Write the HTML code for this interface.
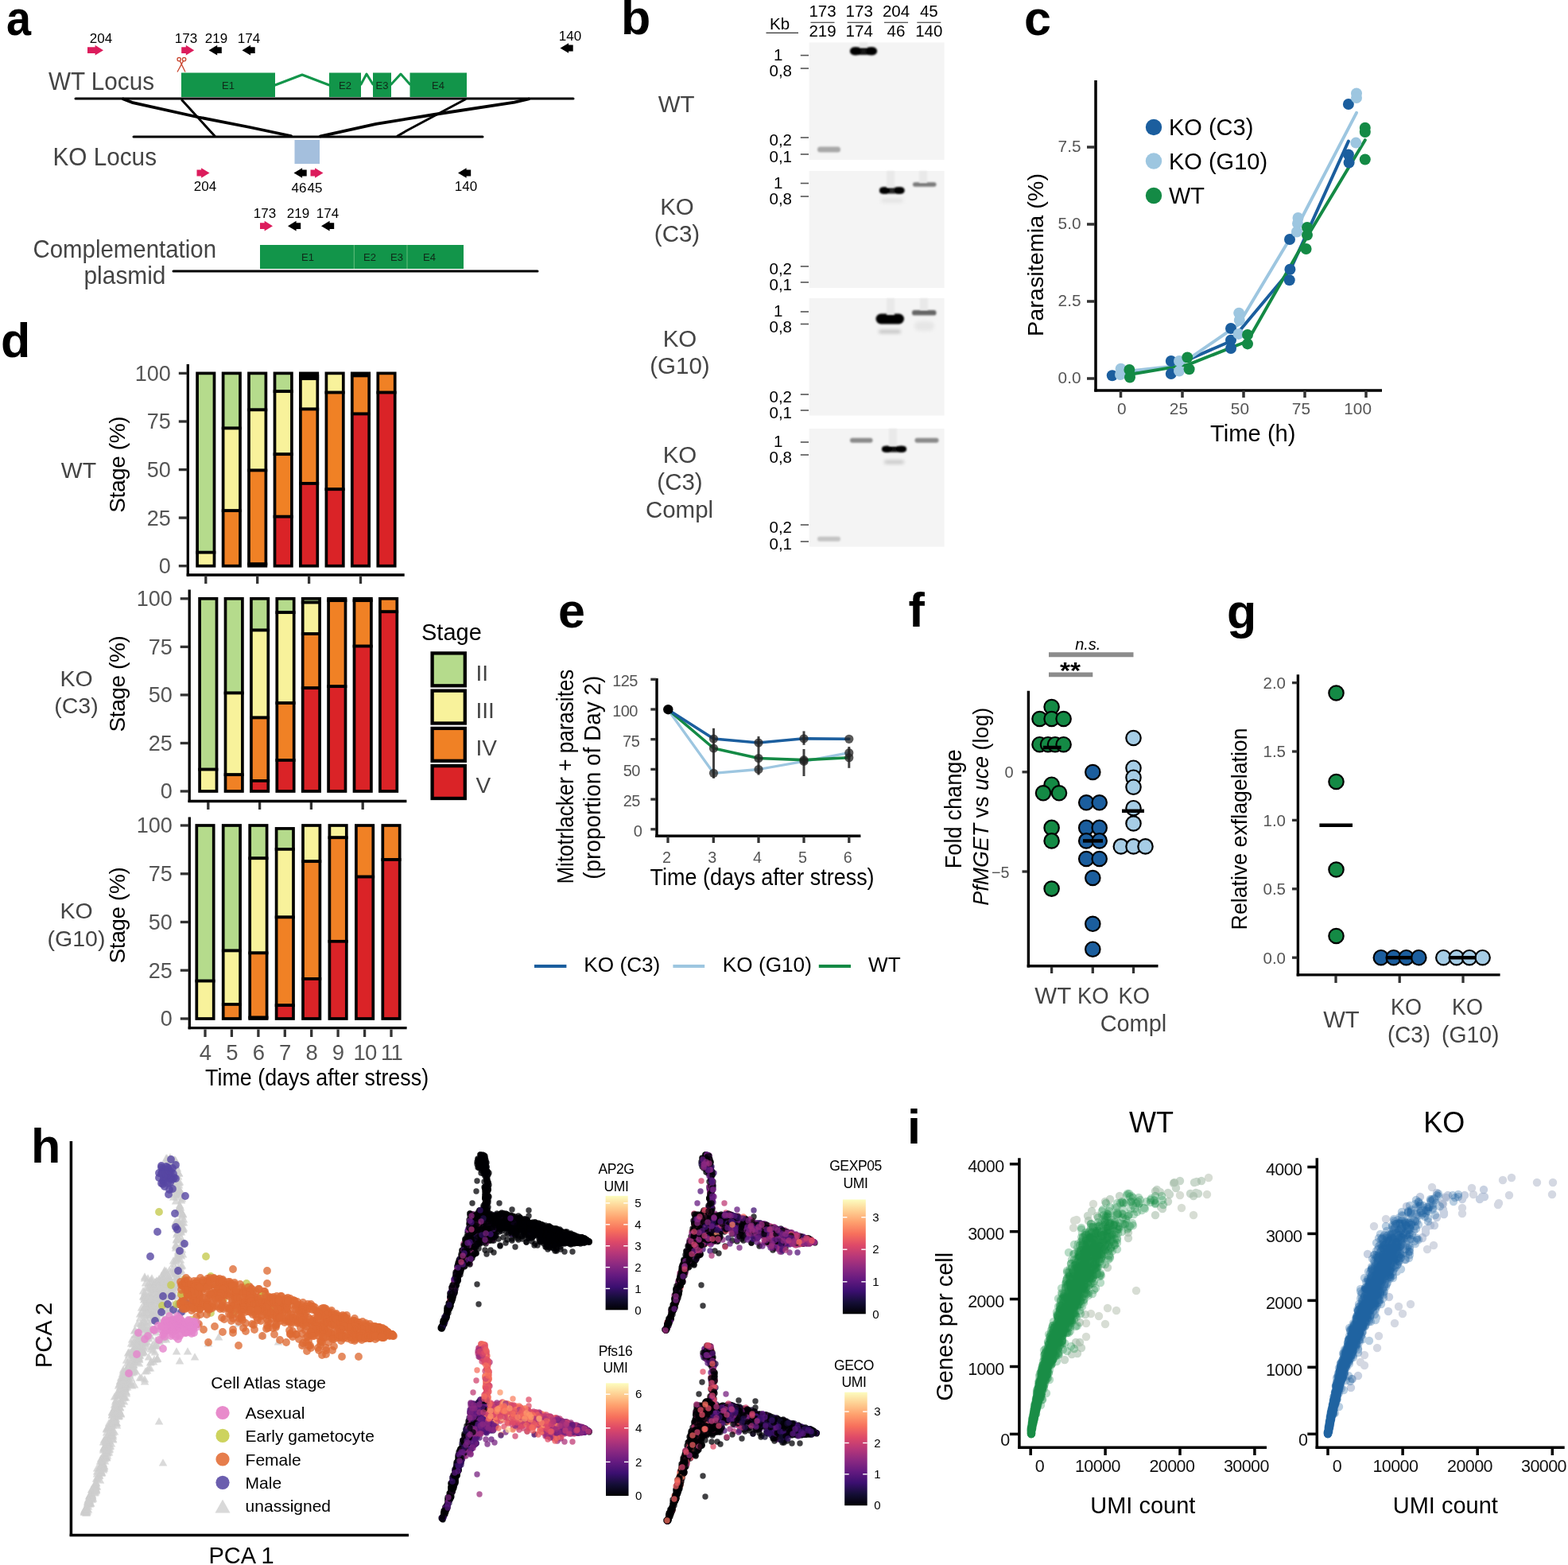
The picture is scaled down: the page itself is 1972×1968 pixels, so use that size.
<!DOCTYPE html>
<html><head><meta charset="utf-8"><title>Figure</title>
<style>html,body{margin:0;padding:0;background:#fff;}svg{display:block;}text{font-family:'Liberation Sans', Arial, Helvetica, sans-serif;}</style>
</head><body>
<svg xmlns="http://www.w3.org/2000/svg" width="1972" height="1968" viewBox="0 0 1972 1968">
<rect width="1972" height="1968" fill="#fff"/>
<text x="8" y="43.5" font-size="62" textLength="31" lengthAdjust="spacingAndGlyphs" font-weight="bold">a</text>
<text x="127" y="53.5" font-size="17" text-anchor="middle">204</text>
<text x="234" y="53.5" font-size="17" text-anchor="middle">173</text>
<text x="272" y="53.5" font-size="17" text-anchor="middle">219</text>
<text x="313" y="53.5" font-size="17" text-anchor="middle">174</text>
<text x="717" y="51" font-size="17" text-anchor="middle">140</text>
<path d="M110 59.3h9.6v-2.45l10.4 6.35l-10.4 6.35v-2.45h-9.6z" fill="#dc1c5c"/>
<path d="M228.2 59.3h5.6v-2.45l10.4 6.35l-10.4 6.35v-2.45h-5.6z" fill="#dc1c5c"/>
<path d="M262.6 63.2l10.6 -6.35v2.45h5.6v7.8h-5.6v2.45z" fill="#000"/>
<path d="M304.5 63.2l10.6 -6.35v2.45h5.6v7.8h-5.6v2.45z" fill="#000"/>
<path d="M704.5 60.5l10.6 -6.35v2.45h5.6v7.8h-5.6v2.45z" fill="#000"/>
<g stroke="#c9452e" stroke-width="1.3" fill="none"><circle cx="225.2" cy="74.6" r="2.2"/><circle cx="231.6" cy="74.6" r="2.2"/><path d="M226.3 76.6L233 90.5M230.5 76.6L223 90.5"/></g>
<text x="61" y="112.5" font-size="30.5" textLength="133" lengthAdjust="spacingAndGlyphs" fill="#444">WT Locus</text>
<rect x="228" y="91.5" width="118" height="30.5" fill="#12954a"/>
<rect x="414" y="91.5" width="40" height="30.5" fill="#12954a"/>
<rect x="469" y="91.5" width="23" height="30.5" fill="#12954a"/>
<rect x="515.5" y="91.5" width="71.5" height="30.5" fill="#12954a"/>
<path d="M346 107 L380 94 L414 107" fill="none" stroke="#12954a" stroke-width="3" stroke-linejoin="round" stroke-linecap="round"/>
<path d="M454 106 L461 93 L469 106" fill="none" stroke="#12954a" stroke-width="3" stroke-linejoin="round" stroke-linecap="round"/>
<path d="M492 106 L504 93 L515.5 106" fill="none" stroke="#12954a" stroke-width="3" stroke-linejoin="round" stroke-linecap="round"/>
<text x="287" y="111.5" font-size="13" fill="#0f2a18" text-anchor="middle">E1</text>
<text x="434" y="111.5" font-size="13" fill="#0f2a18" text-anchor="middle">E2</text>
<text x="480.5" y="111.5" font-size="13" fill="#0f2a18" text-anchor="middle">E3</text>
<text x="551" y="111.5" font-size="13" fill="#0f2a18" text-anchor="middle">E4</text>
<line x1="95" y1="124" x2="721" y2="124" stroke="#000" stroke-width="3" stroke-linecap="round"/>
<line x1="168" y1="172" x2="607" y2="172" stroke="#000" stroke-width="3" stroke-linecap="round"/>
<path d="M155 124.5 L166 128.8 L250 147.5 L314 160 L366 171" fill="none" stroke="#000" stroke-width="3.8" stroke-linejoin="round" stroke-linecap="round"/>
<path d="M229 126 L270 171" fill="none" stroke="#000" stroke-width="3" stroke-linejoin="round" stroke-linecap="round"/>
<path d="M585 125 L512 164 L500 171" fill="none" stroke="#000" stroke-width="3" stroke-linejoin="round" stroke-linecap="round"/>
<path d="M665 124.5 L647 128.6 L546 144 L473 155.8 L403 171.3" fill="none" stroke="#000" stroke-width="3.8" stroke-linejoin="round" stroke-linecap="round"/>
<rect x="370.5" y="176" width="31.5" height="30" fill="#a4bfdd"/>
<text x="66.5" y="208" font-size="30.5" textLength="130.5" lengthAdjust="spacingAndGlyphs" fill="#444">KO Locus</text>
<path d="M247.5 213.6h5.6v-2.45l10.4 6.35l-10.4 6.35v-2.45h-5.6z" fill="#dc1c5c"/>
<path d="M369.5 217.5l10.6 -6.35v2.45h5.6v7.8h-5.6v2.45z" fill="#000"/>
<path d="M390.5 213.6h5.6v-2.45l10.4 6.35l-10.4 6.35v-2.45h-5.6z" fill="#dc1c5c"/>
<path d="M576 217.5l10.6 -6.35v2.45h5.6v7.8h-5.6v2.45z" fill="#000"/>
<text x="258" y="240" font-size="17" text-anchor="middle">204</text>
<text x="376" y="242" font-size="17" text-anchor="middle">46</text>
<text x="396" y="242" font-size="17" text-anchor="middle">45</text>
<text x="586" y="240" font-size="17" text-anchor="middle">140</text>
<text x="333" y="274" font-size="17" text-anchor="middle">173</text>
<text x="375" y="274" font-size="17" text-anchor="middle">219</text>
<text x="412" y="274" font-size="17" text-anchor="middle">174</text>
<path d="M327 280.3h5.6v-2.45l10.4 6.35l-10.4 6.35v-2.45h-5.6z" fill="#dc1c5c"/>
<path d="M362 284.2l10.6 -6.35v2.45h5.6v7.8h-5.6v2.45z" fill="#000"/>
<path d="M404 284.2l10.6 -6.35v2.45h5.6v7.8h-5.6v2.45z" fill="#000"/>
<text x="41.5" y="324" font-size="30.5" textLength="230.5" lengthAdjust="spacingAndGlyphs" fill="#444">Complementation</text>
<text x="105.5" y="356.5" font-size="30.5" textLength="103" lengthAdjust="spacingAndGlyphs" fill="#444">plasmid</text>
<rect x="327" y="308" width="256" height="30" fill="#12954a"/>
<line x1="445.3" y1="308" x2="445.3" y2="338" stroke="#7bc98a" stroke-width="0.8"/>
<line x1="512" y1="308" x2="512" y2="338" stroke="#7bc98a" stroke-width="0.8"/>
<text x="387" y="328" font-size="13" fill="#0f2a18" text-anchor="middle">E1</text>
<text x="465" y="328" font-size="13" fill="#0f2a18" text-anchor="middle">E2</text>
<text x="499" y="328" font-size="13" fill="#0f2a18" text-anchor="middle">E3</text>
<text x="540" y="328" font-size="13" fill="#0f2a18" text-anchor="middle">E4</text>
<line x1="218" y1="341" x2="676" y2="341" stroke="#000" stroke-width="3" stroke-linecap="round"/>
<text x="781" y="43" font-size="61" font-weight="bold">b</text>
<defs><filter id="bl" x="-30%" y="-80%" width="160%" height="260%"><feGaussianBlur stdDeviation="1.3"/></filter><filter id="bl2" x="-30%" y="-80%" width="160%" height="260%"><feGaussianBlur stdDeviation="2"/></filter></defs>
<text x="968" y="37" font-size="20.5">Kb</text>
<line x1="963.5" y1="41.4" x2="1004" y2="41.4" stroke="#333" stroke-width="1.2"/>
<text x="1034.5" y="21" font-size="20.5" text-anchor="middle">173</text>
<text x="1034.5" y="45.8" font-size="20.5" text-anchor="middle">219</text>
<line x1="1019.5" y1="28.3" x2="1049.5" y2="28.3" stroke="#555" stroke-width="1.3"/>
<text x="1080.7" y="21" font-size="20.5" text-anchor="middle">173</text>
<text x="1080.7" y="45.8" font-size="20.5" text-anchor="middle">174</text>
<line x1="1065.7" y1="28.3" x2="1095.7" y2="28.3" stroke="#555" stroke-width="1.3"/>
<text x="1127" y="21" font-size="20.5" text-anchor="middle">204</text>
<text x="1127" y="45.8" font-size="20.5" text-anchor="middle">46</text>
<line x1="1112" y1="28.3" x2="1142" y2="28.3" stroke="#555" stroke-width="1.3"/>
<text x="1168.3" y="21" font-size="20.5" text-anchor="middle">45</text>
<text x="1168.3" y="45.8" font-size="20.5" text-anchor="middle">140</text>
<line x1="1153.3" y1="28.3" x2="1183.3" y2="28.3" stroke="#555" stroke-width="1.3"/>
<rect x="1017.6" y="53.5" width="170" height="147.5" fill="#f4f4f4"/>
<line x1="1006.8" y1="69.6" x2="1017" y2="69.6" stroke="#555" stroke-width="1.6"/>
<text x="984.5" y="75.7" font-size="20.5" text-anchor="end">1</text>
<line x1="1006.8" y1="86" x2="1017" y2="86" stroke="#555" stroke-width="1.6"/>
<text x="996" y="96.1" font-size="20.5" text-anchor="end">0,8</text>
<line x1="1006.8" y1="173" x2="1017" y2="173" stroke="#555" stroke-width="1.6"/>
<text x="996" y="183.1" font-size="20.5" text-anchor="end">0,2</text>
<line x1="1006.8" y1="194" x2="1017" y2="194" stroke="#555" stroke-width="1.6"/>
<text x="996" y="204.1" font-size="20.5" text-anchor="end">0,1</text>
<rect x="1017.6" y="215" width="170" height="147" fill="#f4f4f4"/>
<line x1="1006.8" y1="230.5" x2="1017" y2="230.5" stroke="#555" stroke-width="1.6"/>
<text x="984.5" y="236.6" font-size="20.5" text-anchor="end">1</text>
<line x1="1006.8" y1="247" x2="1017" y2="247" stroke="#555" stroke-width="1.6"/>
<text x="996" y="257.1" font-size="20.5" text-anchor="end">0,8</text>
<line x1="1006.8" y1="335" x2="1017" y2="335" stroke="#555" stroke-width="1.6"/>
<text x="996" y="345.1" font-size="20.5" text-anchor="end">0,2</text>
<line x1="1006.8" y1="355" x2="1017" y2="355" stroke="#555" stroke-width="1.6"/>
<text x="996" y="365.1" font-size="20.5" text-anchor="end">0,1</text>
<rect x="1017.6" y="375" width="170" height="147.5" fill="#f4f4f4"/>
<line x1="1006.8" y1="392" x2="1017" y2="392" stroke="#555" stroke-width="1.6"/>
<text x="984.5" y="398.1" font-size="20.5" text-anchor="end">1</text>
<line x1="1006.8" y1="407.5" x2="1017" y2="407.5" stroke="#555" stroke-width="1.6"/>
<text x="996" y="417.6" font-size="20.5" text-anchor="end">0,8</text>
<line x1="1006.8" y1="496" x2="1017" y2="496" stroke="#555" stroke-width="1.6"/>
<text x="996" y="506.1" font-size="20.5" text-anchor="end">0,2</text>
<line x1="1006.8" y1="516" x2="1017" y2="516" stroke="#555" stroke-width="1.6"/>
<text x="996" y="526.1" font-size="20.5" text-anchor="end">0,1</text>
<rect x="1017.6" y="539" width="170" height="148.5" fill="#f4f4f4"/>
<line x1="1006.8" y1="556" x2="1017" y2="556" stroke="#555" stroke-width="1.6"/>
<text x="984.5" y="562.1" font-size="20.5" text-anchor="end">1</text>
<line x1="1006.8" y1="572" x2="1017" y2="572" stroke="#555" stroke-width="1.6"/>
<text x="996" y="582.1" font-size="20.5" text-anchor="end">0,8</text>
<line x1="1006.8" y1="660" x2="1017" y2="660" stroke="#555" stroke-width="1.6"/>
<text x="996" y="670.1" font-size="20.5" text-anchor="end">0,2</text>
<line x1="1006.8" y1="681" x2="1017" y2="681" stroke="#555" stroke-width="1.6"/>
<text x="996" y="691.1" font-size="20.5" text-anchor="end">0,1</text>
<g filter="url(#bl)"><rect x="1069" y="59" width="34" height="9.5" rx="4.7" transform="translate(0 0.5)" fill="#151515"/><ellipse cx="1076.1" cy="64.3" rx="7.1" ry="5.2" fill="#000"/><ellipse cx="1095.9" cy="64.3" rx="7.1" ry="5.2" fill="#000"/></g>
<rect x="1028" y="184.5" width="29" height="7" rx="3.5" fill="#a8a8a8" filter="url(#bl)"/>
<g filter="url(#bl)"><rect x="1106" y="235" width="31.5" height="8.1" rx="4" transform="translate(0 0.5)" fill="#252525"/><ellipse cx="1112.6" cy="239.5" rx="6.6" ry="4.5" fill="#000"/><ellipse cx="1130.9" cy="239.5" rx="6.6" ry="4.5" fill="#000"/></g>
<rect x="1148" y="229.2" width="29.5" height="5.5" rx="2.8" fill="#7a7a7a" filter="url(#bl)"/>
<rect x="1108" y="249" width="28" height="6" rx="3" fill="#e4e4e4" filter="url(#bl2)"/>
<rect x="1101.5" y="394.5" width="35.5" height="13" rx="6.5" fill="#000" filter="url(#bl)"/>
<rect x="1105" y="415" width="28" height="4" rx="2" fill="#bdbdbd" filter="url(#bl2)"/>
<rect x="1147" y="390.1" width="30.5" height="6.5" rx="3.2" fill="#666" filter="url(#bl)"/>
<rect x="1150" y="404" width="25" height="12" rx="6" fill="#e6e6e6" filter="url(#bl2)"/>
<rect x="1069" y="550.7" width="28.5" height="6" rx="3" fill="#8a8a8a" filter="url(#bl)"/>
<g filter="url(#bl)"><rect x="1109" y="560.5" width="31" height="7.7" rx="3.8" transform="translate(0 0.4)" fill="#0a0a0a"/><ellipse cx="1115.5" cy="564.7" rx="6.5" ry="4.2" fill="#000"/><ellipse cx="1133.5" cy="564.7" rx="6.5" ry="4.2" fill="#000"/></g>
<rect x="1112" y="578.8" width="25" height="4.5" rx="2.2" fill="#c4c4c4" filter="url(#bl2)"/>
<rect x="1150.5" y="550.7" width="30" height="6" rx="3" fill="#8a8a8a" filter="url(#bl)"/>
<rect x="1028" y="674.7" width="29" height="6" rx="3" fill="#c4c4c4" filter="url(#bl)"/>
<rect x="1115" y="215" width="10" height="21" fill="#e9e9e9" filter="url(#bl)"/>
<rect x="1115" y="375" width="10" height="21" fill="#e9e9e9" filter="url(#bl)"/>
<rect x="1118" y="539" width="10" height="22" fill="#e9e9e9" filter="url(#bl)"/>
<rect x="1081" y="53.5" width="10" height="6.5" fill="#e9e9e9" filter="url(#bl)"/>
<rect x="1156" y="215" width="10" height="15" fill="#e9e9e9" filter="url(#bl)"/>
<rect x="1157" y="375" width="10" height="15" fill="#e9e9e9" filter="url(#bl)"/>
<text x="850.7" y="140.5" font-size="29.5" fill="#444" text-anchor="middle">WT</text>
<text x="851.5" y="269.5" font-size="29.5" fill="#444" text-anchor="middle">KO</text>
<text x="851.5" y="303.8" font-size="29.5" fill="#444" text-anchor="middle">(C3)</text>
<text x="855" y="436" font-size="29.5" fill="#444" text-anchor="middle">KO</text>
<text x="855" y="469.8" font-size="29.5" fill="#444" text-anchor="middle">(G10)</text>
<text x="855" y="582" font-size="29.5" fill="#444" text-anchor="middle">KO</text>
<text x="855" y="616.3" font-size="29.5" fill="#444" text-anchor="middle">(C3)</text>
<text x="854.5" y="651" font-size="29.5" fill="#444" text-anchor="middle">Compl</text>
<text x="1288" y="44" font-size="61" font-weight="bold">c</text>
<line x1="1378" y1="101" x2="1378" y2="492.5" stroke="#000" stroke-width="3.5"/>
<line x1="1376.3" y1="491" x2="1738" y2="491" stroke="#000" stroke-width="3.5"/>
<line x1="1367" y1="476" x2="1377" y2="476" stroke="#333" stroke-width="3.5"/>
<text x="1359.5" y="482" font-size="20.8" fill="#555" text-anchor="end">0.0</text>
<line x1="1367" y1="379" x2="1377" y2="379" stroke="#333" stroke-width="3.5"/>
<text x="1359.5" y="385" font-size="20.8" fill="#555" text-anchor="end">2.5</text>
<line x1="1367" y1="282" x2="1377" y2="282" stroke="#333" stroke-width="3.5"/>
<text x="1359.5" y="288" font-size="20.8" fill="#555" text-anchor="end">5.0</text>
<line x1="1367" y1="185" x2="1377" y2="185" stroke="#333" stroke-width="3.5"/>
<text x="1359.5" y="191" font-size="20.8" fill="#555" text-anchor="end">7.5</text>
<line x1="1409.5" y1="491" x2="1409.5" y2="500" stroke="#333" stroke-width="3.5"/>
<text x="1416.5" y="521.2" font-size="20.8" fill="#555" text-anchor="end">0</text>
<line x1="1487" y1="491" x2="1487" y2="500" stroke="#333" stroke-width="3.5"/>
<text x="1494" y="521.2" font-size="20.8" fill="#555" text-anchor="end">25</text>
<line x1="1564" y1="491" x2="1564" y2="500" stroke="#333" stroke-width="3.5"/>
<text x="1571" y="521.2" font-size="20.8" fill="#555" text-anchor="end">50</text>
<line x1="1641" y1="491" x2="1641" y2="500" stroke="#333" stroke-width="3.5"/>
<text x="1648" y="521.2" font-size="20.8" fill="#555" text-anchor="end">75</text>
<line x1="1718" y1="491" x2="1718" y2="500" stroke="#333" stroke-width="3.5"/>
<text x="1725" y="521.2" font-size="20.8" fill="#555" text-anchor="end">100</text>
<text x="1575.8" y="554.5" font-size="29" textLength="107.5" lengthAdjust="spacingAndGlyphs" text-anchor="middle">Time (h)</text>
<text x="1311.5" y="320.5" font-size="28.5" textLength="205" lengthAdjust="spacingAndGlyphs" text-anchor="middle" transform="rotate(-90 1311.5 320.5)">Parasitemia (%)</text>
<path d="M1398.8 472.3 L1473.4 461.4 L1548 429 L1622.5 340 L1695.9 177.6" fill="none" stroke="#1b5e9e" stroke-width="4" stroke-linejoin="round" stroke-linecap="round"/>
<path d="M1409.6 467.7 L1483 459.7 L1557.7 408 L1632.5 283 L1706 141.8" fill="none" stroke="#9dc6e0" stroke-width="4" stroke-linejoin="round" stroke-linecap="round"/>
<path d="M1420.4 471 L1494 458.6 L1569 429 L1642.6 300 L1716.8 176.2" fill="none" stroke="#148a45" stroke-width="4" stroke-linejoin="round" stroke-linecap="round"/>
<circle cx="1398.8" cy="472.3" r="7" fill="#1b5e9e"/>
<circle cx="1472.8" cy="454" r="7" fill="#1b5e9e"/>
<circle cx="1472.8" cy="470" r="7" fill="#1b5e9e"/>
<circle cx="1548" cy="413" r="7" fill="#1b5e9e"/>
<circle cx="1548" cy="427.8" r="7" fill="#1b5e9e"/>
<circle cx="1548" cy="438" r="7" fill="#1b5e9e"/>
<circle cx="1622" cy="301" r="7" fill="#1b5e9e"/>
<circle cx="1622.4" cy="338.8" r="7" fill="#1b5e9e"/>
<circle cx="1621.7" cy="352.3" r="7" fill="#1b5e9e"/>
<circle cx="1695.9" cy="131" r="7" fill="#1b5e9e"/>
<circle cx="1695.9" cy="194.4" r="7" fill="#1b5e9e"/>
<circle cx="1696.6" cy="204.5" r="7" fill="#1b5e9e"/>
<circle cx="1409.6" cy="463.7" r="7" fill="#9dc6e0"/>
<circle cx="1409" cy="471" r="7" fill="#9dc6e0"/>
<circle cx="1483" cy="454" r="7" fill="#9dc6e0"/>
<circle cx="1483" cy="466.6" r="7" fill="#9dc6e0"/>
<circle cx="1558.2" cy="393.7" r="7" fill="#9dc6e0"/>
<circle cx="1558.8" cy="402.8" r="7" fill="#9dc6e0"/>
<circle cx="1557.7" cy="419.9" r="7" fill="#9dc6e0"/>
<circle cx="1632.5" cy="274" r="7" fill="#9dc6e0"/>
<circle cx="1632" cy="281" r="7" fill="#9dc6e0"/>
<circle cx="1631" cy="291.5" r="7" fill="#9dc6e0"/>
<circle cx="1706" cy="117.5" r="7" fill="#9dc6e0"/>
<circle cx="1706" cy="123" r="7" fill="#9dc6e0"/>
<circle cx="1705.3" cy="179.6" r="7" fill="#9dc6e0"/>
<circle cx="1420.4" cy="464.9" r="7" fill="#148a45"/>
<circle cx="1421" cy="474.5" r="7" fill="#148a45"/>
<circle cx="1493.3" cy="449.5" r="7" fill="#148a45"/>
<circle cx="1495.6" cy="464.3" r="7" fill="#148a45"/>
<circle cx="1569" cy="421" r="7" fill="#148a45"/>
<circle cx="1569" cy="432.4" r="7" fill="#148a45"/>
<circle cx="1644" cy="286" r="7" fill="#148a45"/>
<circle cx="1644" cy="295.6" r="7" fill="#148a45"/>
<circle cx="1642.6" cy="313" r="7" fill="#148a45"/>
<circle cx="1716.8" cy="160.7" r="7" fill="#148a45"/>
<circle cx="1716.8" cy="166.1" r="7" fill="#148a45"/>
<circle cx="1716.8" cy="200.5" r="7" fill="#148a45"/>
<circle cx="1451" cy="160" r="10.2" fill="#1b5e9e"/>
<text x="1470" y="170" font-size="29">KO (C3)</text>
<circle cx="1451" cy="202.5" r="10.2" fill="#9dc6e0"/>
<text x="1470" y="212.5" font-size="29">KO (G10)</text>
<circle cx="1451" cy="246" r="10.2" fill="#148a45"/>
<text x="1470" y="256" font-size="29">WT</text>
<text x="1" y="449" font-size="61" font-weight="bold">d</text>
<rect x="248.1" y="469.4" width="21.4" height="225.3" fill="#b5db8c" stroke="#000" stroke-width="3.7"/>
<rect x="248.1" y="694.7" width="21.4" height="17" fill="#f8f29b" stroke="#000" stroke-width="3.7"/>
<rect x="280.6" y="469.4" width="21.4" height="69.1" fill="#b5db8c" stroke="#000" stroke-width="3.7"/>
<rect x="280.6" y="538.5" width="21.4" height="103.7" fill="#f8f29b" stroke="#000" stroke-width="3.7"/>
<rect x="280.6" y="642.2" width="21.4" height="69.5" fill="#f08125" stroke="#000" stroke-width="3.7"/>
<rect x="313" y="469.4" width="21.4" height="46" fill="#b5db8c" stroke="#000" stroke-width="3.7"/>
<rect x="313" y="515.4" width="21.4" height="76.1" fill="#f8f29b" stroke="#000" stroke-width="3.7"/>
<rect x="313" y="591.5" width="21.4" height="117.8" fill="#f08125" stroke="#000" stroke-width="3.7"/>
<rect x="313" y="709.3" width="21.4" height="2.4" fill="#da2327" stroke="#000" stroke-width="3.7"/>
<rect x="345.5" y="469.4" width="21.4" height="22.8" fill="#b5db8c" stroke="#000" stroke-width="3.7"/>
<rect x="345.5" y="492.2" width="21.4" height="79" fill="#f8f29b" stroke="#000" stroke-width="3.7"/>
<rect x="345.5" y="571.2" width="21.4" height="78.5" fill="#f08125" stroke="#000" stroke-width="3.7"/>
<rect x="345.5" y="649.7" width="21.4" height="62" fill="#da2327" stroke="#000" stroke-width="3.7"/>
<rect x="377.9" y="469.4" width="21.4" height="3.4" fill="#b5db8c" stroke="#000" stroke-width="3.7"/>
<rect x="377.9" y="472.8" width="21.4" height="3.4" fill="#f8f29b" stroke="#000" stroke-width="3.7"/>
<rect x="377.9" y="476.2" width="21.4" height="38.3" fill="#f8f29b" stroke="#000" stroke-width="3.7"/>
<rect x="377.9" y="514.5" width="21.4" height="93.5" fill="#f08125" stroke="#000" stroke-width="3.7"/>
<rect x="377.9" y="608" width="21.4" height="103.7" fill="#da2327" stroke="#000" stroke-width="3.7"/>
<rect x="410.4" y="469.4" width="21.4" height="24.2" fill="#f8f29b" stroke="#000" stroke-width="3.7"/>
<rect x="410.4" y="493.6" width="21.4" height="121.6" fill="#f08125" stroke="#000" stroke-width="3.7"/>
<rect x="410.4" y="615.3" width="21.4" height="96.4" fill="#da2327" stroke="#000" stroke-width="3.7"/>
<rect x="442.8" y="469.4" width="21.4" height="3.1" fill="#f8f29b" stroke="#000" stroke-width="3.7"/>
<rect x="442.8" y="472.5" width="21.4" height="48" fill="#f08125" stroke="#000" stroke-width="3.7"/>
<rect x="442.8" y="520.5" width="21.4" height="191.2" fill="#da2327" stroke="#000" stroke-width="3.7"/>
<rect x="475.3" y="469.4" width="21.4" height="24.2" fill="#f08125" stroke="#000" stroke-width="3.7"/>
<rect x="475.3" y="493.6" width="21.4" height="218.1" fill="#da2327" stroke="#000" stroke-width="3.7"/>
<line x1="236.3" y1="458" x2="236.3" y2="724.6" stroke="#000" stroke-width="3.3"/>
<line x1="234.7" y1="723" x2="508.7" y2="723" stroke="#000" stroke-width="3.3"/>
<line x1="224.8" y1="711.7" x2="235.3" y2="711.7" stroke="#333" stroke-width="3.3"/>
<text x="214.8" y="721.1" font-size="27" fill="#555" text-anchor="end">0</text>
<line x1="224.8" y1="651.1" x2="235.3" y2="651.1" stroke="#333" stroke-width="3.3"/>
<text x="214.8" y="660.5" font-size="27" fill="#555" text-anchor="end">25</text>
<line x1="224.8" y1="590.6" x2="235.3" y2="590.6" stroke="#333" stroke-width="3.3"/>
<text x="214.8" y="600" font-size="27" fill="#555" text-anchor="end">50</text>
<line x1="224.8" y1="530" x2="235.3" y2="530" stroke="#333" stroke-width="3.3"/>
<text x="214.8" y="539.4" font-size="27" fill="#555" text-anchor="end">75</text>
<line x1="224.8" y1="469.4" x2="235.3" y2="469.4" stroke="#333" stroke-width="3.3"/>
<text x="214.8" y="478.8" font-size="27" fill="#555" text-anchor="end">100</text>
<line x1="258.8" y1="725" x2="258.8" y2="734" stroke="#333" stroke-width="3.3"/>
<line x1="323.7" y1="725" x2="323.7" y2="734" stroke="#333" stroke-width="3.3"/>
<line x1="388.6" y1="725" x2="388.6" y2="734" stroke="#333" stroke-width="3.3"/>
<line x1="453.5" y1="725" x2="453.5" y2="734" stroke="#333" stroke-width="3.3"/>
<text x="99" y="600.5" font-size="28.5" fill="#444" text-anchor="middle">WT</text>
<text x="157" y="584.3" font-size="28" letter-spacing="-0.4" text-anchor="middle" transform="rotate(-90 157 584.3)">Stage (%)</text>
<rect x="251.1" y="752.8" width="21.4" height="214.8" fill="#b5db8c" stroke="#000" stroke-width="3.7"/>
<rect x="251.1" y="967.6" width="21.4" height="27.4" fill="#f8f29b" stroke="#000" stroke-width="3.7"/>
<rect x="283.5" y="752.8" width="21.4" height="118.7" fill="#b5db8c" stroke="#000" stroke-width="3.7"/>
<rect x="283.5" y="871.5" width="21.4" height="102.7" fill="#f8f29b" stroke="#000" stroke-width="3.7"/>
<rect x="283.5" y="974.2" width="21.4" height="20.8" fill="#f08125" stroke="#000" stroke-width="3.7"/>
<rect x="315.9" y="752.8" width="21.4" height="39.7" fill="#b5db8c" stroke="#000" stroke-width="3.7"/>
<rect x="315.9" y="792.5" width="21.4" height="110" fill="#f8f29b" stroke="#000" stroke-width="3.7"/>
<rect x="315.9" y="902.5" width="21.4" height="79.4" fill="#f08125" stroke="#000" stroke-width="3.7"/>
<rect x="315.9" y="981.9" width="21.4" height="13.1" fill="#da2327" stroke="#000" stroke-width="3.7"/>
<rect x="348.3" y="752.8" width="21.4" height="17.4" fill="#b5db8c" stroke="#000" stroke-width="3.7"/>
<rect x="348.3" y="770.2" width="21.4" height="113.8" fill="#f8f29b" stroke="#000" stroke-width="3.7"/>
<rect x="348.3" y="884.1" width="21.4" height="71.9" fill="#f08125" stroke="#000" stroke-width="3.7"/>
<rect x="348.3" y="956" width="21.4" height="39" fill="#da2327" stroke="#000" stroke-width="3.7"/>
<rect x="380.7" y="752.8" width="21.4" height="4.8" fill="#b5db8c" stroke="#000" stroke-width="3.7"/>
<rect x="380.7" y="757.6" width="21.4" height="39.5" fill="#f8f29b" stroke="#000" stroke-width="3.7"/>
<rect x="380.7" y="797.1" width="21.4" height="68.1" fill="#f08125" stroke="#000" stroke-width="3.7"/>
<rect x="380.7" y="865.2" width="21.4" height="129.8" fill="#da2327" stroke="#000" stroke-width="3.7"/>
<rect x="413.1" y="752.8" width="21.4" height="2.4" fill="#f8f29b" stroke="#000" stroke-width="3.7"/>
<rect x="413.1" y="755.2" width="21.4" height="108" fill="#f08125" stroke="#000" stroke-width="3.7"/>
<rect x="413.1" y="863.2" width="21.4" height="131.8" fill="#da2327" stroke="#000" stroke-width="3.7"/>
<rect x="445.5" y="752.8" width="21.4" height="2.4" fill="#f8f29b" stroke="#000" stroke-width="3.7"/>
<rect x="445.5" y="755.2" width="21.4" height="57.4" fill="#f08125" stroke="#000" stroke-width="3.7"/>
<rect x="445.5" y="812.6" width="21.4" height="182.4" fill="#da2327" stroke="#000" stroke-width="3.7"/>
<rect x="477.9" y="752.8" width="21.4" height="16.5" fill="#f08125" stroke="#000" stroke-width="3.7"/>
<rect x="477.9" y="769.3" width="21.4" height="225.7" fill="#da2327" stroke="#000" stroke-width="3.7"/>
<line x1="238.2" y1="741.5" x2="238.2" y2="1009.1" stroke="#000" stroke-width="3.3"/>
<line x1="236.6" y1="1007.5" x2="511.4" y2="1007.5" stroke="#000" stroke-width="3.3"/>
<line x1="226.7" y1="995" x2="237.2" y2="995" stroke="#333" stroke-width="3.3"/>
<text x="216.7" y="1004.4" font-size="27" fill="#555" text-anchor="end">0</text>
<line x1="226.7" y1="934.5" x2="237.2" y2="934.5" stroke="#333" stroke-width="3.3"/>
<text x="216.7" y="943.9" font-size="27" fill="#555" text-anchor="end">25</text>
<line x1="226.7" y1="873.9" x2="237.2" y2="873.9" stroke="#333" stroke-width="3.3"/>
<text x="216.7" y="883.3" font-size="27" fill="#555" text-anchor="end">50</text>
<line x1="226.7" y1="813.4" x2="237.2" y2="813.4" stroke="#333" stroke-width="3.3"/>
<text x="216.7" y="822.8" font-size="27" fill="#555" text-anchor="end">75</text>
<line x1="226.7" y1="752.8" x2="237.2" y2="752.8" stroke="#333" stroke-width="3.3"/>
<text x="216.7" y="762.2" font-size="27" fill="#555" text-anchor="end">100</text>
<line x1="261.8" y1="1009" x2="261.8" y2="1018" stroke="#333" stroke-width="3.3"/>
<line x1="326.6" y1="1009" x2="326.6" y2="1018" stroke="#333" stroke-width="3.3"/>
<line x1="391.4" y1="1009" x2="391.4" y2="1018" stroke="#333" stroke-width="3.3"/>
<line x1="456.2" y1="1009" x2="456.2" y2="1018" stroke="#333" stroke-width="3.3"/>
<text x="96" y="862.6" font-size="28.5" fill="#444" text-anchor="middle">KO</text>
<text x="96" y="897" font-size="28.5" fill="#444" text-anchor="middle">(C3)</text>
<text x="157" y="860" font-size="28" letter-spacing="-0.4" text-anchor="middle" transform="rotate(-90 157 860)">Stage (%)</text>
<rect x="247.3" y="1038" width="21.4" height="195.6" fill="#b5db8c" stroke="#000" stroke-width="3.7"/>
<rect x="247.3" y="1233.6" width="21.4" height="47.4" fill="#f8f29b" stroke="#000" stroke-width="3.7"/>
<rect x="280.7" y="1038" width="21.4" height="157.5" fill="#b5db8c" stroke="#000" stroke-width="3.7"/>
<rect x="280.7" y="1195.5" width="21.4" height="67.6" fill="#f8f29b" stroke="#000" stroke-width="3.7"/>
<rect x="280.7" y="1263" width="21.4" height="18" fill="#f08125" stroke="#000" stroke-width="3.7"/>
<rect x="314.2" y="1038" width="21.4" height="41.3" fill="#b5db8c" stroke="#000" stroke-width="3.7"/>
<rect x="314.2" y="1079.3" width="21.4" height="119.1" fill="#f8f29b" stroke="#000" stroke-width="3.7"/>
<rect x="314.2" y="1198.4" width="21.4" height="81.2" fill="#f08125" stroke="#000" stroke-width="3.7"/>
<rect x="314.2" y="1279.5" width="21.4" height="1.5" fill="#da2327" stroke="#000" stroke-width="3.7"/>
<rect x="347.6" y="1041.9" width="21.4" height="26" fill="#b5db8c" stroke="#000" stroke-width="3.7"/>
<rect x="347.6" y="1067.9" width="21.4" height="85.5" fill="#f8f29b" stroke="#000" stroke-width="3.7"/>
<rect x="347.6" y="1153.4" width="21.4" height="110.8" fill="#f08125" stroke="#000" stroke-width="3.7"/>
<rect x="347.6" y="1264.2" width="21.4" height="16.8" fill="#da2327" stroke="#000" stroke-width="3.7"/>
<rect x="381" y="1038" width="21.4" height="45.2" fill="#f8f29b" stroke="#000" stroke-width="3.7"/>
<rect x="381" y="1083.2" width="21.4" height="147.7" fill="#f08125" stroke="#000" stroke-width="3.7"/>
<rect x="381" y="1230.9" width="21.4" height="50.1" fill="#da2327" stroke="#000" stroke-width="3.7"/>
<rect x="414.4" y="1038" width="21.4" height="15.3" fill="#f8f29b" stroke="#000" stroke-width="3.7"/>
<rect x="414.4" y="1053.3" width="21.4" height="130.5" fill="#f08125" stroke="#000" stroke-width="3.7"/>
<rect x="414.4" y="1183.8" width="21.4" height="97.2" fill="#da2327" stroke="#000" stroke-width="3.7"/>
<rect x="447.9" y="1038" width="21.4" height="64.6" fill="#f08125" stroke="#000" stroke-width="3.7"/>
<rect x="447.9" y="1102.6" width="21.4" height="178.4" fill="#da2327" stroke="#000" stroke-width="3.7"/>
<rect x="481.3" y="1038" width="21.4" height="43" fill="#f08125" stroke="#000" stroke-width="3.7"/>
<rect x="481.3" y="1081" width="21.4" height="200" fill="#da2327" stroke="#000" stroke-width="3.7"/>
<line x1="238.3" y1="1027.4" x2="238.3" y2="1294.2" stroke="#000" stroke-width="3.3"/>
<line x1="236.7" y1="1292.6" x2="511.6" y2="1292.6" stroke="#000" stroke-width="3.3"/>
<line x1="226.8" y1="1281" x2="237.3" y2="1281" stroke="#333" stroke-width="3.3"/>
<text x="216.8" y="1290.4" font-size="27" fill="#555" text-anchor="end">0</text>
<line x1="226.8" y1="1220.2" x2="237.3" y2="1220.2" stroke="#333" stroke-width="3.3"/>
<text x="216.8" y="1229.7" font-size="27" fill="#555" text-anchor="end">25</text>
<line x1="226.8" y1="1159.5" x2="237.3" y2="1159.5" stroke="#333" stroke-width="3.3"/>
<text x="216.8" y="1168.9" font-size="27" fill="#555" text-anchor="end">50</text>
<line x1="226.8" y1="1098.8" x2="237.3" y2="1098.8" stroke="#333" stroke-width="3.3"/>
<text x="216.8" y="1108.2" font-size="27" fill="#555" text-anchor="end">75</text>
<line x1="226.8" y1="1038" x2="237.3" y2="1038" stroke="#333" stroke-width="3.3"/>
<text x="216.8" y="1047.4" font-size="27" fill="#555" text-anchor="end">100</text>
<line x1="258" y1="1294.5" x2="258" y2="1304" stroke="#333" stroke-width="3.3"/>
<line x1="291.4" y1="1294.5" x2="291.4" y2="1304" stroke="#333" stroke-width="3.3"/>
<line x1="324.9" y1="1294.5" x2="324.9" y2="1304" stroke="#333" stroke-width="3.3"/>
<line x1="358.3" y1="1294.5" x2="358.3" y2="1304" stroke="#333" stroke-width="3.3"/>
<line x1="391.7" y1="1294.5" x2="391.7" y2="1304" stroke="#333" stroke-width="3.3"/>
<line x1="425.1" y1="1294.5" x2="425.1" y2="1304" stroke="#333" stroke-width="3.3"/>
<line x1="458.6" y1="1294.5" x2="458.6" y2="1304" stroke="#333" stroke-width="3.3"/>
<line x1="492" y1="1294.5" x2="492" y2="1304" stroke="#333" stroke-width="3.3"/>
<text x="96" y="1155" font-size="28.5" fill="#444" text-anchor="middle">KO</text>
<text x="96" y="1189.5" font-size="28.5" fill="#444" text-anchor="middle">(G10)</text>
<text x="157" y="1151" font-size="28" letter-spacing="-0.4" text-anchor="middle" transform="rotate(-90 157 1151)">Stage (%)</text>
<text x="258.4" y="1332.6" font-size="27.5" fill="#555" text-anchor="middle">4</text>
<text x="291.8" y="1332.6" font-size="27.5" fill="#555" text-anchor="middle">5</text>
<text x="325.3" y="1332.6" font-size="27.5" fill="#555" text-anchor="middle">6</text>
<text x="358.7" y="1332.6" font-size="27.5" fill="#555" text-anchor="middle">7</text>
<text x="392.1" y="1332.6" font-size="27.5" fill="#555" text-anchor="middle">8</text>
<text x="425.5" y="1332.6" font-size="27.5" fill="#555" text-anchor="middle">9</text>
<text x="459" y="1332.6" font-size="27.5" letter-spacing="-0.8" fill="#555" text-anchor="middle">10</text>
<text x="492.4" y="1332.6" font-size="27.5" letter-spacing="-0.8" fill="#555" text-anchor="middle">11</text>
<text x="398.6" y="1365" font-size="28.6" textLength="281" lengthAdjust="spacingAndGlyphs" text-anchor="middle">Time (days after stress)</text>
<text x="530" y="805.2" font-size="29">Stage</text>
<rect x="543.6" y="821.4" width="41.2" height="40.9" fill="#b5db8c" stroke="#000" stroke-width="4.3"/>
<text x="598.5" y="855.7" font-size="28" fill="#444">II</text>
<rect x="543.6" y="868.6" width="41.2" height="40.9" fill="#f8f29b" stroke="#000" stroke-width="4.3"/>
<text x="598.5" y="902.9" font-size="28" fill="#444">III</text>
<rect x="543.6" y="915.9" width="41.2" height="40.9" fill="#f08125" stroke="#000" stroke-width="4.3"/>
<text x="598.5" y="950.1" font-size="28" fill="#444">IV</text>
<rect x="543.6" y="963.1" width="41.2" height="40.9" fill="#da2327" stroke="#000" stroke-width="4.3"/>
<text x="598.5" y="997.4" font-size="28" fill="#444">V</text>
<text x="702" y="788.5" font-size="61" font-weight="bold">e</text>
<line x1="826" y1="853" x2="826" y2="1053" stroke="#000" stroke-width="3.4"/>
<line x1="824.3" y1="1051.3" x2="1082.4" y2="1051.3" stroke="#000" stroke-width="3.4"/>
<line x1="818.3" y1="854.3" x2="825" y2="854.3" stroke="#333" stroke-width="3.3"/>
<text x="802" y="863.3" font-size="20" letter-spacing="-0.5" fill="#555" text-anchor="end">125</text>
<line x1="818.3" y1="892" x2="825" y2="892" stroke="#333" stroke-width="3.3"/>
<text x="802" y="901" font-size="20" letter-spacing="-0.5" fill="#555" text-anchor="end">100</text>
<line x1="818.3" y1="929.7" x2="825" y2="929.7" stroke="#333" stroke-width="3.3"/>
<text x="804.3" y="938.7" font-size="20" letter-spacing="-0.5" fill="#555" text-anchor="end">75</text>
<line x1="818.3" y1="967.4" x2="825" y2="967.4" stroke="#333" stroke-width="3.3"/>
<text x="805" y="976.4" font-size="20" letter-spacing="-0.5" fill="#555" text-anchor="end">50</text>
<line x1="818.3" y1="1005.1" x2="825" y2="1005.1" stroke="#333" stroke-width="3.3"/>
<text x="805" y="1014.1" font-size="20" letter-spacing="-0.5" fill="#555" text-anchor="end">25</text>
<line x1="818.3" y1="1042.8" x2="825" y2="1042.8" stroke="#333" stroke-width="3.3"/>
<text x="807.3" y="1051.8" font-size="20" letter-spacing="-0.5" fill="#555" text-anchor="end">0</text>
<line x1="840" y1="1052" x2="840" y2="1060" stroke="#333" stroke-width="3.3"/>
<text x="838.5" y="1084.8" font-size="19.8" fill="#555" text-anchor="middle">2</text>
<line x1="897.3" y1="1052" x2="897.3" y2="1060" stroke="#333" stroke-width="3.3"/>
<text x="895.8" y="1084.8" font-size="19.8" fill="#555" text-anchor="middle">3</text>
<line x1="954" y1="1052" x2="954" y2="1060" stroke="#333" stroke-width="3.3"/>
<text x="952.5" y="1084.8" font-size="19.8" fill="#555" text-anchor="middle">4</text>
<line x1="1011" y1="1052" x2="1011" y2="1060" stroke="#333" stroke-width="3.3"/>
<text x="1009.5" y="1084.8" font-size="19.8" fill="#555" text-anchor="middle">5</text>
<line x1="1067.8" y1="1052" x2="1067.8" y2="1060" stroke="#333" stroke-width="3.3"/>
<text x="1066.3" y="1084.8" font-size="19.8" fill="#555" text-anchor="middle">6</text>
<text x="958.6" y="1112.8" font-size="29" textLength="282" lengthAdjust="spacingAndGlyphs" text-anchor="middle">Time (days after stress)</text>
<text x="720.8" y="976.6" font-size="29" textLength="270" lengthAdjust="spacingAndGlyphs" text-anchor="middle" transform="rotate(-90 720.8 976.6)">Mitotrlacker + parasites</text>
<text x="755.4" y="977.7" font-size="29" textLength="256" lengthAdjust="spacingAndGlyphs" text-anchor="middle" transform="rotate(-90 755.4 977.7)">(proportion of Day 2)</text>
<path d="M840 892.2 L897.5 972.3 L954 967.5 L1011 957.4 L1067.8 946.7" fill="none" stroke="#9dc6e0" stroke-width="3.3" stroke-linejoin="round" stroke-linecap="round"/>
<path d="M840 892.2 L897.5 941 L954 953.5 L1011 955.6 L1067.8 952.8" fill="none" stroke="#148a45" stroke-width="3.6" stroke-linejoin="round" stroke-linecap="round"/>
<path d="M840 892.2 L897.5 929 L954 934 L1011 928.8 L1067.8 929.3" fill="none" stroke="#1b5e9e" stroke-width="3.6" stroke-linejoin="round" stroke-linecap="round"/>
<line x1="897.5" y1="915.8" x2="897.5" y2="978.8" stroke="#2e2e2e" stroke-width="3" stroke-opacity="0.9"/>
<line x1="954" y1="926" x2="954" y2="974.5" stroke="#2e2e2e" stroke-width="3" stroke-opacity="0.9"/>
<line x1="1011" y1="919.4" x2="1011" y2="936.8" stroke="#2e2e2e" stroke-width="3" stroke-opacity="0.9"/>
<line x1="1011" y1="942" x2="1011" y2="976" stroke="#2e2e2e" stroke-width="3" stroke-opacity="0.9"/>
<line x1="1067.8" y1="939" x2="1067.8" y2="965.8" stroke="#2e2e2e" stroke-width="3" stroke-opacity="0.9"/>
<circle cx="897.5" cy="972.3" r="5.6" fill="#222" fill-opacity="0.75"/>
<circle cx="954" cy="967.5" r="5.6" fill="#222" fill-opacity="0.75"/>
<circle cx="1011" cy="957.4" r="5.6" fill="#222" fill-opacity="0.75"/>
<circle cx="1067.8" cy="946.7" r="5.6" fill="#222" fill-opacity="0.75"/>
<circle cx="897.5" cy="941" r="5.6" fill="#222" fill-opacity="0.75"/>
<circle cx="954" cy="953.5" r="5.6" fill="#222" fill-opacity="0.75"/>
<circle cx="1011" cy="955.6" r="5.6" fill="#222" fill-opacity="0.75"/>
<circle cx="1067.8" cy="952.8" r="5.6" fill="#222" fill-opacity="0.75"/>
<circle cx="897.5" cy="929" r="5.6" fill="#222" fill-opacity="0.75"/>
<circle cx="954" cy="934" r="5.6" fill="#222" fill-opacity="0.75"/>
<circle cx="1011" cy="928.8" r="5.6" fill="#222" fill-opacity="0.75"/>
<circle cx="1067.8" cy="929.3" r="5.6" fill="#222" fill-opacity="0.75"/>
<circle cx="840.3" cy="892.2" r="6.2" fill="#000"/>
<line x1="672" y1="1215" x2="712.4" y2="1215" stroke="#1b5e9e" stroke-width="3.8"/>
<text x="734.3" y="1221.9" font-size="26.2">KO (C3)</text>
<line x1="846.4" y1="1215" x2="886.2" y2="1215" stroke="#9dc6e0" stroke-width="3.8"/>
<text x="908.8" y="1221.9" font-size="26.2">KO (G10)</text>
<line x1="1029.8" y1="1215" x2="1070" y2="1215" stroke="#148a45" stroke-width="3.8"/>
<text x="1092" y="1221.9" font-size="26.2">WT</text>
<text x="1142.5" y="788" font-size="61" font-weight="bold">f</text>
<line x1="1293.4" y1="868.8" x2="1293.4" y2="1216.5" stroke="#000" stroke-width="3.4"/>
<line x1="1291.7" y1="1214.8" x2="1456.5" y2="1214.8" stroke="#000" stroke-width="3.4"/>
<line x1="1285.5" y1="970.8" x2="1292" y2="970.8" stroke="#333" stroke-width="3.3"/>
<text x="1274.5" y="978.3" font-size="20" fill="#555" text-anchor="end">0</text>
<line x1="1285.5" y1="1096" x2="1292" y2="1096" stroke="#333" stroke-width="3.3"/>
<text x="1269.5" y="1103.5" font-size="20" textLength="22.5" lengthAdjust="spacingAndGlyphs" fill="#555" text-anchor="end">−5</text>
<line x1="1322.6" y1="1216" x2="1322.6" y2="1224" stroke="#333" stroke-width="3.3"/>
<line x1="1374.3" y1="1216" x2="1374.3" y2="1224" stroke="#333" stroke-width="3.3"/>
<line x1="1425.5" y1="1216" x2="1425.5" y2="1224" stroke="#333" stroke-width="3.3"/>
<text x="1324.3" y="1262.1" font-size="29.2" textLength="46" lengthAdjust="spacingAndGlyphs" fill="#444" text-anchor="middle">WT</text>
<text x="1374.8" y="1262.1" font-size="29.2" textLength="39.5" lengthAdjust="spacingAndGlyphs" fill="#444" text-anchor="middle">KO</text>
<text x="1426.2" y="1262.1" font-size="29.2" textLength="39.5" lengthAdjust="spacingAndGlyphs" fill="#444" text-anchor="middle">KO</text>
<text x="1425.4" y="1297.3" font-size="29.2" textLength="83.5" lengthAdjust="spacingAndGlyphs" fill="#444" text-anchor="middle">Compl</text>
<text x="1208.7" y="1017.3" font-size="29.3" textLength="150" lengthAdjust="spacingAndGlyphs" text-anchor="middle" transform="rotate(-90 1208.7 1017.3)">Fold change</text>
<text x="1243.5" y="1014.2" font-size="28.5" text-anchor="middle" textLength="249" lengthAdjust="spacingAndGlyphs" transform="rotate(-90 1243.5 1014.2)"><tspan font-style="italic">PfMGET</tspan> vs <tspan font-style="italic">uce</tspan> (log)</text>
<line x1="1319" y1="823.3" x2="1425.5" y2="823.3" stroke="#8c8c8c" stroke-width="6"/>
<line x1="1319" y1="848.4" x2="1374.3" y2="848.4" stroke="#8c8c8c" stroke-width="5.8"/>
<text x="1368.3" y="816.5" font-size="20" text-anchor="middle" font-style="italic">n.s.</text>
<text x="1346" y="853" font-size="30" textLength="26" lengthAdjust="spacingAndGlyphs" text-anchor="middle" font-weight="bold">**</text>
<circle cx="1322.6" cy="889" r="9.2" fill="#148a45" stroke="#000" stroke-width="2.2"/>
<circle cx="1307.5" cy="904" r="9.2" fill="#148a45" stroke="#000" stroke-width="2.2"/>
<circle cx="1322.6" cy="904" r="9.2" fill="#148a45" stroke="#000" stroke-width="2.2"/>
<circle cx="1337.6" cy="904" r="9.2" fill="#148a45" stroke="#000" stroke-width="2.2"/>
<circle cx="1307.5" cy="936.2" r="9.2" fill="#148a45" stroke="#000" stroke-width="2.2"/>
<circle cx="1318" cy="936.2" r="9.2" fill="#148a45" stroke="#000" stroke-width="2.2"/>
<circle cx="1327" cy="936.2" r="9.2" fill="#148a45" stroke="#000" stroke-width="2.2"/>
<circle cx="1337.6" cy="936.2" r="9.2" fill="#148a45" stroke="#000" stroke-width="2.2"/>
<circle cx="1322.6" cy="986.7" r="9.2" fill="#148a45" stroke="#000" stroke-width="2.2"/>
<circle cx="1312" cy="997.3" r="9.2" fill="#148a45" stroke="#000" stroke-width="2.2"/>
<circle cx="1332" cy="997.3" r="9.2" fill="#148a45" stroke="#000" stroke-width="2.2"/>
<circle cx="1322.6" cy="1040.9" r="9.2" fill="#148a45" stroke="#000" stroke-width="2.2"/>
<circle cx="1322.6" cy="1057.4" r="9.2" fill="#148a45" stroke="#000" stroke-width="2.2"/>
<circle cx="1322.6" cy="1117.6" r="9.2" fill="#148a45" stroke="#000" stroke-width="2.2"/>
<line x1="1312" y1="940" x2="1334.6" y2="940" stroke="#000" stroke-width="4.5"/>
<circle cx="1374.3" cy="971" r="9.2" fill="#1b5e9e" stroke="#000" stroke-width="2.2"/>
<circle cx="1366.2" cy="1009.3" r="9.2" fill="#1b5e9e" stroke="#000" stroke-width="2.2"/>
<circle cx="1382.7" cy="1009.3" r="9.2" fill="#1b5e9e" stroke="#000" stroke-width="2.2"/>
<circle cx="1366.2" cy="1040.9" r="9.2" fill="#1b5e9e" stroke="#000" stroke-width="2.2"/>
<circle cx="1382.7" cy="1040.9" r="9.2" fill="#1b5e9e" stroke="#000" stroke-width="2.2"/>
<circle cx="1366.2" cy="1057.4" r="9.2" fill="#1b5e9e" stroke="#000" stroke-width="2.2"/>
<circle cx="1382.7" cy="1057.4" r="9.2" fill="#1b5e9e" stroke="#000" stroke-width="2.2"/>
<circle cx="1366.2" cy="1080" r="9.2" fill="#1b5e9e" stroke="#000" stroke-width="2.2"/>
<circle cx="1382.7" cy="1080" r="9.2" fill="#1b5e9e" stroke="#000" stroke-width="2.2"/>
<circle cx="1374.3" cy="1104" r="9.2" fill="#1b5e9e" stroke="#000" stroke-width="2.2"/>
<circle cx="1374.3" cy="1161.8" r="9.2" fill="#1b5e9e" stroke="#000" stroke-width="2.2"/>
<circle cx="1374.3" cy="1193.7" r="9.2" fill="#1b5e9e" stroke="#000" stroke-width="2.2"/>
<line x1="1362" y1="1057.4" x2="1387" y2="1057.4" stroke="#000" stroke-width="4.5"/>
<circle cx="1425.5" cy="928" r="9.2" fill="#a6cde6" stroke="#000" stroke-width="2.2"/>
<circle cx="1425.5" cy="965.7" r="9.2" fill="#a6cde6" stroke="#000" stroke-width="2.2"/>
<circle cx="1425.5" cy="977.7" r="9.2" fill="#a6cde6" stroke="#000" stroke-width="2.2"/>
<circle cx="1425.5" cy="989.7" r="9.2" fill="#a6cde6" stroke="#000" stroke-width="2.2"/>
<circle cx="1425.5" cy="1016.2" r="9.2" fill="#a6cde6" stroke="#000" stroke-width="2.2"/>
<circle cx="1425.5" cy="1035.5" r="9.2" fill="#a6cde6" stroke="#000" stroke-width="2.2"/>
<circle cx="1409.8" cy="1064.4" r="9.2" fill="#a6cde6" stroke="#000" stroke-width="2.2"/>
<circle cx="1425.5" cy="1064.4" r="9.2" fill="#a6cde6" stroke="#000" stroke-width="2.2"/>
<circle cx="1440.5" cy="1064.4" r="9.2" fill="#a6cde6" stroke="#000" stroke-width="2.2"/>
<line x1="1411" y1="1019.8" x2="1439" y2="1019.8" stroke="#000" stroke-width="4.5"/>
<text x="1543" y="790" font-size="61" font-weight="bold">g</text>
<line x1="1632.4" y1="848.3" x2="1632.4" y2="1227.5" stroke="#000" stroke-width="3.4"/>
<line x1="1630.7" y1="1225.9" x2="1886.6" y2="1225.9" stroke="#000" stroke-width="3.4"/>
<line x1="1625" y1="1204.2" x2="1631.5" y2="1204.2" stroke="#333" stroke-width="3.3"/>
<text x="1617" y="1211.6" font-size="20.5" fill="#555" text-anchor="end">0.0</text>
<line x1="1625" y1="1117.8" x2="1631.5" y2="1117.8" stroke="#333" stroke-width="3.3"/>
<text x="1617" y="1125.2" font-size="20.5" fill="#555" text-anchor="end">0.5</text>
<line x1="1625" y1="1031.4" x2="1631.5" y2="1031.4" stroke="#333" stroke-width="3.3"/>
<text x="1617" y="1038.8" font-size="20.5" fill="#555" text-anchor="end">1.0</text>
<line x1="1625" y1="945" x2="1631.5" y2="945" stroke="#333" stroke-width="3.3"/>
<text x="1617" y="952.4" font-size="20.5" fill="#555" text-anchor="end">1.5</text>
<line x1="1625" y1="858.6" x2="1631.5" y2="858.6" stroke="#333" stroke-width="3.3"/>
<text x="1617" y="866" font-size="20.5" fill="#555" text-anchor="end">2.0</text>
<line x1="1680" y1="1227" x2="1680" y2="1236" stroke="#333" stroke-width="3.3"/>
<line x1="1760.2" y1="1227" x2="1760.2" y2="1236" stroke="#333" stroke-width="3.3"/>
<line x1="1840" y1="1227" x2="1840" y2="1236" stroke="#333" stroke-width="3.3"/>
<text x="1686.9" y="1291.6" font-size="29" textLength="45.5" lengthAdjust="spacingAndGlyphs" fill="#444" text-anchor="middle">WT</text>
<text x="1768.4" y="1276.1" font-size="29" textLength="39" lengthAdjust="spacingAndGlyphs" fill="#444" text-anchor="middle">KO</text>
<text x="1772" y="1311" font-size="29" textLength="54" lengthAdjust="spacingAndGlyphs" fill="#444" text-anchor="middle">(C3)</text>
<text x="1845.4" y="1276.1" font-size="29" textLength="39" lengthAdjust="spacingAndGlyphs" fill="#444" text-anchor="middle">KO</text>
<text x="1849.3" y="1311" font-size="29" textLength="72.5" lengthAdjust="spacingAndGlyphs" fill="#444" text-anchor="middle">(G10)</text>
<text x="1567.8" y="1042.4" font-size="28.5" textLength="254" lengthAdjust="spacingAndGlyphs" text-anchor="middle" transform="rotate(-90 1567.8 1042.4)">Relative exflagelation</text>
<circle cx="1680.5" cy="871.5" r="9.2" fill="#148a45" stroke="#000" stroke-width="2.2"/>
<circle cx="1680.5" cy="983" r="9.2" fill="#148a45" stroke="#000" stroke-width="2.2"/>
<circle cx="1680.5" cy="1093.5" r="9.2" fill="#148a45" stroke="#000" stroke-width="2.2"/>
<circle cx="1680.5" cy="1177" r="9.2" fill="#148a45" stroke="#000" stroke-width="2.2"/>
<line x1="1659.4" y1="1037.8" x2="1701" y2="1037.8" stroke="#000" stroke-width="4.6"/>
<circle cx="1736.8" cy="1204.2" r="9.2" fill="#1b5e9e" stroke="#000" stroke-width="2.2"/>
<circle cx="1752.7" cy="1204.2" r="9.2" fill="#1b5e9e" stroke="#000" stroke-width="2.2"/>
<circle cx="1768.6" cy="1204.2" r="9.2" fill="#1b5e9e" stroke="#000" stroke-width="2.2"/>
<circle cx="1784.3" cy="1204.2" r="9.2" fill="#1b5e9e" stroke="#000" stroke-width="2.2"/>
<line x1="1743.7" y1="1204.2" x2="1776.2" y2="1204.2" stroke="#000" stroke-width="4.6"/>
<circle cx="1815.3" cy="1204.2" r="9.2" fill="#a6cde6" stroke="#000" stroke-width="2.2"/>
<circle cx="1831.8" cy="1204.2" r="9.2" fill="#a6cde6" stroke="#000" stroke-width="2.2"/>
<circle cx="1848" cy="1204.2" r="9.2" fill="#a6cde6" stroke="#000" stroke-width="2.2"/>
<circle cx="1864.6" cy="1204.2" r="9.2" fill="#a6cde6" stroke="#000" stroke-width="2.2"/>
<line x1="1823" y1="1204.2" x2="1856.5" y2="1204.2" stroke="#000" stroke-width="4.6"/>
<text x="39" y="1462" font-size="61" font-weight="bold">h</text>
<line x1="89.4" y1="1435" x2="89.4" y2="1932" stroke="#000" stroke-width="3.5"/>
<line x1="87.7" y1="1930.5" x2="514" y2="1930.5" stroke="#000" stroke-width="3.5"/>
<text x="65" y="1679" font-size="29" text-anchor="middle" transform="rotate(-90 65 1679)">PCA 2</text>
<text x="303.5" y="1966" font-size="29" text-anchor="middle">PCA 1</text>
<defs><marker id="hU" markerUnits="userSpaceOnUse" markerWidth="12.5" markerHeight="12.5" refX="6.2" refY="6.7" overflow="visible"><path d="M6.2 1L11.5 10.1H1z" fill="#cdcdcd" fill-opacity="0.75"/></marker><marker id="hF" markerUnits="userSpaceOnUse" markerWidth="11.8" markerHeight="11.8" refX="5.9" refY="5.9" overflow="visible"><circle cx="5.9" cy="5.9" r="4.9" fill="#de6a33" fill-opacity="0.78"/></marker><marker id="hA" markerUnits="userSpaceOnUse" markerWidth="11.8" markerHeight="11.8" refX="5.9" refY="5.9" overflow="visible"><circle cx="5.9" cy="5.9" r="4.9" fill="#e584cc" fill-opacity="0.8"/></marker><marker id="hE" markerUnits="userSpaceOnUse" markerWidth="11.8" markerHeight="11.8" refX="5.9" refY="5.9" overflow="visible"><circle cx="5.9" cy="5.9" r="4.9" fill="#c5cb50" fill-opacity="0.8"/></marker><marker id="hM" markerUnits="userSpaceOnUse" markerWidth="11.8" markerHeight="11.8" refX="5.9" refY="5.9" overflow="visible"><circle cx="5.9" cy="5.9" r="4.9" fill="#5646a3" fill-opacity="0.8"/></marker><marker id="hU2" markerUnits="userSpaceOnUse" markerWidth="19" markerHeight="19" refX="9.5" refY="10.2" overflow="visible"><path d="M9.5 1L18.0 15.8H1z" fill="#d4d4d4" fill-opacity="1"/></marker></defs>
<path d="M221 1460l-1-1-1 0-1 2-1-2-1 3-2-6 0 2-1 4-2 0-1-5 0 2-1-2 3 9 1 0 1 6 0 3 1-3 0 2 1-1 0-1 0-3 1 6 0-4 1-1 0-5 1 5 1-3 1-1 2 4 3 17-1-11 0 0-1 4-3-1-2 6-1-3 0 0-1-3-1-3 0 8 0-7-1 8-1-8 3 18 1 2 0-5 1-3 2 8 1-7 2 5 0 1 1-8 0 3 0 6 2 2 0-1 2 10-1 2 0-9-4 2-2 3-1 5 0-8-1-2-2 5 7 16 0-1 0-1 1 2 0-6 0 1 1 2 4 15-1-7 0 1-1 2-1-6 0 3-8 12 1-2 1 4 0 5 1-5 0-4 2 0 1 3 0-3 2 4 1 2 0-5 1 9 0-1 0 0 1-1 0-7-2 21-1-9-1-2-1 2-1 2-1 4-1-5 0 0-1 8 0-6-1 13 0 1 0 3 1-10 0 8 0 0 4-8 3 3 0 2 2-2-1 15-1-6-1 8 0-6-2 4-2-2 0 4 0-6-2 9 0-2-4 9 0-4 4 1 2-3 0 11 3-10 1 8 1-1-1 6-1 2-2-4-1 4 0 3-1 3 0 0-1 0-1-10 0 7-1 0-1-2-2 0 0-5-4 2 0 9-1-2-3-6-1 7-1-6 0-2 0 8-1-5-1 6-1 0-1-2-21 1 0 2 1 6 3-6 1 6 1 3 2-7 1 7 0-5 0-4 2 9 0 2 2-6 0 0 0 2 2-4 0 1 3 1 0 1 0 1 0-6 0 1 3 1 1-2 1 6 1-6 0 1 0 3 2 5 0-3 2 2 1-9 0 11 0-10 0 3 1 4 2-5 0-1 0 3 0 3 1 2 0-7 0 5 1 1 1-1 1 2 1-2 1 3 0-2 0-8 1 8 1-1 0-4 1-3 0 0 0 0-2 22-2-8-1 5 0-8-1 6-1 4 0 1-1-8 0-2 0 6-2 2 0-3 0 3-1-2 0 3-1 1-1-8 0 5-2 2-1-1-1-1-1 1 0-9-1 9 0 0 0-8 0 6-1-2 0-4-1 5-2-5 0 7 0-5 0-3-1 0-1 7 0 2-1 0 0-1-1-7-1 0-1-1 0 3-1 5 0-4-1-3 0 8-1-8-2 6 0 4 0-9 0-2-1 9-1-9-1 10-2-10-1 9-1-3-1 4-1 1 0-7 1 8 0 3 1-1 1-2 0 5 1 1 0-3 0 1 0 5 1-6 0-1 1 9 0-6 0-5 1 11 1-6 0 4 1-7 0 4 1-3 0-3 0 4 0-3 0 1 1 7 0 1 1 0 0 0 1 1 2-9 1 0 1 3 1-5 0 8 0-5 1 0 0 0 2 1 1 0 1 1 0-4 1 8 3 1 1-5 2-1 3 7 4-2 18 3-6 5-1 1-6-1-7 0-2 3 0-5-3 2-1 0-6-1 0 5 0-6-3 0 0-2 0-1-2 0 0 0-1 10-1-7-1-3 0 8-1 3-1-1 0-10-1 9 0-3-1 2-1 1-1 2-1-11-1 10 0-6-2 1 0-3 0 1-1 4-2 4 0-10-1 0 0 8 0-2 0-6-3 6 0-6-2 8-3 12 3-7 1 7 1 1 1 1 1-5 2 1 1 1 0-6 3 5 5-5 0 3 3 0 0-5 3 3 2 0 1 2 5 4 1-4 0 0 2 5 11-5 6-3 3-1 72 8-98 6-6 5-1-3-1-1-3 0 0 1-2 0-1-1-1 6 0-10 0 10-1-5 0 4 0-1-2-5-2-1-1 3 0-3-1 2-1-2 0-2-3 3-1 8-1-2 0 2-3 0-1 0 0-6-1 1-4 16 1-5 1 6 2-4 2 1 2-6 1 3 1-2 0 7 0 1 0-5 1 4 0-10 1 10 0-3 1 4 0-2 2-5 0 2 0-5 0 6 1 1 2-8 0 1 0-1 0 10 0-8 0 6 1-5 0-2 1 7 1-4 1-1 2-3 0 1 7 10 0-5 4 0 1 2 3-6 1 3 2-3 0 1 1 0 1 2 53 5 13-8 55-2 20 8 33 4-147 8-14 0-24-7-3 0 0 8-3-2 0-7-1 2-1 3-6-3-3 2 0 5-1-1-1 2 0-4-1-1 0-4-1 3 0 6 0-2-1 1-2-7-1 8-1-9 0-1-2 4-1-1 0 3-2 5 0-5-1 3 0-1-2 1-2 0-1 1-2 9 1 4 2-11 2 4 0 5 4-3 0-6 0 1 1 8 0-5 1 5 0-9 1 0 1 9 1-4 1-5 0 2 1-1 0 0 0 5 0 5 0-5 0-2 1-3 11 2 2 7 1-1 3 0 1-3 3 0 1-1 0 0 28 3 19-5-56 14-2 0-2 3-2 1-12 0-2-2-1 1 0 2 0-9 0 0-1 0 0 8-1-6 0 4 0 4-1-7-1 1-1-5-3 4-1 3 0 4 0-4-1 1-2 3-1-4 0 2-4 13 0-1 1-4 1 6 1-11 0 10 0-5 0-1 1 6 2-6 0-2 1 2 1 0 1 3 0-3 0 5 1-5 1 7 1-11 0 2 1 8 1-4 11-1 2 0 4 2 0 3-13 4-3 1-4-3-2 5 0-4-1 1 0 9-1-5 0 4-1-9 0 4 0 2 0-3 0-4 0 4-1 2 0-6 0 1-1 3 0 0-1 7-2-10-1 4 0 3-1-7-1 2 0 6-5 8 1 6 1-7 0 5 2-9 1 3 0-1 1 1 2-1 0 8 0 0 0-7 1-1 0 8 1-7 0 1 1 0 1 2 0-1 0 0 0 6 0-5 2 0 1-5-6 13 0 0-2 4 0 1-1 4 0-9 0 8-1-9 0 9 0 1 0-6-2 3 0 0-1-6 0 0 0 9 0-10-1 10 0 0 0-5 0-2-1 3 0-4-1 6-2 3 0 4 0 0 0 5 0-8 3 6 1-5 0 8 1-1 2-4 0-4 1 5 0-1 1-3 0 3 2-2 0-1 48 10-53 2 0 3-1-3 0 0-2-2-2 5 0 6-2-5 0-4 0 1 0-3-1 3 0 4 0 0-2-5-1 5 0 1-2 1 0 1-3 13 2-2 1-7 1 8 0-4 3-5 0 6 2-3 0-2 1 4 1 4 0-3 0 4 0-6 0-3 2-1-4 15-1 3-1-6 0 10 0-3-1-4 0-4-2 4 0 5-1-5 0 5-1-8 0 1 0-2-1 11-1-2 0-1-1-6 0 8-3 13 3-2 0-9 0 6 1 0 1 5 0-2 1 0 1 0 0 0 0-8 0 9 1-7 0 4 0-3 2-1 0-3 68 16-73-2-1 9 0-2 0-1-1-3 0 6-1-10 0 10 0-3-1-7 0-1 0 10 0-5 0 0-1-2-1 5 0 3 0-9 0 8-1 1-3 0 0 4 0 3 1 4 1-1 1-1 0 0 2-3 0-2 1 2 0-1 2-3-4 13-4 8 0-10-1 0 0 5 0 5 0-4-1 0 0 4-1-3-7 15 1 0 0-1 0 0 0 0 1-1 0 3 0-3 0 3 1-1 0-8 1-1 0 10 0-2 0 1 0-2 0-6 3 4 0-6 0 0 1 5 0-2 0-2 1 1 0-1 0 2-4 10-1 1-1 0-1 5 0 0-1-3 0 4-1-6 0 1-1 3 0-2 0 4 0-6 0 3 0 2 0 4 0-8-1 4 0-2-1 6-3 6 0-1 0 2 0 0 1-3 0-1 1 3 0 0 0-4 0 6 1 0 0-1 1-1 0-3 1 1" fill="none" marker-start="url(#hU)" marker-mid="url(#hU)" marker-end="url(#hU)"/>
<path d="M200 1524l59 56 6 25-50 11 17-7 54 7 14 9-24-5-30 2-42 20 46-5 31-3 36 6 46-5-68 15-30 1" fill="none" marker-start="url(#hE)" marker-mid="url(#hE)" marker-end="url(#hE)"/>
<path d="M216 1630l-11 0 6 10 14 0 7-4 6 4-10 10-10-3-15 3-8 11" fill="none" marker-start="url(#hM)" marker-mid="url(#hM)" marker-end="url(#hM)"/>
<path d="M336 1598l-72 9-12 0-18 0-7 5 1 4 1-1 1 2 2 1 0 1 2-8 3 8 4-3 3-5 2 6 1 2 1-8 1 3 5-1 3 0 0 5 2-6 1 1 0-2 1 0 0-3 1 5 0 0 1-3 0 7 0-6 0 7 6 0 0-3 0 0 4 3 1-9 1 5 2-2 0 4 2 2 1-9 1 2 6 4 1 4 2-5 3 4 1-1 1-4 0 2 13 4 5-1 1 0 22-4 17 16-20-6-1 4 0-4-4 6-1 0-5-6-2 7-3-1-1 0-3-7-1 4-1 0-1-2-1 1 0 1-1-1-1-4-3 4-6 4-3 0 0-1 0-2 0 1-1-7 0-1-2 6-2 2-5-8-4 9-2-6 0 3-1-4-2 0-2-1-2 8 0-3-6 1-2 2-1-1-2-3-2-5-5 2-1-1-2 1-1 6-1-3 0 0-1 4-2-2-2 4 0-1 0-6-1-1 0 5-1-6-1 5-2 2-1-9-2 5-1 4 0-6-4 6 0-2-1 0-2 1-1 11 2-3 1-3 5 8 0 0 8-7 3 1 0 8 0-10 3 0 0 6 0 0 0-4 11 5 0 3 0-4 2-6 1 4 5 6 3-9 0-1 2 10 3-11 3 10 1-5 6 5 6-4 0-3 4-2 2-1 1 2 11 8 3-3 0 3 3-3 1-6 2 7 1-7 1 2 1 2 1 3 3 2 0-3 0 2 0-2 1 4 1-10 0 3 1 1 0 4 0-8 0 6 5-5 3-2 1 3 3-3 0 10 1-7 1 8 1-7 0-2 1-1 1 1 1 3 1 4 1-8 3 9 3-8 0 7 4-6 0 2 1-4 0 6 3-2 2-4 0 8 4-6 5 6 1 0 4 0 2-3 10 2 1 3 44 11-8 1-5-3-1 2 0-1-4 2 0 0-1 0-1-5-1 2-1 2-4-8-2 9 0-10-1 3-1 4-1 0-1-6-2 8-2-5-1 1-1-1-2-5-6 2-8 2-1-2 0 7-14 1-5-8 0 4-2-3 0 0-3 1-4-4-1 0-1 8 0-3-1-4-1 6-1-3-1 6-2-7-4 6 0-6-3-2-1 9-3-6-4 6-3-9-6 5 0 3-3 0-3-9 0 6-3-1-4-4 0 5-3-6-1 3-1 0-2 1-9-1-2 7 0-8-2-1 0 7-5-8-6 2-14 0 0 0-11 7-1-7-7-1-11 1 14 10 3 9 32-6 11-1 10-1 2 3 4 4 8 1 7-5 4 1 12 3 7 3 1-8 0-1 0 7 5-4 5-3 0 5 4-7 0 5 1 0 0-2 4-1 2-1 5 5 0 2 2-5 4 5 1-5 4 5 3-7 1 7 2 2 2-5 2 1 0 1 0-2 0-3 3 4 1-4 2 2 3 6 0 1 3-9 0-2 1 11 0-2 3 2 0-7 2 2 1-6 0 5 0-1 1-1 3 6 2 2 4-5 2 2 1-1 1-5 1 8 5-4 0-2 1-2 0 9 0-6 1-1 5 3 2 3 1-5 1 0 1 0 0-3 3 9 3-1 0-3 8 3 1 1 4-2 29 14-1-1 0 1-1 0 0 0-3-2 0 1-1-3-1 0-1 4 0-4 0 4-1-4-1-3 0 1 0 4 0-5-1 6-1-7-1 3-1 0-1 2 0-3-1-3-1-1-1 3-1 5-1-1-1 1-1-9 0 6-2-6-1 2-2 3 0 4-2-1 0-6-1 4-2-4 0 5-1 2-1 0-2-6-1 2 0 2-1-4-1 7 0 0 0 1-4-11-5 2 0 7-1-8-2 4-1 0-1 3-1-6-4-2 0 1 0 10-3-10-1 4-1-3-4 5-1-4-8 7-2 1-2-4-5-2-1-1-1 3-3-7-1 4-5 3-2 1-2-6-3 4 0 5-2-1-5-5-4 4-2-7-5 8-8-1-18-8-2 9-25-6-27 0-13 3-24-3 6 16 90-3 24-1 19-4 8 11 2-3 2-6 2 0 4 6 2-7 4 1 1 2 6-4 1 2 2 4 3-6 0 3 0-2 9 0 0 1 5 4 1-2 4-2 4 3 2-4 1 0 0-1 1 2 1 1 0-1 4 1 1-3 7 0 3 2 6 0 1-1 0 1 0-2 1 2 7-2 4 0-74 13-29 2-1-3-90 0 151 14" fill="none" marker-start="url(#hF)" marker-mid="url(#hF)" marker-end="url(#hF)"/>
<path d="M310 1614l20 16-102-3-6 13 118 8-100 12" fill="none" marker-start="url(#hE)" marker-mid="url(#hE)" marker-end="url(#hE)"/>
<path d="M293 1596l-24 11-37 4 1 1 1 7 0-4 2-1 1-4 1 6 2-1 4-1 1 3 1-3 0 3 3 0 2 2 0 0 4-9 7 7 2-5 5-4 4 1 3-1 0 4 1-1 2-1 5 6 0 3 3-7 2 0 0 3 2 2 1 0 3 0 7-2 2 4 8 0 42 11-6 0-4 1-5 0-5-4-8-6-1 0-7 4-1-4 0 8 0-1-1-7-2 4-3 5-1-2-5-3-4 0-3 0-1 1 0-4 0 9-9-1-3-3 0-3 0 5-2-9-1 8-2 1 0-8-2 5-2 4-7-4-1 1 0-1-3 2-11 3-3-1 0-2-2-1-4-1-3 5 0-8-2 1-4 4 0 3-1-9 0 5-2-5-5 0-1 19 0-3 3 5 1-7 5 7 5-6 1 2 2-3 3 2 1-1 1 5 1 1 2-7 3 4 0-1 1-7 4 11 0 0 1-6 0 4 6 0 3 1 1-10 4 2 4 2 13 7 2-2 1 0 1-7 2-2 1 10 3 1 0-10 1 7 1 3 1 0 0-1 1-4 0-3 0 3 2-6 0 5 2 2 1 2 1-1 1-6 0 9 1 0 0-6 0 5 1-8 0-2 1 4 3 4 0 1 1-1 2 0 2-8 1 3 1 3 0 1 1 3 1-9 2 4 3 1 1-6 1 5 1 5 0 1 1-7 1 1 2 2 1-7 2 1 1 2 1 1 0 2 2 3 0-4 3-1 0 1 1-1 0-1 7 0 1 5 1-1 0-2 1 6 1-9 0 4 0-6 1 4 7 0 1 0 1 6 2-5 11 6 2-3 3 2 4 1 39 12-2-1-11 0-3-6-4 3-1 2-2-5-1 4-1-2-2-5-1 10-4-4-1 4-3-7-4-1-7-1-1 4-2 3 0 2-2-9 0-2-2 3 0 3-2 4-1-5-1 2-3-4-1-1-5 7-11-1-3 1 0-6-1 2-1-3-1 3 0 1 0-1 0-3-3 4-2-4-1 8-3-4-1 1 0-1 0 1-1-4-2 7 0-9 0 6-2-7-2 5-3 6 0-11 0 5-1-3-1 1-2-1-1 1 0 0 0 1-10-1-7-1-1-1 0-1-1 3-1 3-4 3-2-8-5 8-5-7-7 0-3-2-11 1-4 2-2-1-1-2 0 9-8-8-1 2-7-1-3 2-1-4-6 1-4 1 18 19 31-8 12 4 9 1 1-4 3-1 15 9 4-9 13 10 0-8 1 3 5-4 6-2 3 2 0-1 1 0 2-1 6 5 3-1 1-2 1 4 1 3 0-2 3-6 4 3 0 0 2 3 2-7 1 7 2-3 1 6 4-4 1 1 4-4 13 8 4-3 1 2 3-7 0 4 2 0 2-2 1 3 2 2 0-1 1-6 1 6 0 0 1-8 0 9 2-7 0 0 5 8 0-4 2-5 0-1 1 8 2-9 1 3 3-1 4 7 2-3 3 0 3 1 1 0 0 3 6-4 4 2 34 15-1-1 0 0-1 0 0 0 0 0-1 0 0 1-1 0 0-1-3-3 0 0-1 3-1-5-1 6-2-3 0-4 0 6 0-2-1 1 0-7-1 4 0 1-1 0 0-3-1-1 0 1 0 5-1-8-1 9-1-5 0-4 0 0-1 1 0-1 0 9 0-9-1 8 0-3 0-1-1-3-2 1-1 1-1 6-1-10-1 4-2 5-1-9 0 8-2 0 0-6-2-1-3 8-1-6 0 5-6 3 0-10 0 3-1-3-1 10 0-1-1-10 0 5-1-2 0 0-1 5 0 1 0 0-1-4-2 4-1-5-1-1-1-2-5-1-3 10-1-7-1 5-4-2 0 1-8 1-1-5-3 5-5-4-2 3-2 2 0-8-3 2-2 0 0-1 0-2-1 3 0 5-3 1 0 0-1-6-2 4-6-7-13 10-4-4-3 4-1-5-21-3-6 0-2 1-26 3-3-4-13 6-23-8 60 12 30 8 8-7 13 8 4-1 0-6 2-1 1 5 5-6 8 0 2 6 1 1 2-6 12 3 7-2 3-2 2 1 5 0 2 2 5 2 6-4 4-1 1 0 1 3 5 0 4-3 2 3 0 0 1 0 1-2 2 0 3 3 0-4 7 1 1 1 0-1 15-1-77 18-8 5 0-8 0 3-9 0-1-3-12-3-2 7-6-7 25 12 25 2" fill="none" marker-start="url(#hF)" marker-mid="url(#hF)" marker-end="url(#hF)"/>
<path d="M223 1655l-10 0-14 12 8-6 0 2 1-3 1 3 1 0 1 4 2-6 0 0 1 4 0-3 1 5 1 0 0-7 1 0 0 4 1-4 0 4 1-4 1 6 0-3 0 4 1-4 1 3 0-3 1 4 0-4 0-5 1 9 0-2 1 2 0-6 0-4 0 2 1 4 0 4 0 0 0-3 1-5 0 6 2 1 1-4 1 3 0 1 1 0 1-2 1 1 3-4 0 3 0-4 2 4 4-2 1 4 0-4 1 4 2-3 0 6-3 7-1-4 0-2-2 7 0-9-1 2-1-2 0 0-1 3 0 4-2-1-1-5-1 7 0-1 0-4-1 5-1-3-1-2 0-1 0-1-2 2-1 6 0-6-2-1-3-2-1 4-1-4 0 6 0-2-1-4-1 0 0 3-1-1 0 1 0 3 0-6-1 3 0 7 0-3-1-2 0-5-1 3-1-2-1 3 0-3-3 3-1-4 0 6-1 0-1-5-1 8-1 2-2-7 0-4 0 0-9 5-1-1-19 4 8 8 4-4 14 5 7-4 8-1 6 1 3 3 2-4-21 16-33 7-10 24" fill="none" marker-start="url(#hA)" marker-mid="url(#hA)" marker-end="url(#hA)"/>
<path d="M215 1458l-15 17 3-9 0 2 1 6 1-4 1 3 1-1 2-1 0-4 2 1 0 6 1-4 1 4 2-1 2-4 4-4 0 17-2-1-1-5-1 7-2-1-1 5 0-6-1 1-1-6-1 1-2 3 0-4-1 3 0-1-1 3 0-5-1 4 0-1 0 5-1 1-2-9-3 5 3 7 2 1 2 3 4-4 2 8 4-1 16 9-21-2 8 24 1 17 2 3-25 3 34 15-6 9-37 7 35 18" fill="none" marker-start="url(#hM)" marker-mid="url(#hM)" marker-end="url(#hM)"/>
<text x="265.3" y="1746" font-size="21">Cell Atlas stage</text>
<circle cx="280" cy="1776.5" r="8.6" fill="#e88bcb"/>
<text x="308.6" y="1784" font-size="21">Asexual</text>
<circle cx="280" cy="1805.4" r="8.6" fill="#cdd35e"/>
<text x="308.6" y="1812.9" font-size="21">Early gametocyte</text>
<circle cx="280" cy="1835" r="8.6" fill="#e67d4c"/>
<text x="308.6" y="1842.5" font-size="21">Female</text>
<circle cx="280" cy="1864.3" r="8.6" fill="#6b5eae"/>
<text x="308.6" y="1871.8" font-size="21">Male</text>
<path d="M280 1885.5L289.5 1902.5H270.5z" fill="#d9d9d9"/>
<text x="308.6" y="1901.4" font-size="21">unassigned</text>
<defs><marker id="q0" markerUnits="userSpaceOnUse" markerWidth="10" markerHeight="10" refX="5" refY="5" overflow="visible"><circle cx="5" cy="5" r="3.7" fill="#000004" fill-opacity="0.75"/></marker><marker id="q1" markerUnits="userSpaceOnUse" markerWidth="10" markerHeight="10" refX="5" refY="5" overflow="visible"><circle cx="5" cy="5" r="3.7" fill="#09061a" fill-opacity="0.75"/></marker><marker id="q2" markerUnits="userSpaceOnUse" markerWidth="10" markerHeight="10" refX="5" refY="5" overflow="visible"><circle cx="5" cy="5" r="3.7" fill="#110c2f" fill-opacity="0.75"/></marker><marker id="q3" markerUnits="userSpaceOnUse" markerWidth="10" markerHeight="10" refX="5" refY="5" overflow="visible"><circle cx="5" cy="5" r="3.7" fill="#200e48" fill-opacity="0.75"/></marker><marker id="q4" markerUnits="userSpaceOnUse" markerWidth="10" markerHeight="10" refX="5" refY="5" overflow="visible"><circle cx="5" cy="5" r="3.7" fill="#310f61" fill-opacity="0.75"/></marker><marker id="q5" markerUnits="userSpaceOnUse" markerWidth="10" markerHeight="10" refX="5" refY="5" overflow="visible"><circle cx="5" cy="5" r="3.7" fill="#421173" fill-opacity="0.75"/></marker><marker id="q6" markerUnits="userSpaceOnUse" markerWidth="10" markerHeight="10" refX="5" refY="5" overflow="visible"><circle cx="5" cy="5" r="3.7" fill="#54167a" fill-opacity="0.75"/></marker><marker id="q7" markerUnits="userSpaceOnUse" markerWidth="10" markerHeight="10" refX="5" refY="5" overflow="visible"><circle cx="5" cy="5" r="3.7" fill="#661b80" fill-opacity="0.75"/></marker><marker id="q8" markerUnits="userSpaceOnUse" markerWidth="10" markerHeight="10" refX="5" refY="5" overflow="visible"><circle cx="5" cy="5" r="3.7" fill="#772180" fill-opacity="0.75"/></marker><marker id="q9" markerUnits="userSpaceOnUse" markerWidth="10" markerHeight="10" refX="5" refY="5" overflow="visible"><circle cx="5" cy="5" r="3.7" fill="#892881" fill-opacity="0.75"/></marker><marker id="q10" markerUnits="userSpaceOnUse" markerWidth="10" markerHeight="10" refX="5" refY="5" overflow="visible"><circle cx="5" cy="5" r="3.7" fill="#9b2e7e" fill-opacity="0.75"/></marker><marker id="q11" markerUnits="userSpaceOnUse" markerWidth="10" markerHeight="10" refX="5" refY="5" overflow="visible"><circle cx="5" cy="5" r="3.7" fill="#ae347b" fill-opacity="0.75"/></marker><marker id="q12" markerUnits="userSpaceOnUse" markerWidth="10" markerHeight="10" refX="5" refY="5" overflow="visible"><circle cx="5" cy="5" r="3.7" fill="#bf3b75" fill-opacity="0.75"/></marker><marker id="q13" markerUnits="userSpaceOnUse" markerWidth="10" markerHeight="10" refX="5" refY="5" overflow="visible"><circle cx="5" cy="5" r="3.7" fill="#d0436e" fill-opacity="0.75"/></marker><marker id="q14" markerUnits="userSpaceOnUse" markerWidth="10" markerHeight="10" refX="5" refY="5" overflow="visible"><circle cx="5" cy="5" r="3.7" fill="#e04c67" fill-opacity="0.75"/></marker><marker id="q15" markerUnits="userSpaceOnUse" markerWidth="10" markerHeight="10" refX="5" refY="5" overflow="visible"><circle cx="5" cy="5" r="3.7" fill="#eb5d62" fill-opacity="0.75"/></marker><marker id="q16" markerUnits="userSpaceOnUse" markerWidth="10" markerHeight="10" refX="5" refY="5" overflow="visible"><circle cx="5" cy="5" r="3.7" fill="#f66e5d" fill-opacity="0.75"/></marker><marker id="q17" markerUnits="userSpaceOnUse" markerWidth="10" markerHeight="10" refX="5" refY="5" overflow="visible"><circle cx="5" cy="5" r="3.7" fill="#fa8263" fill-opacity="0.75"/></marker><marker id="q18" markerUnits="userSpaceOnUse" markerWidth="10" markerHeight="10" refX="5" refY="5" overflow="visible"><circle cx="5" cy="5" r="3.7" fill="#fd976a" fill-opacity="0.75"/></marker><marker id="q19" markerUnits="userSpaceOnUse" markerWidth="10" markerHeight="10" refX="5" refY="5" overflow="visible"><circle cx="5" cy="5" r="3.7" fill="#feac77" fill-opacity="0.75"/></marker><marker id="q20" markerUnits="userSpaceOnUse" markerWidth="10" markerHeight="10" refX="5" refY="5" overflow="visible"><circle cx="5" cy="5" r="3.7" fill="#fec087" fill-opacity="0.75"/></marker><marker id="q21" markerUnits="userSpaceOnUse" markerWidth="10" markerHeight="10" refX="5" refY="5" overflow="visible"><circle cx="5" cy="5" r="3.7" fill="#fed598" fill-opacity="0.75"/></marker><marker id="q22" markerUnits="userSpaceOnUse" markerWidth="10" markerHeight="10" refX="5" refY="5" overflow="visible"><circle cx="5" cy="5" r="3.7" fill="#fde9ab" fill-opacity="0.75"/></marker><marker id="q23" markerUnits="userSpaceOnUse" markerWidth="10" markerHeight="10" refX="5" refY="5" overflow="visible"><circle cx="5" cy="5" r="3.7" fill="#fcfdbf" fill-opacity="0.75"/></marker></defs>
<style>.q0{marker:url(#q0);fill:none}.q1{marker:url(#q1);fill:none}.q2{marker:url(#q2);fill:none}.q3{marker:url(#q3);fill:none}.q4{marker:url(#q4);fill:none}.q5{marker:url(#q5);fill:none}.q6{marker:url(#q6);fill:none}.q7{marker:url(#q7);fill:none}.q8{marker:url(#q8);fill:none}.q9{marker:url(#q9);fill:none}.q10{marker:url(#q10);fill:none}.q11{marker:url(#q11);fill:none}.q12{marker:url(#q12);fill:none}.q13{marker:url(#q13);fill:none}.q14{marker:url(#q14);fill:none}.q15{marker:url(#q15);fill:none}.q16{marker:url(#q16);fill:none}.q17{marker:url(#q17);fill:none}.q18{marker:url(#q18);fill:none}.q19{marker:url(#q19);fill:none}.q20{marker:url(#q20);fill:none}.q21{marker:url(#q21);fill:none}.q22{marker:url(#q22);fill:none}.q23{marker:url(#q23);fill:none}</style>
<path class="q0" d="M611 1459l-1-3-3 2 0 4 0-9-1 0-4 6 4 8 2 4 0 0 1 3 2-5 0 6 2 4-1 3 0 3-2 11 3 1 0-2 1 1-3 15-1 10 1 0 54 8-20 4-4-3-1 2 0-2-2 5-2-7 0 1-7-2-1 2-1 3-5 1-6-3-1 1 0-3-4-1-3 4-6 1-1-4-2 4-2 1-3 0 0-2-3-2 1 12 2-2 7 2 0-5 0 10 3-9 0 10 2-10 0 0 2-1 5 11 1-9 0 2 1 0 2-3 2-1 0 1 2 8 0-5 1-1 1-2 1 8 6 0 6-8 3-1 1 1 4 8 1-8 2 2 3 2 0 6 2-2 0 2 1-11 2 4 0-1 3 1 1 2 1 0 1-1 1-1 1 6 0-10 2 8 1-3 2 2 1-2 0 5 1-6 3 4 6-2 3-2 9 2 1 4 3 0 1 1 1-2 2 2 1-2 2 2 36 12-1 0-2 0 0-1-2 0-1 0 0 0 0-2-3 2-6 1-6-2 0 0-5-5 0-1-1 7-1-3-1 4 0-9 0 5-3-5-1 2-3-2-1-1-2-1 0 11 0-5-2 3-2 0 0-6-1 5-1 1-5 1 0-4-1-6 0 4 0-2-1 4-8-3 0 1-3-1-3 0-1-1 0 1-3-2-1 5-5-5-1 4-2-2-1-3-20 11-11-1-4-4-4-2-2 2-2 4-1-3-2-4 0 4-6 1-7-5-2-3-1 10-1-10-10 10 2 2 1 9 9-1 1-8 4 0 1 3 1 1 17-4 8 6 19 2 25-4 13-4 4 4 10-1 2-3 1 0 1 1 1 2 3-1 3 1 0-1 6-2 0 0 5 4 3-4 1 3 1 0 1 0 8-1 0-2 3 2 2 0-143 14-1-4-11 6-2 5-9 10 2-5 1-1 1 7 0-7-2 15-4 3 0 4 3 1-5 18-3-2 0 3-1-2-2 12 0 1 1-3 1 2 2-4 33 5-36 4-2 7-1-7-1 9-1 2-5 12 1-2 2-4 0 2 2-7 0 1"/>
<path class="q1" d="M584 1573"/>
<path class="q2" d="M598 1544"/>
<path class="q3" d="M607 1556"/>
<path class="q4" d="M620 1542l42 1-41 10"/>
<path class="q5" d="M589 1545l10-5"/>
<path class="q6" d="M607 1528l-10 1 11 27"/>
<path class="q7" d="M648 1535l-46 29-28 35"/>
<path class="q8" d="M620 1558"/>
<path class="q9" d="M577 1604"/>
<path class="q10" d="M607 1534l-17 24"/>
<path class="q11" d="M595 1538l-7 27"/>
<path class="q12" d="M606 1530"/>
<path class="q0" d="M610 1463l-2-10 0 6-1 3-1-1-2 2-2-3 1 6 1-2 3 2 0 0 2 2 1 1 5 6-1 12-1 0 0 1-1 15-2-3-16 13 16 1 46 21-3-3-2 3-1-3-4 3-1-3 0-1-2-2-2 5-3 0-2-1-2-6 0 8-1-9 0 4-6-1-2-3-2 9 0-6-7 3-2-1-1 2-3-8-1 7-2 1-2-5 0 4 0-7-2 0-2 10-1-8-2 6-1-3 0-1-4 3-3 2 3 12 1-5 1 2 1 4 2-2 1-1 3-7 0 6 2-7 6 2 3 4 9-6 1 7 1 1 6-7 0 9 0-1 4-6 3 1 6-4 2 0 4 9 2 0 1-2 2 1 0-1 1-2 1-5 2 11 3 0 0-2 1-6 0-2 2-1 0 2 1 3 0-3 3 1 1 0 0 1 0 5 0-5 2 5 0-2 2 2 0-8 3 5 0 4 2-7 3 1 2 1 2 4 9 1 1 1 42 12-2-2-1 2 0 0-1-1-2 0-2-2-2 1-3 0-3-4-1 2-3-3-1 6 0-3-3-4-1 2-1-3-1 1-1 2-3-4 0 3-2-3-1 8-1-5-2 6-1-7-3 6-5-6-1 0-4 4-2-6-1 3 0 1-5-2 0 1-1-2-9 1-3 4 0-2-8 5-5-4-4 0-4 4-25-4-2-1-5 4-2-4-1 2 0 2-2-1 0 0-3 3-7-1-2-6-3 2-2 4-2-1 0 4 0 6 1 0 1-5 2 0 1 1 0-1 1 0 1 7 4-1 1-4 1-1 12-3 3 0 28 0 28 6 4 0 6-5 1 0 17 10 3-9 1 2 9-1 2 0 7-3 0 1 2 2 7-3 1 1 1-1 2 0 0 1 4 0 0 0 1 0 1 0-31 13-93-2-21 6-2 4-10-8-1-2-8 20 1 3 4-5 0 2 4 1-6 6-1-1-8 20 1-2 3-2 1-1 1-4-4 13-3 5-2 0-2 15 1 1 4-10-7 13-1 7-4 10 2-6 2 0 1-1-5 13-2-1"/>
<path class="q2" d="M589 1566l-22 71"/>
<path class="q3" d="M648 1546l-57 3-1 8-15 47"/>
<path class="q4" d="M598 1536l1 3 44 13"/>
<path class="q5" d="M658 1534l-70 14"/>
<path class="q6" d="M656 1537l-38 20-22 1"/>
<path class="q8" d="M605 1538l-15 17-15 40-2 11"/>
<path class="q9" d="M603 1536l-12 53"/>
<path class="q10" d="M578 1593"/>
<path class="q13" d="M580 1583"/>
<path class="q0" d="M608 1454l0 3 0 4-1-1-1-3-1 5-1 0-2 4 0 2 4-3 2 5 0 2 2 0 1 0-1 23 0 3 1 1 1-6 2 2 1-5-1 14-1 6-3-3 0-1-2 12 1 5 2-10 0 9 0-2 0-5 2 7 15-9 32 20-4 0-2-2-6-1-13 3-5-5-5 5-1-1-1-1-1 0-2 3-1-3 0 3-12-4-3 4-3-1-1 0-6 0-3-7 2 14 1 1 1 2 2-4 1-2 1 7 0-4 1-4 2 7 5 4 1-10 0 0 0 9 6-10 2 7 0 0 1 0 0-5 5 6 1-5 0 1 2 0 4 2 4 1 1-6 0 7 5-5 1 5 2 1 2-5 1-3 0 5 2 1 2-1 1 4 1-5 2 6 1-4 3-1 1 0 1 4 1-4 0-1 0 1 1-3 0-2 0 0 1 7 2 0 1-1 0 4 1-7 1 5 0-2 0-5 5 3 0-1 5 5 0-6 1 1 4 6 12-2 4 1 5 2 31 12-1-2 0 0-3-1 0 1-5 0-2 1-3-3-1 0 0 1 0 0-3 2-1 0-2-6 0-3-5 8-4-2-2 4-3-1-1-9-7 6-3-2-6-1-3 1-1 5-5-6-1-2-1-2-6 9-6-5-17-4-3 4-8-4-9 2-1 5-5 2-2 0-1-6-2 3-1 4-2 1-1-7-1 4-1-1-2 2-2 0-1-5-2-1-4-1 0 6-1-3 0 5-2-7-3 0-3 8 2 4 1 4 1 3 1-5 0 0 3-5 10 3 59-1 22 2 4-1 1-1 0 9 13-6 2-4 5-1 3 2 9 0 1-1 4-1 1 3 6-1 2-2 5 1 0 0 1 0-120 14-22 1-10-3-2 6-6-6-3 10 0 1 1 7 1-6 1 2 0-2 1 0-4 14-1 3-2-4 0 6-2 3 0 6 1-5-2 18-2-5 0 9-4 0 0-4-2 13 1-1 2-6 0 5 1 0 1-3 1-2-5 14-4 8-4 9 0 0 1-3 0 6 3-8-6 12 0 0"/>
<path class="q2" d="M592 1566l-34 94"/>
<path class="q3" d="M590 1564l-24 80"/>
<path class="q4" d="M624 1537l12 1-56 51-24 81"/>
<path class="q5" d="M592 1540l5 12-11 14"/>
<path class="q6" d="M600 1527l-11 20 40-8"/>
<path class="q8" d="M595 1538l3 11"/>
<path class="q9" d="M601 1537l10 13"/>
<path class="q10" d="M570 1618"/>
<path class="q11" d="M590 1548l-7 16"/>
<path class="q12" d="M566 1635"/>
<path class="q13" d="M585 1569"/>
<path class="q0" d="M610 1454l-1 0 0-1-1 2-1 7 0-10-1 5-1 2-1 0-1 1-1 1-2 3 2 0 3 11 1-11 1 1 2 1 4 7 0 0 0 10-3 11 0-2 1 1 1-1 1 2 0-2 1 12-2 5-1 1-1-7 0 5-7 14 0 1 3-1 2-6 0 5 0 2 3-1 2 0 1-4 40 16-4 1-4 0-3-4-1-1-1 0-8 0-3 2 0-1-2-3 0 1-5 6-6-5-1-2-2 2-4-6-7 1-3 5-10 10 0 4 1-5 3-3 0 8 1-5 1-3 2 3 2 6 4 1 9-10 0 0 3 0 5 1 1 3 7 2 5-3 3 4 1 2 7-2 5 0 3-7 0 7 0-2 0-4 1 6 1-1 1-4 3 8 1-6 1-1 0 6 1-4 2 5 0-5 2 4 2-5 1 0 0-1 1 8 1-2 1-5 1 4 3-3 0 1 1 5 2-8 4 4 3-2 0 6 0-4 1 2 1-1 2-2 1 1 8 2 34 13-2-2 0 0-3 0-4 1-5 1-1 0 0-5-3 0-3-1-1-2 0 6-2 1-1-3-1 5-1-4-1-6 0 5-1-4 0 4-1-2-11 5-4-1-2-4-1 1 0 4-2-3-4-6-2 4-5-3-10 0-6 5-6-4-2 3 0-4-4 2-11 5-8-7-6 8-6-7-1 3 0 1-1 2-1-1 0-2-1 0-1 4-4-5 0 7-1-7-1 0-1 6-9-10-2 5-1 2-2 0-3 15 1 0 1-2 2 3 3-7 1 3 1-6 5 6 9-5 4 2 68-4 12 9 2-9 3 2 1 3 3 4 5-1 6-6 8-1 3 2 1-1 1 1 0 0 0-1 2 0 9-1 2 0 0 0 2 0 1 0 0 0-42 12-99 3-11-2-3 9-2-11-6 20 1 1 0-1 1 1 0-1 0-6 4-1-3 13-4 8-2-4-6 17 3-4 1 10-3 4-1 2 1 3-4 12-1-2-7 23 1-4 0 2 1-4 2-5"/>
<path class="q2" d="M593 1564l-17 35-4 18"/>
<path class="q3" d="M621 1528l-22 10-2 11"/>
<path class="q4" d="M591 1544l5-7 50 2-73 73 3-2-10 21"/>
<path class="q5" d="M601 1549l-14 27-16 42"/>
<path class="q6" d="M598 1565l10-4"/>
<path class="q8" d="M610 1558l-28 16-1 17-13 31"/>
<path class="q9" d="M593 1544"/>
<path class="q10" d="M607 1554l-11-6-25 75"/>
<path class="q11" d="M590 1572l-15 25-5 27"/>
<path class="q12" d="M582 1575"/>
<path class="q0" d="M608 1462l-2-1-5 1 0 6 7-3 1-1 4 21-1 0 0-2-2-4 2 20 2-3 0 1-3 4-1 6 0-1 0 10 34 5 21 1-2 12-3-1-5 0-3-4-1 4-6-4-7-1-1-1 0 1-2 4-2 3-1 0-2-9-1 5-1 1-4 1-3 1-9-5-1-3-1 4-2 1 0 0-1-1-1-1-1 1 0-4-1 5-2-5-2 3 0 0 0 5-4-1 0-2-1-4 0 4 0-3-3 4 1 6 1 5 0-6 4 0 2 3 1 7 5-3 1-6 5 4 1 0 0 5 5-5 1 4 1-10 1 2 2 4 3 0 5-6 1 8 5-8 5 1 2 4 2-3 3 6 1 0 1 1 0-1 4 0 0-6 3 3 2 4 1-2 0 2 3-6 1 5 2 3 0 0 2-9 1 5 1 4 1-1 1-3 1-4 0 4 2-2 0 1 1-4 0 8 1-5 3-1 3 7 0 0 17-1 37 13-2 0-4-3-1 1-9 0-4-4 0 3 0 1-1-5-1 6-1-3-4-6-1 5 0 3-3-6-4 3-2 1-1 0-1-5-1-2-1 8 0 2-1-9-1 4-11 1-8-1 0 1-3-4-1-2-6 0-1 1-43 4-6 6-1-3-1-1 0 2-2-1-3 0 0-3 0 2-1-1 0 5-2-7-13-3-9 18 2 1 2-1 1 1 1 3 0 0 1-9 1 1 0 5 1-7 1 1 1 8 1 1 4-6 2 5 1-8 59 0 24 6 2-2 5-4 6 0 6 2 3-1 1 0 1-1 8 3 0-4 3 1 1-2 2 0 0 3 3-3 1 1 2 3 1-3 0-1 4 3 0-1 0 0 4-1 1 0 0 0-147 21-2-10-3 2 0 2 0-4-1 1-2 5-1 2-3-8-1 7-4 11 1 0 1-5 1 8 12-3-13 9-4 5-1-4-2 16 0-3 1-2 1-1 1 6 1-8 1 3 0-1-5 13-3 0-2 8 0 8 0 1 2-7-6 14 0 8-5 9 1-3 0-1 0 0-2 8-1 2 0-1"/>
<path class="q3" d="M576 1590l-12 53"/>
<path class="q4" d="M596 1543l-9 31-20 51"/>
<path class="q5" d="M640 1532l-53 42"/>
<path class="q6" d="M602 1530"/>
<path class="q7" d="M618 1556l-47 53"/>
<path class="q8" d="M612 1555l-21-5-22 68"/>
<path class="q9" d="M619 1556l-4-2-40 54"/>
<path class="q10" d="M606 1548l-13 27-26 62"/>
<path class="q11" d="M592 1541"/>
<path class="q13" d="M584 1584l-18 51"/>
<path class="q0" d="M610 1457l-1 2-1 4-1-3 0 0 0 1-1-1-1 2-1-10 0 5-1 5-1 1-1-5-1 3 5 7 1 4 2-7 3 7 2 2-5 2-8 9-1 13 15 7 38 27-8 3-2-7-1 1-4-1-1-2-1 1-2 4 0-5-9 6-3-2-3 2-1 2 0 1-2-2 0-5-4-2 0-2-1 3 0 2-1 2 0 0-2-3-4 1 0 1-1-3-1-2-4 9-1-2 0 2-1-1-2-6-3 11 1 7 1-5 0-2 3 2 0 0 0-1 6 7 2-9 2 5 3 1 6-7 0 8 2 0 7-8 3 6 3 1 1-7 2 0 4 9 9-9 4 10 1-6 1-2 1-2 1 0 1 6 0-3 1-2 1 5 1 0 2 4 2-6 4 0 5-1 2 1 0 5 0 2 4-7 1 3 10 1 2 1 2 0 1-1 1 0 6 2 37 12-4-2-7 1-1-3-4 2-1-3-1-2-2 2-1 5 0-1-2-1-2 0-2-5-2 8-6-7 0 1 0-1-1-3-1 6 0 3-1-3-4 2-1-5-2 7-7-8-13 3-3 3-4 0-7-2-9-4-20-2-8 8-3-1 0 3-3-6 0 4-1 0-1-4 0-2-2 3 0 2-1 0-1-2-1 3-1-5-2 3 0-1 0 2-7 2 0-6-1-3-1 2-4 6-2-1-4 5 2 3 5-2 37 5 40-6 10 0 1 1 7 4 0 2 3-7 0 6 1 1 0-7 1 1 4 7 14-8 5 1 1 2 2-4 1 2 8 0 3 0 1-2 0 3 4-1 2-2 1 1-126 16-15-1-9 1 0-1-2-3 0 0-2 7-1 3-3-6-4 11 1-3 1 5 1-3 0 6 0 2 1-8 4-3 4 4 1 0 3-4-12 12-2 4-1-2-1 8-1-7-1 8 0-3-1 0-2 12 3 0 1-4-2 9-1-1 0 3-7 15 1-6 2 2 0 3-2 7-1 2-2 3-1 6-5 10 1-4 1 4 0-5 0 3 3-6-6 13 0 1-1-1"/>
<path class="q2" d="M591 1557l-32 103"/>
<path class="q3" d="M557 1666l1-5"/>
<path class="q4" d="M592 1539l75 10-90 53-17 60"/>
<path class="q5" d="M621 1555l-42 28"/>
<path class="q6" d="M607 1532l-3 8 15 0-45 63-2 19"/>
<path class="q7" d="M629 1529l-14 11"/>
<path class="q8" d="M595 1558l-3 4"/>
<path class="q9" d="M595 1527l4 15 13 20"/>
<path class="q10" d="M618 1559l-35 22"/>
<path class="q11" d="M571 1611"/>
<path class="q0" d="M612 1462l-1 0-3-3 0-1-2-3-1-2-1-1 6 23 2-7 0-1 0 17-2-7 2 15 0 6 2-6-1 10-3 1 0 10 2-1 1 1 50 21-9 1-2 0-3 0-1 0-3-4-1 1-4 0-3-1 0 2-1-1-5-7-2 3 0 1-3-2 0 2-4 3 0-1 0-2-3 1-1 0-1 2-2 0-2-2-2-3-1 4-1 3 0-7-2 1-1 7-3-8-2 8-3-7-1 4-5 8 1 3 0 4 3-3 0-1 3-7 1 10 2-9 0 0 1 4 0 2 2-6 1 9 1-10 3 10 3-5 1-4 0 9 2-1 1-9 4 0 1 5 1 0 1 5 0-5 2-3 2 5 1 1 0 1 1-4 2 3 4-5 1 5 1-7 1 0 7 1 1-1 2 2 1 5 0-1 4 2 1 2 2-5 3 0 1 1 5 4 1-6 1-3 2-1 1 9 2-9 2 3 0 6 3-7 4 4 5 2 2 2 15-1 30 13-3 0-1 0-1-2-1 1-3-3 0 0-3-2 0 5-5-2-3 0-1 0-5-2-2-6-1 6 0-4-2 2-1-3 0 4-2-5-3 7 0-6-1 3-1 7-2-8 0 2-2 6-2-6-3-5-5 2-1 9-1-5-5-6-4 7 0-6 0 7-5-7-41 5-2 2-2-3-1 3-3-2-4 0 0-3-4 6 0 0-2-8-4 4-1 3-4-6 0 8-3 0-11 8 2 5 2-11 1 5 1 1 2 4 1-4 1-6 9 1 1 2 13-3 3 0 74 1 1-1 0 0 2 10 1-3 0-7 2 3 6 8 4-9 6-2 3 4 4-3 2 1 4-2 1 2 4-2 1 3 2-2 4 0 0 0 1 1-131 10-16 7-9-4 0-2-1 7-2-2-2 5-2 8 3 3 1-8-2 10-1 4 0 3-1-7 0 4-1 4-1-5-1 6-3 2 1 1 1 7 1-4 1-3 0 0-8 20 0-2 0 11-4 11-1 0-1 1 0 4 0-9-5 20 0 1 0-4 1-1 3-1-6 11-1 0"/>
<path class="q1" d="M579 1594l-18 62"/>
<path class="q2" d="M565 1641"/>
<path class="q3" d="M604 1554l-5 2-40 100-2 12"/>
<path class="q4" d="M646 1538"/>
<path class="q5" d="M571 1609l-1 18"/>
<path class="q6" d="M591 1537l1 6 29 2-38 27 3 12"/>
<path class="q7" d="M602 1554"/>
<path class="q8" d="M590 1566"/>
<path class="q9" d="M588 1562l-18 56"/>
<path class="q11" d="M601 1539"/>
<path class="q12" d="M583 1581"/>
<path class="q0" d="M609 1457l-2 4-2-6 0 3 0 3-2 2-2-6 2 7 0 5 5-4 2 0 1-1 0 7 3 16 0-10-2 5-3 4 0 7 2-1 0 4 2 2 2 7-1 4-11 13 9-7 1 4 1-7 40 19-2 4-6-2-1-3-1 1-6 2 0-6-1 3-7-3 0 1-1 7-4-2-2-5-2 3-1 2 0 1-2-7-1 7-1-8-1 1-6-3-3 2-1 1-1 4-2-5-1 1 0 6-1 0-2-5-7-2 0 11 0 1 1 7 4-1 1 0 1-3 2-1 10 2 4 3 3-1 2 0 1-5 0-1 3-2 0 5 1-5 0 8 3-6 1 6 1-3 0 2 2-7 1 6 2-4 4 3 2-5 1 7 1 2 1 0 1-1 1 3 1-8 1 6 3-4 4 1 2-5 1 1 0 5 0-4 2-1 1 5 6-5 0 7 1 1 3-6 1-1 0 8 0 0 6-6 5 4 1-2 4 3 9 1 41 12-1-1 0 0-1-1-4 0-2 0-2-2 0 3-1-2 0 3-1 0-5-6-8-1 0 3-2-4-3 2-1-4-1 7-1-2-1-6-1 4 0 1-2 2-2 0 0 4-3-2-2-4-1-1-2 2-5-4-4 0-1 1 0-2-1 4-6-3-2 1-6 1-9-4-4 11-1-2-1-5-1-1-5-2-1 0-6 1-22 5 0-1-4 1 0 1-2-4-1 0 0 0-1 6-1 0-2 0-1-5-2 3-6-8-1 10-2-1-1-4-2 1-4 11 1-4 1 0 0 7 9 0 4-3 10-3 26 1 61 2 1 1 12-2 3-3 2-1 2 0 1 1 2 2 5-3 1 0 2 2 2 0 1-2 3 2 1-2 2 1 1-1-18 14-20-1-105 5-8-4-2 4-1-5-2 9-1-1-4 9 3 2 1-1 2-3 2 4-6 8-1-1-4 8-1-5-5 17 1-3 5 1 1-6 25 4-28 9-2 6-1-3-1 4-3 11 2 0 0 0-1 2-1 2-3 4 0 0-5 13 1 0 1-2 1-4-5 14"/>
<path class="q1" d="M608 1535"/>
<path class="q3" d="M608 1532l-43 109"/>
<path class="q4" d="M604 1522l2 31"/>
<path class="q5" d="M593 1537l24 15-26 10-7 14"/>
<path class="q6" d="M642 1532l-66 62 6-4"/>
<path class="q7" d="M591 1535l-3 28 4 20"/>
<path class="q8" d="M611 1551l-1 8"/>
<path class="q9" d="M593 1529l12 7"/>
<path class="q10" d="M582 1579"/>
<path class="q11" d="M593 1546"/>
<path class="q12" d="M580 1587"/>
<path class="q0" d="M892 1457l-4 3-1-8-2 8 3 14 3-8 1 6 3 0 1 5-2 7-2 9 2 6 31 30-2 6-3-1-12-6 0 6-1-7-8 3-6-3-1 4-3 0 0 0-2-2-3-3-2 8-5-6-2 12 0 6 2-6 0 1 1 3 2-4 2 5 0-8 0 3 1 6 4 1 1-10 0 9 2-10 6 0 3 7 0-6 4 1 1-2 3 9 1-2 4-6 1 9 0-8 4 7 12-6 1 1 7 4 1 1 1-2 4-1 2-3 0 6 7 1 1-5 1 4 23 2 5-2 0 2 36 11-1 1-8-2-23-4-2 3-6-2-4 1-13-2-67 5 0-6-3 6-1 0-2-5 0-4-3 5 0-1 0 0-2 3-4-3-1-4 0 4 0 5-2-8-10 21 4-3 0-4 1 2 1 0 3-1 1-3 10-2 16 1 33-1 34 1 7 2 12 6 22-5 7-3 8 2-162 17-2 15 1-7 0 1 2-2 9 4 0-1-11 7-8 15 1-1 0 4 1-7 1 2 1-2-3 15-1-1-3-2-3 26-1 2 0 0-1-3-7 22 0 0 1-4 1-5 0 7 2-8-3 11-2 4-1 1"/>
<path class="q4" d="M895 1473l2 71 75 4-24 6 38 6"/>
<path class="q5" d="M887 1457l57 87 52 12-18-4-51 0-43 19"/>
<path class="q6" d="M887 1455l-2 8 4 3 8 24-17 39 10 9 12 7 24 1 23 0 0-6 54 14-12 4-11 1-4-1-23-6 65 9"/>
<path class="q7" d="M892 1495l4 15-3-7 30 28 24 8 12 4 3-4 0 4 39 16-9-5-5-4-5 2-116 13 3 4 25-4 87 2 29-3"/>
<path class="q8" d="M892 1453l1 43 0-3 5 12-1-1-2 25 4 14 55 3 54 12-20-8-97 3 39 16"/>
<path class="q9" d="M893 1499l3 4-4 35 7-1 17 3 5 6 22 0 30-3 42 14-12-1-37-4-11-3 19 21 33-7 11 1 6-2-181 96"/>
<path class="q10" d="M889 1459l1 79 33-2 21 3 56 15-29 0-26-4-51 1-1 6-20-9 83 17 45-3 14 0-158 51"/>
<path class="q11" d="M893 1543l36-4 4 3 7-2 34 3 13 4-4 12-4-11-78 7-1 0 79 15 31-9 5 0 2-1-155 31-11 46"/>
<path class="q12" d="M951 1539l-56 9-18 31-28 55"/>
<path class="q13" d="M913 1525l-40 1 77 21 29 0 21 12-28-5-94 5 4 6 109-2-134 42"/>
<path class="q14" d="M1012 1557l-14-3-138 40"/>
<path class="q15" d="M1007 1559"/>
<path class="q16" d="M985 1566"/>
<path class="q17" d="M904 1534"/>
<path class="q0" d="M891 1461l0-7-2 8-2-10-1 5-3 0 0-1 8 13 1 6 2-3-1 24 3-4-2 19-2-4 31 26-6-1-7-3-7 5-1 0-1-4-2 4-2-6-2 3-3 1-1-5-1 4-1-2-4 1-3 3-2-4-3 5-1-2 0-2-1 14 1-7 0 6 1-4 1 5 3-3 1 0 4 0 2-5 2 8 15-2 1 0 0-5 1 1 5 8 4-10 5 1 7 3 2 4 2 2 1 0 2-4 1-6 3 3 4 5 1 0 3-2 1-3 1 2 3-1 3 0 0 7 0-6 3 6 6-6 5 2 47 15-9-1-4 0-3 1-3-1-4-5-22 5-4-7-6 2-7 0-47-3-2 6-4 2-4 1-2-6-2 2-6 2-2-3-5-3-6 2 0-4-5 7-4 12 4-3 11 5 6-4 14-5 3 1 9 6 33-4 27 0 7 0 14 0 7-2 23 1-124 11-32 8-2-5-2 19 1-9 0 6 3-8 3 5 4-4-13 19-1-3 0-1-1 6 0-6-2 7-1-2 0 0-3 11 0 3 2-9 1 7 0-9 2 5-5 10-2 5-2 11 2-3 0 0-3 10-1-1-1 8 0-3-1 1-6 16 1-1 0-3-2 6"/>
<path class="q4" d="M890 1458l4 34-1 30 45 16 1 0 75 20-13-1-62-8"/>
<path class="q5" d="M889 1452l-5 8 9 34 43 44 18 13-70 7 78 3 19 5-88 7-33 19"/>
<path class="q6" d="M931 1531l-57 8 42 0 21 7 5-7 2 3 15 12-20 1-44 0 123 6 6 1"/>
<path class="q7" d="M893 1492l7 41 27 10 7-4 5-2 76 21-3 0-16-6-16 5-119 32-8 36"/>
<path class="q8" d="M892 1517l1 6 3 7-18 13 39-7 21 3 4 4 4-1 39 11-28-4 5 13 5 3 13 1 5-5 22 3 13-2"/>
<path class="q9" d="M892 1492l35 39-14-4-9 4-6 3 56 13 13 0 34 6-7 4 0 2-1-4-24-6-14 0-14 0-42 12 80 10 42-11"/>
<path class="q10" d="M896 1519l63 23 1-3 47 19-40-6-35-1-29 8-26-10 86 14 17 5 1-8 1 3 17-2 3 4 20-3 1 0"/>
<path class="q11" d="M939 1543l13-4 24 15-6-4-17-2-54 9-14 6 88 2 41-4-119 18-55 85 3-3"/>
<path class="q12" d="M981 1556l-107 7 18 0-27 19"/>
<path class="q13" d="M943 1534l57 22-111 1-10 2-7 6 151-3-173 77"/>
<path class="q14" d="M891 1524l2 28-5 7"/>
<path class="q17" d="M924 1531l59 25"/>
<path class="q0" d="M891 1456l-8 11 2-2 0 4 3 2 2-5 0 5 4-4 3 19-5 0 4 2 1 4 23 42-1-3-7 1-6-2-2 2-3-1-8 0 0-5 0 0-2 8-2-5 0-1-1-2-1 1-1 3-2-5-2 2-2 6-1 0 0 1-2-5-6 16 5 0 2-8 3 4 2 6 1-8 0-2 2 1 1 3 1 3 7-7 5 1 2 0 4-2 5 9 1-4 2-5 6 0 1 1 12 7 2 0 0-7 5 2 7-3 3 3 2 2 1 2 1 3 5-4 0-1 1 1 6 1 50 14-8-1-16-4-21 7-3-8-20 5 0-6-22 0-21 4-4 3 0 0-5 1 0-10-1 6 0 1-1 0-3 2-2-1-6 1-3-4-6 5-5 3 1 1 1 5 3-4 0 0 1-2 1 2 4 3 5-2 6-4 30 0 24 3 72 0 6-1-142 16-10-5 0-1-1 6-1-1-1-3-4 9-7 11 1-1 1-4 0 3 1-4 1 7 0-2 2 0 3-7 5 3 4-4-13 14-5 1 0-2-4 15 1 15-2-2-2-3 0 6-3 13 0-2 1-6 1 3 1-4-1 11-4 2 0 4-1-4-5 19 1-3 2-3"/>
<path class="q4" d="M891 1518l52 22 16 6-11 12"/>
<path class="q5" d="M888 1456l28 74-17-1 8 17 21-9 1 1 8 2 16-2 46 21-14-5-4-5 19 12-131 14"/>
<path class="q6" d="M923 1532l-5-2-18 3-27 3 30 1 2 4 7-2 22-3 13 11 43 7-93 4 106 17"/>
<path class="q7" d="M893 1475l45 58-9 2-7-2-34 3 32 5 81 17-3 0-3-5-5-4-2 6-5 4-18-6-15-5-8 5-11-1-46 9 89 8 2-6 14-3"/>
<path class="q8" d="M890 1463l3 63 19 20 20 0 86 12-8-3-4-1-2 0-25-4-91 0-5-1 124 14-14 12-121-2-15 37"/>
<path class="q9" d="M895 1483l1 12 42 46 4 6 72 12-22-5-19 1-11-1-53 5 85 5 8-2 13-1 3-1"/>
<path class="q10" d="M890 1460l38 69 7 7 17 4 7 6 52 13-42-3-18-6-58 6-3 3 97 3 4 2 14 1 3-1-155 47 3-1 2 3 1-2-11 18-11 43"/>
<path class="q11" d="M927 1542l28 5 19-1-78 10 78 4 36 3 7-3-162 54-15 52"/>
<path class="q12" d="M1020 1559l-4-2-2 0"/>
<path class="q13" d="M995 1552l0-2-10 4 38 8"/>
<path class="q14" d="M919 1533l101 26-1 0-39-3 13 6-137 57"/>
<path class="q16" d="M951 1558"/>
<path class="q0" d="M894 1461l-3-8-4 0 4 15 1-3 2 16 0 0-2 25 0 1-7 16 9-8 1-3 42 20-10 2-8 0-16-4-4 4-9-3-1-3-1-3-2 7-1-4 0-4-2 5-1 1-2-2-1 7-6-8-1 8 1 4 0 6 0 0 1-3 2-1 0-1 1 0 1 4 1 1 0-1 1-4 0 6 2 0 1-5 13-2 2 7 1-10 0 9 4 1 26-10 4 9 3-2 0-7 7 10 1 0 4-5 2 3 2-2 9-1 9 6 12-1 16 9-2-2-6-4-2 1-6 9-5-1-8-5-2-5-13 0-17 0-5 3-21-2-11 4-7 3-1 0-1-1-1-1-4-1-7-2-1 1-2 7-1 0-3-1-6 10 1 2 0-4 1 1 3 2 2 2 2-10 1 3 9-2 1 1 1-3 12 0 56 7 31-4 6 0 4-1 10 0 11-2 2 1 1-1-116 16-25 2-9-3 0 2-5-4-1 8-1-8-5 18 1 2 1-9 0 7 0-5 1 9 1-2 1-1-1 6-2 2-1 0-1 0-3 4 4 8-5 14-2 4-2-9 0 0-3 21 1-3 2 0-4 7-7 20 0 0 1-4 1 0 0 1 2-5 1 1-6 14 0 0-1 0-1-1 0 0"/>
<path class="q3" d="M921 1541"/>
<path class="q4" d="M888 1464l24 65 0 2 71 43"/>
<path class="q5" d="M894 1484l-1-8 14 56 16 5 14 5 19 3 50 13-10-1-100 4-20 22"/>
<path class="q6" d="M904 1531l0 9 2-3 14 7 18-2 14-4 5 5 20 2 17 10-54-7-49 9"/>
<path class="q7" d="M889 1464l6 33 9 33-21 11 11 2 9-1 8 0 29-3 14 8 20-3 1 9-2-2-18 0-85 29"/>
<path class="q8" d="M893 1469l53 66-28-2-10 1-17 12 4-3 65 1 58 14-74-5-65-3-3 12 4 6 114-5 4 1 1 1 25-3"/>
<path class="q9" d="M906 1535l-31 4 59 6 2 2 12-3 47 7-9 7-9 3 10 4 31-2"/>
<path class="q10" d="M889 1461l-4 5 8 34 0 14-12 22 4 1 44 8 24 2 8-7 56 18-87-9-49 20 125-8-156 74"/>
<path class="q11" d="M880 1533l16 3 60 9 44 8-30-4-96 18 114-2 17-1-139 10-11 27"/>
<path class="q12" d="M946 1535l-55-3-2-1-16 9 14-2 72 4 1 4 25 7 0-3-3 1-96 5-16-7 14 16"/>
<path class="q13" d="M882 1485l48 50-62 24 108 2 31 3 15-2-155 19"/>
<path class="q14" d="M897 1527l-8 36-50 100"/>
<path class="q16" d="M928 1548"/>
<path class="q0" d="M892 1454l-2 7 0-8-2 1-2 9 5 1 1 10 2-5 0 14-3-7 3 16 1 17-2-6-1 5 0-1-7 15 63 8-12 2-8 1-1-1-8-3-12 4-7-5-11 4-5-6-1 9-1-1-4-7-4 6-1 5 2 3 0 6 2-11 4 1 4 7 0-7 3 1 14-2 1 9 6-2 2 0 1 0 3 0 0-7 12 0 1 7 1-4 12 3 2 0 9-1 4 3 0-6 3 2 6 6 38 11-9 0-8-9-2 6-5 4-3-5-16-5-2 4-2-1-1 1-5 3-2-5-27 2-15 3-3-1-3-1-1 5-1-3-1 1 0-2-2 2-3-2-5 0-9-5-1 1-3 5-3-7-1 10-2 13 2-3 1-1 0 4 3-1 0-2 3-5 0 8 9-7 80-2 5 5 30-6 9 3 4-3-133 16 0 0-9-4 0-1-3 2-1 0-2 7-5 14 7-10-7 16-2 2-1 4-2-2-4 13 1-1 2-9 27 8-28 7 0 2-1-1 0 6-3-1 0-1-4 13 2-4 1 4 1-8 2 1-3 10-2 4-6 17 0-3 0 5 1-4 1-5 1-1 0 1-5 13"/>
<path class="q3" d="M900 1544"/>
<path class="q4" d="M895 1467l-2 46 12 28"/>
<path class="q5" d="M889 1460l9 15-24 62 58-1 5 6 77 17-11-3-34-1-20-7-59 14 120-1"/>
<path class="q6" d="M915 1532l-3-4-28 15 21-5 31 2 1 4 29-3 4 5 5 12-22-1 39 7 11 0"/>
<path class="q7" d="M892 1456l-5 11 4 5 1 7-15 34 17 8 6 14 29 4 20-1 1 4 31 4 10 9-51 1-14-3-33-3 100 15-128 8-10 33"/>
<path class="q8" d="M886 1462l19 78 14-1 9-2 3 2 48 14 26 8 1 2"/>
<path class="q9" d="M890 1462l-5-2 10 33 9 42-1-1-4-8-2 11 44 6 42 7-17 5-12 0-24-1 70 7 18-1-37 14-114 4-1 8-13 29"/>
<path class="q10" d="M887 1460l6 60 42 15-54 2 0 8 34-9 29 2 0 9 21-6 5 5 45 11-14-4-14 3-3-3-1 3-13-4-7-2-66 5-13 9-4 9"/>
<path class="q11" d="M887 1532l-2-6 32 11 11 1 0-2 20 9 60 11-57-4-74 7 127 4 7 0 2 0"/>
<path class="q12" d="M879 1537l113 13-14 8-10-4 36 9 5-2 5 3-138 12"/>
<path class="q13" d="M888 1522l124 37-34-11-15 4-90-2 149 12-169 56-6 25"/>
<path class="q14" d="M906 1541l7 7 95 16 16-2"/>
<path class="q18" d="M884 1544"/>
<path class="q0" d="M894 1462l-1-4 0 5-1-6-2 1 0 1-1 0-4 4 5 2 6 9-3 36 44 25-3-1-18-8-5 3-3 0-15-2 0 0-2 6-2 0 0 1-2-7-1-1-1 1-1 6 0-6-4 2-1 4 0-2-4-4-2 11 2 9 4-2 2 0 1 0 2-9 3 1 8 5 2-1 2 4 5-1 5-5 5-2 2 7 3-6 6 8 2-6 4 7 1-4 4 1 1 0 3-1 4-5 9 2 1 0 1 1 21 4 44 14-3-2-3 0-2 1-11 0-3 0-12-3 0-3-1-4-9 6-10 0-2-3-2 4 0-6-1 4-1 0 0-2-1 2-14-3-10 5-8-6-29 6-1 2-1-6-1 5-2 2 0-4-1 3-9 1-4 1-4-5-2 4 0 1-2-4-2 7 1 1 1 7 0-2 2-1 5 2 2-8 18 0 29 0 38 1 42-2 1 1-129 18-9-4-3-1 0-2-1 1-1 9-1-7-4 10 1 8 1-4 0-5 1 4 2-4 1 10-5 7-2 2-8 14 3-8 0 1 1 6 1 1 2-7-5 10-1 9-1-9-1 7 0 0-3 13 1 2 1-10-1 14-1 2-1-4-5 18 0-3 3 0-5 11-2 1 0 2"/>
<path class="q4" d="M911 1535l-6-3-8 1 5 8 4 5 27-10-17 21"/>
<path class="q5" d="M889 1467l6 55 8 19 3 3 12-4 6-2 87 21-21-7-10-2-18 4"/>
<path class="q6" d="M889 1460l-2 2 7 9-13 27 14 5 30 27 8 15 23-7-53 16-11 2-16 1 102 3 24 2"/>
<path class="q7" d="M890 1461l-1-9-3 10 38 68-2 15 11 0 22 1 17 0 11 0 7 6-38 10 21 6-121 55-9 38 0-1-3 8"/>
<path class="q8" d="M889 1453l48 81-12-1-19 9 5 2 0 0 49-5 35 14-21-1-5-4-102 12 96 0 10 2 45-1 4 1"/>
<path class="q9" d="M891 1458l-3 1 8 28 35 48-5-4-15-2-29 4 11 14 52-4 5-4 51 13-5-2-9 5-20-1-74 2-23-4 25 11 113-2 11 1 0-1-156 22-19 66"/>
<path class="q10" d="M943 1533l-4 2-48-4 12 9 101 16-21-1-41-4 48 9-128 41-10 31"/>
<path class="q11" d="M944 1540l13 0 4 1 0 18-91 7-7 20"/>
<path class="q12" d="M969 1542l32 12-12-3-121 11 128 1 5 3 13-6-148 15"/>
<path class="q13" d="M885 1530l108 21-81 17 105-7"/>
<path class="q14" d="M945 1538l65 20-10 1-17-10 35 13"/>
<path class="q0" d="M891 1458l-1 2-2-4-2 3-1 2-3 0 9 3 0 0 5 14-1 20 1-1-6 26 6-3 36 13-7-3-4 3-1-5 0 4-4-2-3 1-8-3-2 0-1 3-8-7-12 6 0 0-5 3-3-3 0 13 0-2 0-1 1 6 0-8 0 7 2-3 4 1 0-3 2-4 1 1 3 10 1-10 1 10 0-10 14 1 13 2 4 5 4 0 1-8 8 7 1-3 5 2 4 0 6 3 11-6 11 4 4 2 34 12-7 0-9 0-12-2-25-5-3-1-4-2-15 0-1 10-28-7-7 8-4-6-2 1-1 4-1-5-1 2 0-1-1 3-3 0-5-8-2-1-5 10-1-1-3 8 1 3 2-5 0 3 2-3 3 7 5-4 8-6 112 3 9-1 12 0 0 0-51 10-96 11-5-9-1 1-1 4-1 0-4 0-1-5-5 21 0-3 2-6 0 8 0-5 1-1 1 7 0-11 0 0 2 7 1-1-5 8 0 2-1 4-1 2-2-3-1 3 0 4 1 7-2 10-4-2 0 5-2 3 0 0 0 7 1-1 4-7 31 10-37 2-3 11 0 0-5 12 0-2 5-8"/>
<path class="q3" d="M883 1461l-1 3"/>
<path class="q4" d="M892 1521l23 6-3 2-16 3 18 13 12-1 89 15-28-9-4-2"/>
<path class="q5" d="M895 1484l0 32-11 22 36-2 2 1 4 9 17-4 4-2 35 15 6 9 30-1-34 9"/>
<path class="q6" d="M897 1512l-1 35 1-6 3 2 6 1 5-2 55 2-2 7-60 5"/>
<path class="q7" d="M884 1458l12 27 1 10-1 11 0 3 31 12 2 13-16-5-18 5 29 10 7 0 5-1 58 7-8-1-5 8-25-4-16 6-13 0-2-10-35 4-9-1 88 17 25-6"/>
<path class="q8" d="M889 1464l18 70 27 12 8 0 56 12-44-10-6 4-60 1-14 11 97 5 38-7 6 2-153 22-25 85"/>
<path class="q9" d="M888 1461l-3 3 1 0 7 7 0 27 43 34-38 0 6 7 15 7 56-2 31 14-17-8-97 7-21-1 104 6 7-2 5 2 23-2"/>
<path class="q10" d="M892 1463l-2 58 29 6-32 5 101 24-3-7-3 0-14 9-48-7-48 8"/>
<path class="q11" d="M884 1533l102 18-8 6-7-4-92 5 113 2"/>
<path class="q12" d="M911 1513l-4 28 95 16-2 0 5 4 3 0 12-1 1 0-164 51"/>
<path class="q13" d="M892 1524l-5 10-13 7 142 17-21-1 17 6 6 0"/>
<path class="q14" d="M886 1522l-5 15 114 15"/>
<path class="q16" d="M935 1530"/>
<path class="q18" d="M901 1553"/>
<path class="q0" d="M890 1454l5 44 1-4-3 7-2 22 0-7 2-2 2 9 0-10 43 20-10-3-1 2-6-4-2 1-1-2-6 1-2 5-1-1-3-1-5 4-3-6-5 0-1 3-4-1-4 2-2-5-4 3-5 14 0-5 2 0 2-1 4 0 4-2 5 1 7 8 4-9 3-1 4 3 3 5 2 2 19-2 1-2 0-2 2-4 4 2 4 5 1-2 2-4 2 7 3-4 2 1 11-1 1 4 19 3 24 8-13-1-7 1-12-3-15 0-12-4-1 0-15 5-1-5-2 7-25 2-2-1-1 1-2 1-3-2-3 0 0-4-2 7 0 0-1-6 0 0-1 4-1 1-2 1-1-2-1-2-3-2-1 3-1-4-7 2-1 2 0-2-5 8 1 7 0 0 6-6 1 0 7 3 16-6 78 1 1 0 3 0 3 3 36-1 3-2-145 19-8-4-2 3 0-2-1-3-4 4 0 12 4-5 1 8 0-9-6 17-2-2-1-2-1 2 0-2-1 4-1 6-1 12 2-4 2-5 0 3 0-2-6 9-3 8-2 13 2-3 1 1 1-5-6 17-1-3 0 4 0 0-1 3-4 10 1-3 0 1 1 0 1 1 1-8-4 12 0 3-1-1"/>
<path class="q3" d="M897 1536"/>
<path class="q4" d="M928 1531l-32 10 6 6 49-3 4-3"/>
<path class="q5" d="M895 1487l53 35-27 6-9-1-25 16 124 13-23-1-7-5-34 8-58-2 93 8"/>
<path class="q6" d="M890 1471l6 25 38 36-10-3-13 0-33 4 28 3 46 10 44 11-4-1-3-1-106-7 101 22 30-7 10-1"/>
<path class="q7" d="M896 1504l2 28-22 1 19 9 20 2 25-1 7 2 17 1 14 12-25-2-35 8 41 3 15-7-101 13-14 32-11 41"/>
<path class="q8" d="M897 1496l44 39-22-6 23 17 1-1 7 1 34 6 27 9 4 1 9 0-174 73"/>
<path class="q9" d="M885 1468l32 60-5 0-14 3-20 2-1 5 13-1 55 4 25 4 8 2 10 5-38-3-71 10 0-9 92 14 14-4 26 4 9-2-159 30 0 1-11 37"/>
<path class="q10" d="M944 1542l2 5 8-4 4-3-67 18 79 9 26-3 3-1 0-2 19 3 1-1 5-1-187 111"/>
<path class="q11" d="M968 1546l47 13-146 2 6 6 117-7 28 2-32 10-110 0"/>
<path class="q12" d="M880 1530l123 24-100 4-17-4 123 6-139 17"/>
<path class="q13" d="M1014 1557l-118 1-23-9 0 16 148-5-160 36"/>
<path class="q14" d="M1021 1560"/>
<path class="q16" d="M1005 1562"/>
<path class="q17" d="M921 1540"/>
<path class="q0" d="M608 1769l-1 6-3-10-4 6-8 16 1-8 1 3 1-5 1 1-4 14-8 11 1 6 3-9 1 2 2 2-3 9-3-1 0 10 0-4-2 2-1 0-5 9 2-5 1 1 3 4-5 14-2 4 0 0-1-4-1-4-5 19 3-10 0 13-1-1-1 6-7 17 3-5 1 4-5 12-2 1-1 8 0-3-4 9"/>
<path class="q3" d="M558 1904"/>
<path class="q4" d="M600 1774l135 25-153 31-15 53"/>
<path class="q5" d="M595 1781l21 12-4-4-2 3-3 3-4-2-1 3-20 15 12-11 142 1-149 16-7 9-2 11-6 11"/>
<path class="q6" d="M611 1764l-6 10-8-1-4 12 9-1 109 4-104 5-4 6-6-3-2 1-5 14 13-3 125-7-129 14-10-2-17 37 1 11"/>
<path class="q7" d="M603 1771l-1 0 136 27-20-7-109 7-7-3-10 7 149-2-158 17-4 9"/>
<path class="q8" d="M607 1766l-1 3-6 14 117 13-18-8-91 11-2-3-2-4-12 12 19 6 25-9 88 1-166 100"/>
<path class="q9" d="M609 1761l2 4-16 4 75 11 8-2 41 17-1 0-5-4-2 6-2-5-88 0-11 2-2 0-10 12 2-3 121-3 10 1-144 11-5 18 4 1"/>
<path class="q10" d="M602 1774l-4-2 10 9 8-2 57-1 64 20-6-4 0 3-10-3-14 4-10-4-94 85"/>
<path class="q11" d="M606 1700l10 13 15 51-1 1-12 1-9 18 20-2 1-1 7-4 95 21-7-4-7-3-1 4-15 4-1-9-7 2 8 12 8 9"/>
<path class="q12" d="M671 1775l-27-6-2-1 25 11 17 7 51 11-2-1-16 1-8 1-17-5-6 13"/>
<path class="q13" d="M605 1690l9 25-1 6-14 15 25 30-7 17 12-4 2 4 19 1 2-5 9-3 11 9 56 14-17-6-6-5-5 2-8 8-54-9 10 17"/>
<path class="q14" d="M605 1691l1 2-1 2-1 12 4-3 4 18 2 25-2 1-1 4 1 7 53 1-11 14-12-4-12-3-13-1 7 16 8 1 14-7 1 7 2 1 12-4 4-3 11 1 1 6 1-4 45 16-25-8-64 6-14-4"/>
<path class="q15" d="M612 1700l-1 1-2-5 1 34 4 5 32 40-1-1-10-9-9 6-4-3 0 6-2-6 5 8 12 7 2 0 12 0 14-4 6 2 5-3 3 19-8-9"/>
<path class="q16" d="M612 1707l-1 27 0-2 0 23 20 20-11 9 52 1 5-8-4 26"/>
<path class="q17" d="M613 1720l2 15-1 37 9 7 16 0 19-2 5 10 10-9-22 17"/>
<path class="q18" d="M628 1767l-13 10 15 0 39 0"/>
<path class="q19" d="M630 1784l39 4"/>
<path class="q20" d="M631 1779l26 2"/>
<path class="q0" d="M607 1766l-3 4-1-6-12 22 1-3 4 4 1-4 9-7-10 21-4-8-3 1-3 19 2-8 1 4 0 0 3-4-7 21-2-4-4 4-2 4 0 6 1-8 0 5 5-5-4 14-3 5-1-1-1 2-4 13 3-1 1-5 0-2 1 6-2 7-3 6-1 0 0 0-2-3-1 14 1-5 1 4 0 4 1-7-3 11-3 6 0-4-5 16 0-1 1-2"/>
<path class="q2" d="M731 1797l-137 0"/>
<path class="q3" d="M732 1797l-148 22-7 30"/>
<path class="q4" d="M608 1772l-4-5-7 2 12 23-16 12 2 13-39 91"/>
<path class="q5" d="M610 1762l-3 7-8 18 4-6 4 5 133 13-1 0-130-3-5 6 68 2-91 18 8 4-8 10"/>
<path class="q6" d="M605 1769l-7-2 9 15 127 16-1-3-18-3 0 1-107 4-17 6 121-2-140 66"/>
<path class="q7" d="M614 1785l-1 8-3-1-1-2-18 20 12-10-26 34"/>
<path class="q8" d="M604 1764l78 15 5 5 40 15-2-3-8 1-97-3-5 1-11 2 0-6-8 18 6-8 116 2 10-1 11-2-126 16-48 65 1-1-10 30"/>
<path class="q9" d="M605 1772l-3 3 75 5 24 5 34 14-7 0-13-3-3-6-102 4-9 10 115-3-121 20-15 9"/>
<path class="q10" d="M604 1698l8 83 64 0 13 4 45 12-46-9-80 2 111 12 6 0-24 10"/>
<path class="q11" d="M606 1700l-3-1 31 71-13 2-6 2-9 7 27 0 14-5 37 5 3 2 45 16-8-3-11-1-1-1-3 4-5 0-2-7 17 9 3 2"/>
<path class="q12" d="M610 1694l0 9-1-3-6-2-2 4-6 49 59 19-8 5-44 11 24-10 62 11 1-3 5-1 1 13-10-1 25 8"/>
<path class="q13" d="M603 1704l9 1 1 42 8 19-4 6-1-2 22 12 18-6 2 0 0 2 12 1 1 0 2 3 2-1 33 15 0-4-34-4-8 7-8 1-5 2-5-7 42 15 6 2 17-8"/>
<path class="q14" d="M607 1691l3 0 0 1 2 18 43 60-9-1-17 13 20 2 2-1 14 0 3 1 2-6 0 6 24 7-1 4-8-3-7-1 11 13"/>
<path class="q15" d="M610 1695l-1 4-2 1 8 28 41 47-18-1-14-6-22 14 25-6 62 6-6 17-44-9"/>
<path class="q16" d="M608 1691l1 11-1-2 30 74-8-8-11 9-2-5-1-5-1 9-1 7 24-3 13 2 5 0 41 19-31-11"/>
<path class="q17" d="M607 1693l4 14 1 32 1 2 46 31-27 2-12-5-2 1-2-1-5 12 16-1 12-2 15 4 0-1 1 1 18 1 5 2 2 7"/>
<path class="q18" d="M629 1751"/>
<path class="q19" d="M655 1773"/>
<path class="q0" d="M609 1771l-5-3-9 11 2 8 0-5 1 7 0-1-2 1-1-1-8 5-5 18 7 0 3-11 3 0-9 16-1-1-4 3-1 4-1 0-3 8 0 2 2-3 3 2 0 4 2-10-5 12-2 10 0-3-6 13 1 0 1-3 3-2 0 2 1-3-5 20-4 9 1-4 1-4-4 15-1 1-2 4 0 3-3 5 2 1 1-5 0 2-5 11-1 0 0 1"/>
<path class="q2" d="M560 1900"/>
<path class="q3" d="M707 1790l-119 9-26 97"/>
<path class="q4" d="M604 1760l-24 72"/>
<path class="q5" d="M606 1764l-14 9 6 5 1 1 138 18-13 1-109-5-1 3-1-1-5-1-23 18-7 18"/>
<path class="q6" d="M608 1769l-15 10 4 6 1 2 19 11-8-3-15 3-2-10-3 17 5-3 147-2-144 17-8-2-10 14 0 10-7 16"/>
<path class="q7" d="M611 1764l-9 23 3-8 6 6 123 12-41-1-76-3-1-1-9 3-13-1-6 9 25-3 121 1-138 16-3 5-7-8 0 8-6 8"/>
<path class="q8" d="M733 1795l-4 1-3 2-6-4-14-1-91 2-2-3-2 4-12 3 64 1-75 12-7 11 11 6 8 25"/>
<path class="q9" d="M599 1771l-6 7 11 1 132 18-2-1-2-1-14 1-1 3-22-1-76-4-6-2-11 2-14 9 4-2 12 0 102 2 17-2 12 0-154 25"/>
<path class="q10" d="M605 1697l-3-2-2 79 79 3 57 20-11-3-6 2-2 3-20-8-2 7 2 8 4 3 26-7"/>
<path class="q11" d="M607 1698l70 82 49 14-21-6 0 2-1-2-21 2 1 12 41-1"/>
<path class="q12" d="M603 1701l61 72-47-1 12 9 26-2 3 7 9-6 25 2 23 13-17-1-15-4-23 0 36 11 26 2"/>
<path class="q13" d="M609 1703l-7-7 10 62 33 11-24 3 8 10 1 2 28-3 52 15-6-3-6 5-1-2-20-5-20 2 51 9"/>
<path class="q14" d="M607 1699l8 26 32 48-10-6 0-2-8 1-5 13 10-2 23 3 5 1 4 6 0-3 1 1 2-9 8 3 7 0 11 12-97 0"/>
<path class="q15" d="M608 1698l0-5 3 48 27 31-19-1 18 7 5 5 4 3 5-4 2-2 8 0 1-2 6-1 4 2 23 6-32 15"/>
<path class="q16" d="M605 1690l4 19 2 29 36 34-7-2-22 6 3 0 62 23-5-8 3 10"/>
<path class="q17" d="M610 1695l3 35 2 3-1 9-4 2 35 15-1 10-6 1-20 3 3 7 3 0 26 2 12 1 27 9"/>
<path class="q18" d="M653 1774l-13 8 7-5 6-1-30 17 7 11"/>
<path class="q19" d="M637 1769l-15 0 25 8 1 1 2 3"/>
<path class="q20" d="M624 1769l55 30"/>
<path class="q21" d="M682 1778"/>
<path class="q22" d="M616 1767"/>
<path class="q0" d="M610 1770l-4-3 0-2-4 1-2 5-11 16 1-1 11-2-5 7 0 5-2-8 0 11-5-6-5 13 0-1 3 2-2 11-7 9 3 2 0-2-1 12-2 2-1-3-1-1 0-1-1 10-4 9 2 4 2-4-3 7-3-1-2 10-2 7 0 4 1 0-2 5-1-2-6 22 1-2 1 0 0-2 0-3 1 2"/>
<path class="q2" d="M567 1883"/>
<path class="q3" d="M590 1783l-9 32-12 55-4 20"/>
<path class="q4" d="M603 1775l8 1 9 23-20-9-23 55"/>
<path class="q5" d="M604 1761l7 6-18 4 138 24-10-3-102 0-6 2-5 0-3 3-5 6 7-3-19 18-11 20-11 47"/>
<path class="q6" d="M609 1761l1 4-19 8 2 4 1-1 5 7 3 2 4-9 128 23-20-4-99 1-3-2-2 0 0-3-2 5-16-1-1 6 0 9-35 99"/>
<path class="q7" d="M603 1762l-1 12-3-7-3 11 2 6 2-6 0 5 82 1 50 13-9 2-111-5 110 6-143 38-19 61"/>
<path class="q8" d="M596 1771l4 7 73 9 60 9-1 3-4-3-8-2-10-4-88 2-12-2-19 1 129 10-142 40"/>
<path class="q9" d="M593 1786l66-7 13 5 7-6 46 14-20 1-81 0-1-1-11-1-9 0-6 15-15 17"/>
<path class="q10" d="M613 1767l48 17 3-4 71 16-20 0-28 3-25-11-3 1-54 3 95 9 10 0 9-1 5 1-140 30"/>
<path class="q11" d="M609 1696l-4 6-4-3 2 7 4 3 45 65-7-3-20 1 32 9 18-3 5 9 11-3 13 2 34 12-5-3-6-2-28-1-31 0 37 10"/>
<path class="q12" d="M606 1705l39 66-30 8 4 2 10 6 22-8 67 12-4-2-1 1 0 4-1 1-17 1-6-5-11-2 31 12 7 1 13-1"/>
<path class="q13" d="M610 1724l4 24 49 27-32 0-16 7 10 5 20 0 16-5 0-2 5-2 7 7 23 0 17 3-32 1-28 4 37 10"/>
<path class="q14" d="M614 1751l-3 8 41 14-21-6-9 6 16 10 29 3 2-8 0 1 18 4 11 0 8 4-5 10-17-4-3 4-16-3"/>
<path class="q15" d="M615 1734l-4 11 43 25-13 3-4-6-4-2-8 5-1 8 30 3 8-2 7-1 1 8 8-8 34 11-11 5-22 5 19 13"/>
<path class="q16" d="M613 1705l-13 18 53 45-11-1-2 8-7-1-9 0-2 0-6-6 27 19 4-11 4 8 1-1 29-5-1 15"/>
<path class="q17" d="M608 1704l6 53 40 17-5-6-12 3-22 4-7-6 5 11 39 5 7-1 3-1"/>
<path class="q18" d="M643 1767l-2 7 0-4-15-3-3 2 1 8"/>
<path class="q19" d="M630 1766"/>
<path class="q20" d="M614 1775"/>
<path class="q0" d="M609 1770l-2 4 0-8-3-2-5 2-4 9-1 9 2-3 0-2 3 2-1 10-5 1-1 3-2 0-4 3 1 8 1-6 2 5 2-5 2 2-6 13-3-2-9 21 4-1 4-6-6 16-3-5-1 8 0-3 1 13 2-7-6 20-2-4-1 6-2 9 0-2 1 0 0-2 2-3 0 1-2 10-4 5 0-3-5 21 0-2 0-1 1 1 0-4 1-5 3 0-6 14"/>
<path class="q2" d="M728 1794"/>
<path class="q3" d="M591 1797l-5 0 155 3-185 110"/>
<path class="q4" d="M593 1780l1 4-25 74 3 4-14 46"/>
<path class="q5" d="M602 1771l-8 8 135 18-20-3-101-4-15 17-19 38-6 19"/>
<path class="q6" d="M607 1767l-10 20 103 1-84 9-22 2 18 3-47 84"/>
<path class="q7" d="M734 1798l-116-7-19 24-24 31"/>
<path class="q8" d="M597 1770l-1-5-3 16 1-4 1-1 3 7 141 16-5-2-4 0 0-1-3 3-9 0-1-8-11-2-3-1-8 7-4-3-75 6-2-5-3 0 113 8 6 0 4 0 3-1-152 19-4 13"/>
<path class="q9" d="M631 1769l-1-3-30-1-2 3-7 8 4 7 82 1 58 12-6 0-9-1-42-4-57 5-9-6-8 0-9 7-4-3 5 13 2 0 112-6 30-1"/>
<path class="q10" d="M603 1702l0 2 34 62 53 15 20 8-30-1 25 13 32-1"/>
<path class="q11" d="M630 1769l30 7 2 4 6-3 10-1 22 7 0 3 24 9-6 2-8-4-10 1-2 1-25-4-8-1"/>
<path class="q12" d="M607 1691l47 81-40 7 34 8 14-10 5-1 17 5 3 3 22 8 0-3-3 5-1-1-5 0-5 2-50 2 75 16"/>
<path class="q13" d="M616 1743l-4 18 22 17 11 3 10 2 6-3 1-4 0 1 10 9 1 1 10-6 10 1 6 2 23 14-6 0-11 1-21-8-11-2"/>
<path class="q14" d="M612 1702l-3-5 0-5 1 18 3 20-2 15 54 23-13 3-9 4-14-4-12-7 5 19 42 0 1 3 5-9 2 0 1 13-17 3-6-4"/>
<path class="q15" d="M609 1691l-3 4 4 17 2 19 1 6 1 4-3 0 0 4 21 18 33 11-8 1-7-5-16-2-11 11 35 8 2-3 39-1"/>
<path class="q16" d="M613 1736l0 14 26 21-15 2-1-5 9 18 2-10 21 10 11-9 5 8-9 6"/>
<path class="q17" d="M606 1695l8 31 0 7 0 27 27 9-26 0 35 17 5-2 6-1 5-1 10 3 23 13-20-7-56-2"/>
<path class="q18" d="M656 1771l-14 4-7 0-14 9 21-2 4-4 10 1 7 0-18 19"/>
<path class="q19" d="M624 1775l-10-6 42 8 4 1"/>
<path class="q21" d="M622 1777l1 1"/>
<path class="q0" d="M612 1764l-1 5-5-4-5 7 0-4-2 7-4 4 1 8 8-11-5 14-5 9-3-3-1-3-3 18 0-7 0-4 2 0 0 4 1 5 1-7 150-1-153 12-9 19 2-6-9 24 4 0 0-2 1 1-4 14-6 7 1 7 0-1 1 0-6 18-5 6 1-1 1 3-3 9"/>
<path class="q3" d="M740 1799"/>
<path class="q4" d="M599 1775l-3 2 140 19-4 5 3 0-136 14"/>
<path class="q5" d="M597 1775l-1-9-4-1 0 13 10 1 6-3 109 15-100 4 0 4-2-6-9 1-4 2-13 14 0 1 9 0 2-4 139-7-147 23-6-11-10 38-13 44"/>
<path class="q6" d="M606 1770l-7 5-2-4 142 28-128-7-23 6 16 3-15 12-29 86"/>
<path class="q7" d="M609 1773l-3 1-6-8 1 12 137 20-3 1 0-1-12-2-20-5-89 8-2-11-2 6-1 2-41 69-8 31"/>
<path class="q8" d="M600 1778l0 4 131 17-4-3-15-8-101 8-13 1-1-1-8 0 3 9 143-4 2-1 2 0-141 15-27 48 0 3-8 23-3 11"/>
<path class="q9" d="M639 1775l-30-1-6 1-1 0-10-7 2 14 11 3 73-6 53 16-27-2-1 3-8-7-83 4 85 10 1 1 6-4 15 0"/>
<path class="q10" d="M606 1697l90 89 7 1 34 11-5 1-1-4-13-6-1 10-8-11-6 10 0-7-1 1-104 11 91-2 10 0"/>
<path class="q11" d="M610 1702l41 71 23 13 25 0 3 1 36 11-42-2 17 5 1 1"/>
<path class="q12" d="M607 1702l-3-2 6 33 35 37-15 3-12 9 9-2 16 4 10-2 8-1 36 5 29 9-13 0-4-3-33 0 43 9 5 0"/>
<path class="q13" d="M608 1702l0-5-2 2-1 1 9 32 1 10 31 26-26 8 24 8 7-6 3 0 11-1 2 9 2-4 4 0 12 3 50 13-22-9-7-1-6 6-6-5 0 9-9-10-36 1"/>
<path class="q14" d="M609 1697l2 40 2-6-1 18 29 26-16 9 26-2 4 0 4-2 10-2 3 6 15-5 13 17-9-6-4 3-7-3"/>
<path class="q15" d="M608 1700l1 10 5 2 0 5 1 33-1-6-2 7 26 15-16 6 0 3 15 1 39 14-3-1"/>
<path class="q16" d="M607 1690l1 8 0-2 1 18 4 6 1 37 39 17-1-4-18 4-2 1-11-1-2-5 1 13 5 0 62 8-1 2-15-3"/>
<path class="q17" d="M607 1698l3 8 2 3 1 2-3 20 1-1 4 4 45 37-21-5-14 13 38-3 4 9 4 10"/>
<path class="q18" d="M648 1773l-5-5-14-1-15 1 20 14 50 10"/>
<path class="q19" d="M638 1772l6 12 12-7"/>
<path class="q0" d="M606 1763l1-3 5 2-4 8-2 5-3-7-1-4-4 7 0-4-1 15 4-3-7 13-11 19 2-3 1 0 3 0 1-1 0-1 1 2-6 14-6 8 1 2 0 2-1 5-2 8-2-7-1 1 0 6-2 8 2-7-1 17-4 5-2-4-1 11 1-2-1 10-4 8-4 11 0-2 1-3 1 5 2-7"/>
<path class="q3" d="M602 1765l-28 78-3 14-15 52"/>
<path class="q4" d="M611 1765l109 29-99 1-4 1-17-2"/>
<path class="q5" d="M612 1765l-2 4-10-1 8 17 11 10-6-1 0-4-10 1 27 14-51 27-17 63-4 13"/>
<path class="q6" d="M595 1771l-2 13 7-7 2 0 2 5 3 2 7 2 3-3 111 14-113-6-4 6-2-5-2-4-3 7-3-4-8 5 0 6 11 0 117-1 15-1-156 32 1 3-2 3-16 54"/>
<path class="q7" d="M610 1769l-14 0-1 2-3 12 1-6 132 21-1-1-7-4-9 4-97-8-6 7-21 14 34 0-34 14"/>
<path class="q8" d="M611 1769l-4 5 1 2 128 23-5 0-39-2-73-1-5-7-4 7-17 5 134 1 13-2-118 14-43 17 2 0 9-5-21 50"/>
<path class="q9" d="M597 1775l-3-7-1 10 2-1 123 19-17-4-78 3-26 2 114 5 15-2-141 23 7 5"/>
<path class="q10" d="M637 1772l-46 6 95 7 34 7-22 2-89 1 96 14 29-8 6-1 0 0"/>
<path class="q11" d="M623 1770l49 9 11 5 2 3 38 5-7 7-13-8-16 14 54-5"/>
<path class="q12" d="M606 1696l-2 6 4 7 14 60-4-1 39 19 29-6 12 6 6-3 8 7-14 3-8 7 21-1"/>
<path class="q13" d="M604 1701l7 13 1 8 52 51-37-7-2 4-5 3-6 13 7-8 3 2 9 2 19-6 10 9 4-2 6 0 2-7 0 0 27 11-10 12-6-9-17-1-17 1 47 14"/>
<path class="q14" d="M615 1725l-3-4-1 25 35 21 0 7-4-5-26 15 9 0 44-1 38 4-13 4-1 8-2-10-2 5-18 0-5-3-1 5-21-8 62 19"/>
<path class="q15" d="M614 1736l-2 17 44 18-17 4-9-5-10 4-3 1-1-3 1 9 8 2 51-4 15 3-13 8-7 3-1 6 21 7 6 3"/>
<path class="q16" d="M608 1699l1 9 1-4 2 9 1 10 2 7 35 43-20-6-2 3-12-4-2 8 56 5 1 2 22 3 10 6-2 18"/>
<path class="q17" d="M609 1703l5 22-3 11 50 35-5 4-7-2-10-8-10 2-6 8 0 7 25 0 6 3 7-3 40 9"/>
<path class="q18" d="M649 1777l2 7"/>
<path class="q19" d="M634 1764"/>
<path class="q20" d="M637 1768"/>
<path class="q21" d="M631 1783l8 15"/>
<path class="q0" d="M610 1762l-1 10-2-1-16 25-7 14 2-6 2 3 2 2 5-8-7 14-4 6-1-7-1-2-1 10-2 13 1-2-3 8-3 6-1-1-3 9 2 2 2-4 0-1-1 8 0 4-2 5-3-3 0 0-1 4-2 13 1-1 1-10 0 11 2-7 1-3 0-1-13 35 1-4 1-3 1 0 2-2-6 12"/>
<path class="q2" d="M576 1838"/>
<path class="q3" d="M602 1763l-16 37 154 0"/>
<path class="q4" d="M602 1773l121 26-139 21-4 22 0-3-3 6-8 18"/>
<path class="q5" d="M604 1775l-3-8-6 7-1-9-3 11 5 5 23 13-8 7-35 42"/>
<path class="q6" d="M607 1769l95 17 18 6-107 2-2-2-1 2-1 4-2-7-10 19-3 4-7-2-10 17-5 23 4-2-13 46"/>
<path class="q7" d="M601 1771l-3 7 7 7 134 14-7-4-5 2-106-4-3-3 0 3 0 4-11-6-2 3-16 12 111-4 27 0 8-1-155 25 2 0"/>
<path class="q8" d="M605 1760l-13 15 0 2 4 5 101 5 6-1 4 1 27 11-5-4-36 5-71-6-4 5-6-4-7-2-1 1 88 15 17-7 18-1-133 20-6-6-2 3-8 20-14 46"/>
<path class="q9" d="M603 1766l-6 5-1-4-2 4-2-7-1 19 82 2 28-1 21 15-6-2-68-4-27 5-7-2-1-6-6 1-16 13 112-3 28 1"/>
<path class="q10" d="M606 1698l-3-1-1 9 10 54 24 5-11-1-22 12 57 8 11 1 40 10-4-5-1 3-7 4-96 6 2 0 83 3"/>
<path class="q11" d="M607 1705l46 68 15 14 18-3 9 1 40 11-10 3 0 0-13-8-8 2"/>
<path class="q12" d="M602 1700l19 72-13 4 37 3 2-2 7 5 19 2 19-3 19 18-15-11-3 3-22-3 23 12 22 3 24-3"/>
<path class="q13" d="M607 1703l-3-4 2 13 5 22-2 20 34 13-26 7-3 5 7 0 8 1 6 2 14 0 5-2 10 5 15-4 47 17-37-6-10-3-35 2 48 9"/>
<path class="q14" d="M609 1701l0-7 1 19 2-4 2 2-5 48 2-7 25 19-16 8 9 3 15 0 15-1 6 3 23 13-1-7-37-1-5 0 44 21"/>
<path class="q15" d="M612 1699l-1-2 3 26-1 38 0-7 44 19-10 1-1 7 9-4 23 5 9 5-16 3 6 14 16-4"/>
<path class="q16" d="M611 1717l3 13-5 26 26 14-1-2-1 6-9-1-9 11 30-6 11 3 5 0 5 0 3 14-42 1"/>
<path class="q17" d="M635 1774l-10 1 26 7 16 3 14 4"/>
<path class="q18" d="M641 1771l-15 1-9 2 0 7 43 3 2-7 4 2 2 3"/>
<path class="q19" d="M678 1784"/>
<path class="q0" d="M893 1696l-1 5-1 0-1-4-1-5 0 5 4 7 3 5 3 18-4 7 2-2 0 6-1 3 45 34-7-4-12 0-11-2-2 3-1-1-4 0-7-2-1-5-2 0-1 9-2 0-1-8-1 7-2-2 0 3-5-4-6-2-1 13 1 1 3 1 1 2 3-3 0-5 2 5 2-4 1 4 3-4 4 1 3 5 7-5 2 3 2 5 2-7 2 4 18-5 11 5 0 0 3-3 9 1 0-3 1 2 2 7 4-4 1-3 0 2 1 4 4 0 5-1 9 2 42 12-9 0-7-5-2 3-1-5-12 0-2 3-7 4-5-1-6-9-3-1-4 1-7 4-2-3-3-1 0 3-1 3-2-7-9 7-28-6-11 4 0 2-3 1-2 0-2-2-1-1-1 5-1 1 0-3-16-6-1 8-2-2 0-4-6 15 1 1 4 1 1-3 2-1 0 1 1-3 8 3 3-4 14-2 77 3 12 2 6 0 8 0 4 0 1-5 3 1 6 3 2-4 3 2 3 0 0 0 0 0-30 13-90 1-23 1-10-3 0-2-1 5-1-2 0 1-7 2-5 16 1-2 0 1 2-5 0-2 0 3 2 6 0-6 2 3 1-8 1 10 1-10-9 23-3-6-1 8-1 11-1 10 0-2-4 11 1-7 0 2 2 2 0-2 2-2-5 14-1 2 0-3 0-1-1 2-6 16 1-4 0 7 3-7-7 15 0 0"/>
<path class="q1" d="M944 1783l19-4 55 23"/>
<path class="q2" d="M929 1771l-27-3 35 11 8 4 8-4 43 12-12-1-10 4-17-6-9 2-14 2 83 8 0 1 4 2 0-1"/>
<path class="q3" d="M932 1778l2 5 29-1 43 15-7-5-19 9 16 1"/>
<path class="q4" d="M887 1698l80 83 4 13 50 9 1-1 2-2"/>
<path class="q5" d="M939 1772l-17-3-4-3-17 11 12 7 22 1 11-1 10-1 32 8-2 8-25-7-26-1 69 10"/>
<path class="q6" d="M921 1774l-20 0 7 4 53 3 2-1 32 18-1 0-23-3-19-7-19 6"/>
<path class="q7" d="M915 1772l43 8 20 18-1 11 24-6"/>
<path class="q8" d="M892 1778l7 3 25-4"/>
<path class="q9" d="M892 1698l6 55 17 15-24 19"/>
<path class="q10" d="M946 1774l-31-3"/>
<path class="q11" d="M896 1724l-10 41 12 23-21 0-18 50"/>
<path class="q12" d="M899 1786l9-10-1 18"/>
<path class="q13" d="M895 1732l-14 41 18 3 42 7-54 22"/>
<path class="q14" d="M893 1758l2-4-11 38-29 59 3-3-5 12"/>
<path class="q15" d="M895 1769l-5 3 8 4"/>
<path class="q16" d="M872 1802"/>
<path class="q17" d="M894 1771l-30 53-15 57"/>
<path class="q18" d="M877 1786"/>
<path class="q0" d="M891 1700l0-1-1-4 1 11 3 0 4 19 0 2-3-8 2 14 1 2 1-5-4 10 0 8-8 15 11-4 52 3-1 13-35-8-1 2-4-2-10 5-1-1-3-4-1-3-2 10 0-2-1-4-7-1-2 6-4 0 0-1-2 1-1 12 0-7 2 9 1-6 3-4 3 8 1-9 5 2 0-2 1 8 1-6 12 3 1-1 1-4 2 5 0 3 8-7 11 1 3-1 9 7 2-6 1 1 4-1 0 4 1 0 0 3 1-8 1 3 5 4 1-5 3 2 3 6 15-3 1 2 0-3 45 16-17-3-2 1-4 0-1-5-9 3-1-2 0-3-3 1-1-2-3 5 0-4-4 2-5 1-2-3-5 0-1 4-6-5-2 3-2-2-17-2-36 9-2 1-1-10 0 3-2 6-2-3-1-1-2 0 0 0-3 3-1-1-6 4-2-10-5 8-1-9-4 12 0 2 4 5 1-2 1 2 1-4 1 0 0 4 5-6 10 1 41 7 35-7 13 8 2-9 10-1 11 2 4 0 1 1 3-2 0 1 1-1 0 3 5-3 0 1 5 0-140 15-2 1-7-5-6 1-6 11 2-1 0 9 0 5 0-1-1 4 0 0-2-2-6 16 0 3 3-7 2-1-4 15 0-2-1 0-6 17 1 0 1-1 1 0 0-4 0 4 2-5-5 14-2 0-5 18 1-4 3-5-4 11-2 5"/>
<path class="q2" d="M945 1773l-39 2 3 11 36-2 1 0 18-5 7 9"/>
<path class="q3" d="M900 1745l1 21 10 17 30-5 70 20-22-5-25 6-2-6-55-2 96 10"/>
<path class="q4" d="M930 1770l-34 13 12-6 16 0 12 5 86 17-34-5-9-2-4 2-10 0-2-2-16 11 50 0 24-2 6 1"/>
<path class="q5" d="M912 1779l41 1 62 17-5-2-12-2-13 2-1 1-15-2 0 0 7 8 36-2 9 0"/>
<path class="q6" d="M908 1775l7 2 37 1 2 4 24 3 25 8-47 4-21-9-8 1 96 11 4 2"/>
<path class="q7" d="M891 1711l12 66 3 1 28 8 67 9-115-7 91 22 12-8"/>
<path class="q8" d="M890 1700l-3 3 8 33 18 17-29 43 5 4"/>
<path class="q9" d="M894 1693l30 87"/>
<path class="q10" d="M896 1753l11 31 31-6 1 2-43 12-33 41-18 65"/>
<path class="q11" d="M896 1724l-1 19 1 20-28 51"/>
<path class="q12" d="M899 1736l-13 37-2-5 13 24-4 6"/>
<path class="q13" d="M897 1743l-20 35 24 5 18 2 20-9"/>
<path class="q14" d="M881 1771l-35 124"/>
<path class="q15" d="M891 1692l-23 134"/>
<path class="q16" d="M846 1899"/>
<path class="q0" d="M894 1696l-3-2-4 14 4-4 2 8 1 3 2-4 3 15-1 18-1 5-1 1-8 12 9-6 43 17-1 2-1 0-5 0-3-3-4 3-6-8-6 1-7 4-6 2-1-3-2 3-9 0-1-2-2 3 0-9-2 8-2-5-1 6-6 3 3-1 1 3 0 0 3 0 0 5 1 0 1 0 1-4 5 2 0-7 3 1 5 5 5 1 1 4 5-10 0 1 4 7 1-3 0 0 8-6 7 4 0 6 6 0 9 0 1-4 12 4 7-5 8 1 8 3 38 14-1-2-2 2-1 0-1-4-5 3-2-4-2 4-1 0-1 1-4-6 0 3-1 1-1 0 0-5-2 3-2-6-3-1-2 5-2 2-2 2-3 1-2-5-6 3-1 2-3-5-5 0 0-5-4 1-1 0-2 3 0 3-2 3-12-2-8-5-30 6-5-3-3 1-1-5-2 7 0-4-1 0-2-4-3 4 0 0-1-4 0 9-2-5-2-4-1 1-1-1 0 3-1 7-1-2-2-2-2 4-4 8 2 1 5-7 2 2 0 8 5-6 8-5 45 0 29 0 6 7 4 1 10-4 3-1 1-1 1 2 8 0 12-3 2 2 0 1 7 0 0-1 1-2 6 1-125 11-19 5-9-5-3 6-1 0-1-1 0-6-2 1-6 18 2 4 0-7 0 5 2-4 5-4 7 0-18 14-2 17 0-1 1 4 2-8-8 16-1 10 1-2 35 7-38 6-1-2-2 3-5 18 1-1 1 1 1-4 2-4-5 9"/>
<path class="q2" d="M937 1772l-28 9"/>
<path class="q3" d="M893 1701l-5 0 43 70 29 12 13 4 26 3-7 0-13 4-49 5 94 1"/>
<path class="q4" d="M889 1702l24 71 27 11 75 14-9-2-21 8"/>
<path class="q5" d="M898 1781l9-1 7 3 19-3 4 4 3-5 35 4 35 15-20-2-10 2-6-10 21 15 9-1 1 1"/>
<path class="q6" d="M894 1726l6 55 44-2 6 0 69 18-39 1-38-9-31 10"/>
<path class="q7" d="M894 1703l27 77 57 6 8 0"/>
<path class="q8" d="M900 1774l43 9-14 9-5 0"/>
<path class="q9" d="M866 1832"/>
<path class="q10" d="M884 1770l-9 6 11 11 54-1"/>
<path class="q11" d="M896 1751l5 21-2 12 24 2"/>
<path class="q12" d="M892 1700l39 79 4-3 2 9-42 11-38 52"/>
<path class="q13" d="M893 1698l23 78 19 8-62 26-12 22"/>
<path class="q14" d="M884 1725l-5 53-6 35-4 20"/>
<path class="q15" d="M904 1797l-6 1-9-4-18 10 27-3"/>
<path class="q16" d="M883 1785l-7 18-7 21-21 57"/>
<path class="q17" d="M886 1766l-26 87-4 15"/>
<path class="q0" d="M896 1703l-5-10 0 7-1-4-2 4 3 4 2 5 0-5 1 4 1 1 0 24 3 4 1-5 0 3-1 14-3-6 1 19 0-2 33 1 10 11-12-3-4-1-8-1-2 2 0 0-2-1-16-2-1 6-4-5-4 2-4 1-2-1-4 14 2 4 0-6 3 3 1-4 2 6 0-6 8-2 6 9 1-11 2 1 4 0 12-1 6 5 2 4 14 2 2-8 0-2 5 5 5-3 3 0 3 2 0 4 5-3 5-2 5 6 13 1 37 12-4-2-7 1-5-2-5 2-2-5-2 4-5-2-2-5-5-2-1 1-2-1-5 7-3 4 0-6-8-2-1 1-4 2-6 2-3-8-5 5-4 6-8-6-6-4-27 4-1 5-2 0-2-4 0 1-3 2 0 0-2-4-3 6-6-7-3 7-2 0-2-7-7 14 18-5 0 3 1-1 9 0 4-2 2-1 61 2 11 3 7-2 12 0 9-2 7 3 1-3 9-1 3 0 1 0 1 2 1 0-52 10-92 1-3 10 0-3-1-4-6-1-1-1-1 0-1 1-2 8 0-1 0-3-3 10 1-1 0 7 3-9-5 15-1-1-1 0 0 3-1-6-1 0-1 6 0-2-1 6 0-1-1 4 0 9 0-7 5-1-5 15-1-2-1-1-4 19 0-5 0-3 2 5 0-6-3 15-3-2-5 20 1-3 0-1 1 1 0 0 0 2 1-1 1-6 0 3-4 10"/>
<path class="q1" d="M985 1792"/>
<path class="q2" d="M908 1782l19 3 2-3 9-6 9 11 22-4 51 15-32-10-3 11-4-7 40 9"/>
<path class="q3" d="M927 1770l-9 0-4 5 44 12 19 13"/>
<path class="q4" d="M914 1771l-14 2 30 10 10-1 6 4 39 10 40 6"/>
<path class="q5" d="M886 1696l14 72 90 22-3 6-15 5 26 2"/>
<path class="q6" d="M892 1705l8 67 28 5 13 5 1 1 49 12-8 1-33 0 58 5 9 0"/>
<path class="q7" d="M889 1702l-3-2 20 71 29 15 12-3"/>
<path class="q8" d="M886 1697l8 38"/>
<path class="q9" d="M895 1783l7-5 37 6 6 2"/>
<path class="q10" d="M897 1732l-19 53 13-8 9 19-12 7"/>
<path class="q11" d="M898 1717l1 19-7 27-12 21 67-6-56 17"/>
<path class="q12" d="M897 1721l-2 33 34 18-27 12-8 10-22 4-14 59-13 43"/>
<path class="q13" d="M895 1747l-3 24-8 3-4 10 28-3 35 7"/>
<path class="q14" d="M898 1714l29 59-28 4 38 4 26-1-66 39-35 12-6 31"/>
<path class="q15" d="M879 1776l9 2-28 75"/>
<path class="q16" d="M856 1865l-3 5"/>
<path class="q17" d="M893 1800l-38 53 3 2 1-5"/>
<path class="q0" d="M893 1693l-1 6 0 2-3-2-1 3-1-2 6 4 4 3 0 32 1-5-5 22 42 17-3 2-4-5-3 2-4-3 0-2-3 0-3 2-10 5-3-1-2-4-5 3-3-1-2-5-1 3-5 1-6 0-1-3-3 18 1 0 0 0 1-3 0-1 1-2 0 1 2-1 0 1 1-3 0 6 3-3 3-3 3 10 3-3 12-8 1 5 1 4 0-7 0-2 2 0 6 10 5-7 0-3 0 1 3 8 4-1 5-4 6-4 1 1 0 5 2 3 1-7 1 5 0-4 4 6 4-1 2-2 2-1 4 6 0-2 3-5 7 6 4 0 12 0 5 1 32 11-4 1-6-3-6 1-1-4-2 6-12-4-7 2-2-9-1 9-1-4-9-2-4 0-2 1-13 6-1 0-47-3 0 2-4-2 0 2-2-1-2-2 0 2-1 0-13-5-1 7 0-9-3 10-1-1-2-2-1-7-2 6-1 16 4-2 6 0 3 0 5-5 3-1 4 0 5-2 57 6 1-2 15 4 1-5 0 3 3-7 1 1 6 6 2 3 22-8 2 2 4-2 6 1 5-1 0 0-19 13-20-1-108 9-5-8-1 2 0-2-4-2-3 7 0-6 0 9-1 1 1 9 10-2-13 9-1 6-1-6-1 7 0-2-2-1 0 10 1 3 0-7 1 3 25 3-30 10-5 14 5-8-3 12-3 0 0 6-1 1-6 14 4-9-4 16-2-1"/>
<path class="q1" d="M1017 1797l8 4"/>
<path class="q2" d="M906 1779l28 5 1-8 1 6 83 16-5-2 7 8-35 8"/>
<path class="q3" d="M885 1707l21 63 15 8 41 8 3-3 37 11-14 0-6-4-16 13 23-3"/>
<path class="q4" d="M895 1736l20 32-13 7-4 2 51-1 59 18-10-2-7 3"/>
<path class="q5" d="M904 1775l-1-4 80 37"/>
<path class="q6" d="M927 1770l42 14 22 12-41-4 25 11"/>
<path class="q7" d="M884 1704l3 1 3 2 8 11 0 28 25 22-36 10 34 1 11 0 31 5 25 16"/>
<path class="q8" d="M888 1709l3-2-9 86"/>
<path class="q10" d="M876 1779l10 5 37-3-84 132"/>
<path class="q11" d="M892 1706l5 15-2 26-1 14 9 12-15-3-9-2-27 101"/>
<path class="q12" d="M897 1712l1 50 16 7-35 4 65 18-15 2-35 5-21-3-2 6 5 2 47-3-57 21"/>
<path class="q13" d="M893 1698l0-4 1 38 5 12 39 26-53 28"/>
<path class="q14" d="M895 1698l1 63-15 29-39 113"/>
<path class="q15" d="M898 1743l-9 34 27 11-34 11-4-9 10 10"/>
<path class="q16" d="M892 1798l-52 111"/>
<path class="q17" d="M854 1857"/>
<path class="q0" d="M892 1702l0-9 0 7-2-4 3 15 3-4 1 6-2 3-2 0-10 22 11 9-2 14 35 8-7 4-2-3-10-2-4 2-9-3-1 4 0-4-1 5-2-3 0 0 0-1-2-1-2 0-1 6-3-4-1-1-1 6-1-7-4 3-1 5 0 5 2 0 0 6 5 0 4-9 1 0 26 7 2-6 0 8 14-10 1 0 5 8 1 2 0-1 5-4 3 6 1-1 1 0 5 0 0-6 3 0 1 1 0 0 7 5 0-7 18 8 3-1 2-1 36 13-6 0-5-1-6-3-3 4-2-1-2-6 0 8-5-8-3-2-4 10-4-1-26-10-4 2-4 0-11 8-8-8-21 7-2-1 0 3-7-1-3 1-1-3-2 0-1-6-2 4-8-1-6-5 0 6-3 8 0 2 1 4 0 0 1-5 1 8 1-7 0 6 2-6 1-1 3 3 0 3 2-3 12-1 6-5 4 1 15 3 58-3 4 5 1-6 3 1 6 3 2-4 0 4 6-3 9 2 4-2 0 3 2-1-32 11-89-1-21-1-2 8 0-2-3-4-1 7-2-6-6 20 2-3 1 3 0-2 1-7 2 0 2-1 7 5-11 6-1 8-2-1-1 3-2-1-3 11 2-6 1 0 1 0-3 17-1 3-1-1-2-1-1 0-2 14 0 1 2-10 1 5-2 8-2 4-2 5-5 12 0-1 0-1 0-2 0 4 1-5 0 2 1-2 0 0 1-3-2 9-1 2-2 1-1 1"/>
<path class="q1" d="M932 1784l86 15-30-6-6 0-25-5"/>
<path class="q2" d="M923 1774l0-1 8 3 5 0 27 5 57 18-1-2-22-7-39 1 24 20"/>
<path class="q3" d="M905 1774l16 12 22-6 24 1 52 17-14 0-33-6 38 12"/>
<path class="q4" d="M949 1782l9 4 51 13-1-1-32-7-68 4 119 7"/>
<path class="q5" d="M912 1769l-13 10 8 3 84 10-17 5-6-5-3 3"/>
<path class="q6" d="M932 1785l15-4 54 13 11 6"/>
<path class="q7" d="M896 1723l5 53 36 0 20 10 1-1 1-7 0 13 44 10"/>
<path class="q8" d="M890 1699l7 64-17 8 11 15 56-7"/>
<path class="q9" d="M909 1784"/>
<path class="q10" d="M897 1723l39 62"/>
<path class="q11" d="M876 1780l7-3 48 2 2 16-40 2-5-3"/>
<path class="q12" d="M907 1774l-16-3 6 27-7-1-16-3 5 25"/>
<path class="q13" d="M894 1697l-3 2 25 66-37 20 67-4-67 9"/>
<path class="q14" d="M898 1760l2 7 30 21-37 7-26 21"/>
<path class="q15" d="M889 1787"/>
<path class="q16" d="M893 1794l-4 2-19 13-1 12-5 18-7 7"/>
<path class="q17" d="M882 1773"/>
<path class="q0" d="M894 1697l-2 1-1 4-1-2-1-7-2 10 0 3 5 5 2 3 0-9 1 33 3-10-19 25 18-1 52 23-8-2-2 1-3 0-14-2-1-2-7-1-4 5-1-1-2-1-5-2-6-4-1 5-2 3-3-3-2-5-1 4 0-6-1 3-2 6-4 0-1 1-4 5 1-2 2 7 1-5 0 2 4-4 1 0 1 4 0 5 4-5 4-5 12 10 4-1 6-4 2 3 13-1 8 0 1 1 1-4 3 2 10-3 1 7 0-6 2 7 0-9 1 2 0 1 3-1 8 4 1-3 5 5 4-2 8 3 32 10-2 1-3 0-2-2-6-2-3 5-1-1-6-4 0-4 0 6-6-4-2-3 0 3-1-3-3 7-14-1-6-2-5-2-6-3-2 2-7-1-21 2-14 4-3 3-4-3-4 0 0 1-6-2-10 5-1-11 0 5-5-4 0 10-1-1-4 1 0 3 1 7 0-8 1 7 0-5 1 4 4-4 1-1 0 0 0 3 2 5 6-6 3 1 15-4 10 7 41-6 22 0 2 1 1-2 21 3 0-3 1 4 5-2 4-2 2 3 1-1 1 0 1 1 4-3 0-1 6 2 1 0 0 1 0-1-37 10-109 7-11-5-1 7 0-4-1-4-1 9-1-9-5 20 0-4 2 3 0 3 0-1 10-5-10 12-2 3-6 13 4-9-2 15-5 4 0-6 0 8-3 13 1-9 3 4 0-1-3 10-4 6-1 3-4 12 1-4 3-6-4 14-1-1"/>
<path class="q1" d="M930 1769l59 29-16-8 18 15 33-5"/>
<path class="q2" d="M946 1783l0-4 3 8 21 0 11 0 15 8-38-3 25 14 1-3 24-2 0 3 14-3"/>
<path class="q3" d="M886 1701l14 14 25 62 3 9 4-7 1 8 17 0 1-6 51 15"/>
<path class="q4" d="M905 1774l-8 8 21 2 80 10-3-2-25 0-18-4 18 17 56-3"/>
<path class="q5" d="M925 1771l-3-2-7 17 35-4 1-1 7 3 45 9-9 1-9 6 21 4 20-2"/>
<path class="q6" d="M892 1704l26 68-1 11 42-5 3 4-53 7"/>
<path class="q7" d="M930 1773l-21 1-2-4-3 15 18-1 34 3 20 8-47 6 93 2"/>
<path class="q8" d="M895 1757l38 18-7-4-3 6 16 6-33 11"/>
<path class="q9" d="M939 1782"/>
<path class="q10" d="M892 1703l20 69 33 21"/>
<path class="q11" d="M898 1738l-22 28 15 31-27 44"/>
<path class="q12" d="M886 1783l-10 24-12 21"/>
<path class="q13" d="M863 1835"/>
<path class="q14" d="M889 1692l5 54"/>
<path class="q15" d="M887 1768l-3 5"/>
<path class="q16" d="M888 1797"/>
<path class="q17" d="M858 1857"/>
<path class="q0" d="M896 1701l-6 0-2 2-4-2 10 11 2 0 1 12-3 9 4-1 1 5-1 13-9 12 2 0 2 1 6-11 51 18-6 5-4-3-9 2-1 0-2-3-6 3-16-3 0-3-8 2-2-3-1-1-4 5-7-1-4 3-2 10 3 2 2-8 0 6 1-2 2-5 0 3 1-2 1 7 2-7 0 1 11 7 0 0 7-3 0-2 3 3 3 1 1 2 4-6 4-4 4 10 2-2 1-7 4 2 2 1 11 2 2 3 1-1 0 1 1 1 2-2 21 0 47 14-2-1-2 1-13 1-1-1-6-8-1 5-3-1-1-2-1-2-4 4-1 2-1-6-12-1-17 2-16-3-34 8-1-2-2 3 0 1-3 1 0-4-2 1-2 0 0-4 0-1 0 2-1 5 0-6-1 7-2-2 0 1-2 1-2-6-1 0-2 3-2-6-2 8-4-4-2 4-7 7 0 6 1-1 3-4 1 5 1-5 2 2 6 0 5 3 60-8 25 6 16-3 5-6 1 0 2 3 1 1 8-2 5 2 7-1 1-2 2 0 3 1 2 0-145 10-5 1-6 6-7 15 3-3 0-1 1-3 0-1 1 5 6-2 3-4-14 20 0-7 0 2-1 0-1 0-2 5-4 13 1 1 4-8 1-3 0 5 0-3 1 2-7 8-1 0-1 10-1 9 0 2 2-8-2 11-1 2-2 7-1-2-1 1-5 13 2-6 2 2 0-3 1-1-6 16-1 0-1-1"/>
<path class="q1" d="M922 1768"/>
<path class="q2" d="M926 1773l45 10 19 7-28 17 59-4 0-2"/>
<path class="q3" d="M925 1773l-32 13 25-10 17 8 20 2 37 3-29 2-26 4-4-6 66 13"/>
<path class="q4" d="M905 1782l12-6 54 10 46 11-5 0-48 4 4 1 13-2 10 9"/>
<path class="q5" d="M925 1776l28 10 3-3 60 16-12-2-25-3 28 9 1-2 12-1"/>
<path class="q6" d="M896 1702l-8 2 2 10 18 56 9 15 2-5 81 17-37-4 34 10 7 3 6-3"/>
<path class="q7" d="M919 1768l32 26"/>
<path class="q8" d="M889 1704l7 7 25 62"/>
<path class="q9" d="M892 1694"/>
<path class="q10" d="M901 1783l51 4-34 10-51 33"/>
<path class="q11" d="M894 1694l26 78-10 2-9-5-1 17"/>
<path class="q12" d="M895 1787l19-8 0 28-52 17"/>
<path class="q13" d="M895 1739l1 16 50 25 0-2-42 15-27 8-19 44"/>
<path class="q14" d="M891 1692l0 79-10 2 2 6 4 18-24 29"/>
<path class="q15" d="M896 1715l-25 90 0 12-19 46 0 2-2 4-2 16"/>
<path class="q16" d="M887 1766l-1 31-34 64-13 51"/>
<defs><linearGradient id="cb1" x1="0" y1="1" x2="0" y2="0"><stop offset="0.0" stop-color="#000004"/><stop offset="0.1" stop-color="#140e36"/><stop offset="0.2" stop-color="#3b0f70"/><stop offset="0.3" stop-color="#641a80"/><stop offset="0.4" stop-color="#8c2981"/><stop offset="0.5" stop-color="#b73779"/><stop offset="0.6" stop-color="#de4968"/><stop offset="0.7" stop-color="#f7705c"/><stop offset="0.8" stop-color="#fe9f6d"/><stop offset="0.9" stop-color="#fecf92"/><stop offset="1.0" stop-color="#fcfdbf"/></linearGradient></defs>
<rect x="761.6" y="1503.8" width="28.1" height="143.5" fill="url(#cb1)"/>
<text x="798.2" y="1652.5" font-size="15">0</text>
<line x1="761.6" y1="1620.4" x2="767.1" y2="1620.4" stroke="#fff" stroke-width="1.4"/>
<line x1="784.2" y1="1620.4" x2="789.7" y2="1620.4" stroke="#fff" stroke-width="1.4"/>
<text x="798.2" y="1625.6" font-size="15">1</text>
<line x1="761.6" y1="1593.6" x2="767.1" y2="1593.6" stroke="#fff" stroke-width="1.4"/>
<line x1="784.2" y1="1593.6" x2="789.7" y2="1593.6" stroke="#fff" stroke-width="1.4"/>
<text x="798.2" y="1598.8" font-size="15">2</text>
<line x1="761.6" y1="1566.7" x2="767.1" y2="1566.7" stroke="#fff" stroke-width="1.4"/>
<line x1="784.2" y1="1566.7" x2="789.7" y2="1566.7" stroke="#fff" stroke-width="1.4"/>
<text x="798.2" y="1571.9" font-size="15">3</text>
<line x1="761.6" y1="1539.8" x2="767.1" y2="1539.8" stroke="#fff" stroke-width="1.4"/>
<line x1="784.2" y1="1539.8" x2="789.7" y2="1539.8" stroke="#fff" stroke-width="1.4"/>
<text x="798.2" y="1545" font-size="15">4</text>
<line x1="761.6" y1="1512.9" x2="767.1" y2="1512.9" stroke="#fff" stroke-width="1.4"/>
<line x1="784.2" y1="1512.9" x2="789.7" y2="1512.9" stroke="#fff" stroke-width="1.4"/>
<text x="798.2" y="1518.1" font-size="15">5</text>
<text x="775" y="1476.3" font-size="17.5" letter-spacing="-0.4" text-anchor="middle">AP2G</text>
<text x="775" y="1498" font-size="17.5" letter-spacing="-0.4" text-anchor="middle">UMI</text>
<defs><linearGradient id="cb2" x1="0" y1="1" x2="0" y2="0"><stop offset="0.0" stop-color="#000004"/><stop offset="0.1" stop-color="#140e36"/><stop offset="0.2" stop-color="#3b0f70"/><stop offset="0.3" stop-color="#641a80"/><stop offset="0.4" stop-color="#8c2981"/><stop offset="0.5" stop-color="#b73779"/><stop offset="0.6" stop-color="#de4968"/><stop offset="0.7" stop-color="#f7705c"/><stop offset="0.8" stop-color="#fe9f6d"/><stop offset="0.9" stop-color="#fecf92"/><stop offset="1.0" stop-color="#fcfdbf"/></linearGradient></defs>
<rect x="1059.9" y="1508.4" width="28.9" height="143.9" fill="url(#cb2)"/>
<text x="1097.3" y="1657.5" font-size="15">0</text>
<line x1="1059.9" y1="1611.8" x2="1065.4" y2="1611.8" stroke="#fff" stroke-width="1.4"/>
<line x1="1083.3" y1="1611.8" x2="1088.8" y2="1611.8" stroke="#fff" stroke-width="1.4"/>
<text x="1097.3" y="1617" font-size="15">1</text>
<line x1="1059.9" y1="1571.2" x2="1065.4" y2="1571.2" stroke="#fff" stroke-width="1.4"/>
<line x1="1083.3" y1="1571.2" x2="1088.8" y2="1571.2" stroke="#fff" stroke-width="1.4"/>
<text x="1097.3" y="1576.4" font-size="15">2</text>
<line x1="1059.9" y1="1530.7" x2="1065.4" y2="1530.7" stroke="#fff" stroke-width="1.4"/>
<line x1="1083.3" y1="1530.7" x2="1088.8" y2="1530.7" stroke="#fff" stroke-width="1.4"/>
<text x="1097.3" y="1535.9" font-size="15">3</text>
<text x="1076" y="1471.5" font-size="17.5" letter-spacing="-0.4" text-anchor="middle">GEXP05</text>
<text x="1076" y="1493.5" font-size="17.5" letter-spacing="-0.4" text-anchor="middle">UMI</text>
<defs><linearGradient id="cb3" x1="0" y1="1" x2="0" y2="0"><stop offset="0.0" stop-color="#000004"/><stop offset="0.1" stop-color="#140e36"/><stop offset="0.2" stop-color="#3b0f70"/><stop offset="0.3" stop-color="#641a80"/><stop offset="0.4" stop-color="#8c2981"/><stop offset="0.5" stop-color="#b73779"/><stop offset="0.6" stop-color="#de4968"/><stop offset="0.7" stop-color="#f7705c"/><stop offset="0.8" stop-color="#fe9f6d"/><stop offset="0.9" stop-color="#fecf92"/><stop offset="1.0" stop-color="#fcfdbf"/></linearGradient></defs>
<rect x="762" y="1739.3" width="28.5" height="141.7" fill="url(#cb3)"/>
<text x="799" y="1886.2" font-size="15">0</text>
<line x1="762" y1="1838.4" x2="767.5" y2="1838.4" stroke="#fff" stroke-width="1.4"/>
<line x1="785" y1="1838.4" x2="790.5" y2="1838.4" stroke="#fff" stroke-width="1.4"/>
<text x="799" y="1843.6" font-size="15">2</text>
<line x1="762" y1="1795.8" x2="767.5" y2="1795.8" stroke="#fff" stroke-width="1.4"/>
<line x1="785" y1="1795.8" x2="790.5" y2="1795.8" stroke="#fff" stroke-width="1.4"/>
<text x="799" y="1801" font-size="15">4</text>
<line x1="762" y1="1753.2" x2="767.5" y2="1753.2" stroke="#fff" stroke-width="1.4"/>
<line x1="785" y1="1753.2" x2="790.5" y2="1753.2" stroke="#fff" stroke-width="1.4"/>
<text x="799" y="1758.4" font-size="15">6</text>
<text x="774" y="1704.5" font-size="17.5" letter-spacing="-0.4" text-anchor="middle">Pfs16</text>
<text x="774" y="1726" font-size="17.5" letter-spacing="-0.4" text-anchor="middle">UMI</text>
<defs><linearGradient id="cb4" x1="0" y1="1" x2="0" y2="0"><stop offset="0.0" stop-color="#000004"/><stop offset="0.1" stop-color="#140e36"/><stop offset="0.2" stop-color="#3b0f70"/><stop offset="0.3" stop-color="#641a80"/><stop offset="0.4" stop-color="#8c2981"/><stop offset="0.5" stop-color="#b73779"/><stop offset="0.6" stop-color="#de4968"/><stop offset="0.7" stop-color="#f7705c"/><stop offset="0.8" stop-color="#fe9f6d"/><stop offset="0.9" stop-color="#fecf92"/><stop offset="1.0" stop-color="#fcfdbf"/></linearGradient></defs>
<rect x="1062.2" y="1750.7" width="28.5" height="142.5" fill="url(#cb4)"/>
<text x="1099.2" y="1898.4" font-size="15">0</text>
<line x1="1062.2" y1="1853.8" x2="1067.7" y2="1853.8" stroke="#fff" stroke-width="1.4"/>
<line x1="1085.2" y1="1853.8" x2="1090.7" y2="1853.8" stroke="#fff" stroke-width="1.4"/>
<text x="1099.2" y="1859" font-size="15">1</text>
<line x1="1062.2" y1="1814.5" x2="1067.7" y2="1814.5" stroke="#fff" stroke-width="1.4"/>
<line x1="1085.2" y1="1814.5" x2="1090.7" y2="1814.5" stroke="#fff" stroke-width="1.4"/>
<text x="1099.2" y="1819.7" font-size="15">2</text>
<line x1="1062.2" y1="1775.1" x2="1067.7" y2="1775.1" stroke="#fff" stroke-width="1.4"/>
<line x1="1085.2" y1="1775.1" x2="1090.7" y2="1775.1" stroke="#fff" stroke-width="1.4"/>
<text x="1099.2" y="1780.3" font-size="15">3</text>
<text x="1074" y="1722.8" font-size="17.5" letter-spacing="-0.4" text-anchor="middle">GECO</text>
<text x="1074" y="1744" font-size="17.5" letter-spacing="-0.4" text-anchor="middle">UMI</text>
<text x="1141" y="1438" font-size="61" font-weight="bold">i</text>
<path d="M1520 1481h0m-34 38h0m-132 15h0m-3 1h0m-1 9h0m79 79h0m-36 22h0m-11 10h0m-16 26h0" stroke="#c9d2c6" stroke-width="10.4" stroke-linecap="round" stroke-opacity="0.75"/>
<path d="M1518 1502h0m-34 1h0m-109 11h0m126 14h0m-97 120h0m-32 4h0m-6 12h0m24 1h0" stroke="#c9d2c6" stroke-width="10.4" stroke-linecap="round" stroke-opacity="0.75"/>
<path d="M1505 1486h0m-3 1h0m-18-2h0m-29 11h0m4 3h0m17-11h0m3 6h0m22 10h0m-30-2h0m-2-2h0m-61 4h0m-18 7h0m-10 18h0m-11 6h0m50 15h0m-54 103h0m-7 35h0m-3 14h0m-7 1h0m-9 7h0" stroke="#9fb8a2" stroke-width="10.4" stroke-linecap="round" stroke-opacity="0.55"/>
<path d="M1511 1485h0m-34 2h0m-24 11h0m54 3h0m-3-1h0m-7 1h0m-28 10h0m-73-3h0m-23 15h0m87-5h0m2 2h0m-9 8h0m-85 1h0m51 28h0m-26 37h0m-35 69h0m-5 25h0m2 3h0m5 4h0" stroke="#9fb8a2" stroke-width="10.4" stroke-linecap="round" stroke-opacity="0.55"/>
<path d="M1423 1504h0m-6-1h0m-1 9h0m11 8h0m-16 6h0m-7 2h0m-15 6h0m-8-3h0m10 14h0m16 1h0m10-8h0m2 6h0m6-3h0m-27 10h0m-5 6h0m-1 2h0m-2-9h0m-7 9h0m-2-6h0m-1 1h0m-1-4h0m-1 7h0m-5-8h0m-3 4h0m0-4h0m-4 22h0m0-11h0m1 1h0m2 6h0m1 1h0m1-6h0m3 9h0m0-5h0m1 1h0m1-7h0m1 7h0m2 0h0m2 1h0m2-4h0m1-4h0m13 9h0m-11 11h0m-2 3h0m-1-7h0m0 1h0m-1 6h0m-1 0h0m0-4h0m-3-7h0m-4 1h0m0 8h0m-1-9h0m-4 0h0m0 6h0m-1-3h0m0 6h0m-2-7h0m0 8h0m-2-5h0m-1 3h0m-1-1h0m-1-3h0m0 2h0m-1-2h0m-2 7h0m-1-5h0m-2-4h0m-1 4h0m-1 4h0m-3-5h0m-2 7h0m6 9h0m1 1h0m1-7h0m1 1h0m1-2h0m0 1h0m2 2h0m1-4h0m0 9h0m1-4h0m2-5h0m2 8h0m1-3h0m2 3h0m1-7h0m4-2h0m1 11h0m3 0h0m2-7h0m-5 15h0m-2-7h0m-1 0h0m-1 8h0m0 2h0m-2-5h0m0-2h0m0-1h0m-1 5h0m-2 2h0m-2-2h0m0 4h0m-2-3h0m-1 0h0m0-4h0m0 1h0m-1-3h0m-1 2h0m0 6h0m0-3h0m-2 4h0m0-7h0m-1-4h0m-1 0h0m0 9h0m0-1h0m-2 3h0m-9-2h0m-2-7h0m3 15h0m0 0h0m1 1h0m1 5h0m0-4h0m2 2h0m0 1h0m1-2h0m1-5h0m1 4h0m0 1h0m0-2h0m0 5h0m1-3h0m2 1h0m1-6h0m2 4h0m0-4h0m1 3h0m3 3h0m9-2h0m-5 7h0m-1-2h0m-7 1h0m-1 2h0m-1-2h0m-1-1h0m0 10h0m-1 0h0m-1-7h0m0-3h0m-3 11h0m0-5h0m-2-4h0m-1 7h0m-8 2h0m-4-11h0m-4 13h0m5 5h0m4 5h0m0-2h0m1-9h0m0 5h0m2 3h0m1-4h0m0-4h0m2 9h0m0-1h0m1-4h0m2 7h0m1-10h0m0 5h0m0 4h0m1-1h0m3-5h0m0 1h0m1-3h0m-2 20h0m-2-10h0m0 1h0m-4 9h0m0-1h0m0-7h0m-1 9h0m-2-3h0m-1 2h0m0-3h0m-1-3h0m-1-2h0m-1 1h0m0 0h0m-1 5h0m-1 2h0m0-1h0m-4-5h0m0-3h0m-1 3h0m-3 7h0m-5 7h0m4 0h0m0 2h0m0-3h0m3 0h0m1 3h0m0-1h0m0 2h0m0-8h0m2 1h0m0 6h0m0-6h0m2 6h0m1 2h0m1-7h0m0-3h0m4 7h0m1-1h0m2-3h0m0 5h0m-8 9h0m-1 3h0m0-8h0m-1 2h0m-2 0h0m0 0h0m0-2h0m0 3h0m-1-3h0m-1 4h0m0 7h0m-1-1h0m0 0h0m-1-2h0m-1-4h0m0 1h0m-1 1h0m-1 5h0m-1-1h0m0-2h0m-1 0h0m-4 8h0m0-3h0m1 9h0m1-5h0m1 1h0m0-1h0m0 4h0m1 0h0m0-1h0m0-8h0m2 8h0m0-7h0m0-1h0m1 4h0m0 3h0m0-1h0m1 4h0m0-4h0m0 5h0m1 0h0m2-3h0m15 5h0m-15 6h0m0 4h0m-2-11h0m-4 6h0m-1-2h0m0-4h0m-1 11h0m-1 0h0m0 0h0m0-3h0m-1-3h0m0-1h0m0 7h0m0-10h0m-1 6h0m0 0h0m0 0h0m0 3h0m-1-7h0m0 6h0m-1 0h0m-1 2h0m-4 8h0m1 3h0m0-3h0m1-1h0m0-4h0m1-1h0m0 6h0m0 4h0m1-3h0m1 0h0m0 1h0m2 1h0m1 1h0m0-7h0m1 2h0m1-3h0m0-1h0m1 3h0m1-5h0m-7 12h0m0 2h0m-2 0h0m0 4h0m0-1h0m0-5h0m-2 6h0m0-3h0m0-1h0m0 3h0m-1 5h0m0-9h0m0 7h0m0-5h0m0 8h0m-1-6h0m0 2h0m-1-2h0m0 3h0m0 3h0m0 0h0m-1-2h0m0 1h0m0-6h0m-1 6h0m-2 10h0m1 2h0m1 0h0m0-3h0m0-7h0m0 3h0m0 4h0m0-3h0m0-3h0m0 5h0m1-3h0m1 7h0m0-5h0m0 4h0m0-4h0m0 4h0m0 0h0m1-2h0m0-6h0m0-1h0m0 3h0m0 1h0m2-2h0m-4 10h0m0 9h0m-1-6h0m0-3h0m0 0h0m0 3h0m-1 1h0m0-3h0m0 3h0m0-2h0m-1 8h0m0-10h0m0 4h0m0 0h0m0 3h0m0-7h0m-1 8h0m0-5h0m0 6h0m0-1h0m0-1h0m0-1h0m-1-4h0m0 7h0m0-7h0m-3 21h0m0-2h0m0 2h0m1-1h0m0 0h0m0-2h0m0-2h0m0 0h0m0 0h0m1 2h0m0-6h0m0 1h0m0 8h0m0-4h0m0-2h0m0 3h0m1-3h0m0 1h0m0 4h0m0-4h0m1-6h0m0 1h0m0 1h0m0 1h0m1-2h0m0 0h0m0 1h0m1 3h0m0 1h0m0-5h0m1-1h0m0 0h0m-5 12h0m-1 6h0m0-3h0m0 0h0m0-1h0m0-2h0m0 6h0m0 0h0m0-5h0m0 4h0m-1 2h0m0 3h0m0 0h0m0-3h0m0-1h0m0 4h0m0 0h0m0-8h0m0 2h0m0 6h0m-1 1h0m0-2h0m0 1h0m0-1h0m0-3h0m-1-3h0m0 8h0m-3 9h0m1 3h0m0-2h0m0 1h0m0 1h0m1-6h0m0 1h0m0-2h0m0 2h0m0-1h0m1-5h0m0 4h0m0-2h0m0 5h0m0-5h0m0 2h0m0 4h0m0-7h0m0 3h0m1-4h0m0 1h0m1 1h0m-4 12h0m0-2h0m0 2h0m0 0h0m0-1h0m-1 1h0m0 1h0m0 5h0m0-4h0m0-2h0m0 2h0m0 2h0m0 1h0m0-3h0m0 3h0m0-3h0m0-3h0m0 3h0m-1 2h0m0 4h0m0 1h0m0-4h0m0 4h0m0-2h0m0 0h0m0-3h0m0 3h0m0 2h0m0-2h0m0-2h0m0 6h0m0 2h0m0-3h0m0 1h0m0-1h0m0 0h0m0 0h0m0 0h0m0 0h0m0 1h0m0-1h0" stroke="#138a42" stroke-width="10.4" stroke-linecap="round" stroke-opacity="0.3"/>
<path d="M1409 1513h0m-16 17h0m-33 14h0m12-1h0m1 4h0m7 0h0m1-10h0m12 7h0m8-3h0m13-2h0m-15 14h0m-6-1h0m-7 1h0m-2 6h0m-2-5h0m-1 4h0m-2-10h0m-1 11h0m-1-2h0m-6 0h0m-13 9h0m1 3h0m5-4h0m4 6h0m1 0h0m6-1h0m1-3h0m0 2h0m1-4h0m1 2h0m2 3h0m2 0h0m7 0h0m2-10h0m0 9h0m1-6h0m13 8h0m-9 9h0m-6-3h0m-5-5h0m-5 7h0m-3-1h0m-1 0h0m-1-3h0m0 4h0m-1-5h0m-1 9h0m0-1h0m-2-7h0m0 3h0m-1-3h0m-2 0h0m0 4h0m0 0h0m-1 4h0m0-3h0m-2 2h0m0-10h0m-1 7h0m0 4h0m0 0h0m-1 0h0m-1 0h0m-3-7h0m-2-1h0m-10 14h0m1 4h0m8-7h0m1 9h0m0-3h0m4 3h0m0-2h0m0-9h0m1 6h0m1-1h0m1 3h0m1-7h0m1-1h0m0 0h0m1 2h0m0 6h0m2-8h0m0 9h0m1-3h0m1-2h0m1-4h0m4 11h0m6-8h0m2-1h0m0 17h0m-6-5h0m-2 2h0m0 4h0m-2 3h0m-4-6h0m-2-2h0m0 6h0m-1-1h0m0 1h0m-2-7h0m0 5h0m-1-1h0m-1 1h0m-2-3h0m0 3h0m0 4h0m-2-8h0m0 0h0m-2 1h0m0-1h0m-1 2h0m-2 2h0m-1 0h0m-2 0h0m0 2h0m-2-7h0m0 9h0m-9 11h0m1-8h0m1 2h0m1 4h0m1-3h0m3-1h0m2 2h0m0-5h0m0 5h0m1 3h0m5-4h0m2-5h0m2 1h0m0 2h0m1-2h0m0 1h0m4-2h0m1 7h0m0-7h0m1 4h0m0-1h0m7 2h0m-12 8h0m-2 0h0m-1 8h0m-1-3h0m-1 2h0m-2-5h0m0 0h0m0 8h0m0-9h0m-2 7h0m-1 2h0m-1-8h0m0 8h0m-2-10h0m-1 2h0m-1 1h0m-2 4h0m0-5h0m0 4h0m-1 1h0m-2-1h0m-1-7h0m0 4h0m-2 5h0m-3 13h0m1-9h0m1 5h0m3-2h0m1-3h0m1 5h0m2-3h0m1 4h0m1-1h0m1 1h0m0 3h0m1 1h0m0-4h0m1-5h0m0 3h0m1-3h0m0 0h0m0 4h0m2-2h0m1-2h0m0 1h0m3 6h0m3 1h0m2 1h0m2-5h0m-12 14h0m-3-4h0m0 5h0m-1 1h0m-1-2h0m-2-3h0m0 6h0m-2-9h0m0-2h0m0 6h0m0 4h0m-1-9h0m0 1h0m-1-1h0m-1 9h0m0-10h0m0 7h0m0-1h0m0-3h0m-1-2h0m0 4h0m-1 0h0m-3-3h0m-2 19h0m2-2h0m1 3h0m0-8h0m0 1h0m1 5h0m2 1h0m0-8h0m1 7h0m1-3h0m0 1h0m0 4h0m4-9h0m1 1h0m0 2h0m3 1h0m-8 14h0m-1-7h0m0 8h0m-1-7h0m0 1h0m0 2h0m-1 5h0m-2-4h0m-1-1h0m0 7h0m0-8h0m0 3h0m-2-6h0m-2 11h0m0-9h0m0 8h0m-1-8h0m0 1h0m-1 2h0m0-1h0m-1 7h0m-1-10h0m-5 10h0m0 6h0m3 0h0m0 2h0m1-1h0m0-1h0m0-1h0m1 5h0m0 0h0m1-1h0m0-2h0m0 2h0m0-4h0m0-2h0m1 3h0m1 0h0m0 4h0m0-7h0m0 7h0m0-9h0m1 1h0m3 2h0m2 0h0m1 5h0m3 1h0m-10 5h0m-1 1h0m0-3h0m-1 0h0m0 0h0m-1 3h0m-1 6h0m0-4h0m-1 5h0m0-4h0m0-2h0m0-2h0m0 7h0m0-8h0m-1 5h0m0 2h0m-1-3h0m0-4h0m0 9h0m-1-7h0m0 4h0m0 2h0m0 2h0m-1-8h0m-1 3h0m0 2h0m0 1h0m-2-3h0m-1 2h0m-3 4h0m1 2h0m1 7h0m0-4h0m1 5h0m1-3h0m0 3h0m0-3h0m0-4h0m1 5h0m0-6h0m0 4h0m0 3h0m0-4h0m1 3h0m0 2h0m0-6h0m1 5h0m0-8h0m0 2h0m2-1h0m1-2h0m0 0h0m1 6h0m-5 17h0m-1-11h0m0 0h0m0 2h0m-1 9h0m-1-8h0m0 3h0m0-5h0m-1 10h0m-2-4h0m0 4h0m0-9h0m0-1h0m0 9h0m0-9h0m-1 6h0m0 3h0m0 1h0m0-3h0m-1 1h0m0-3h0m0 3h0m-1-4h0m-2 6h0m-1 3h0m1 2h0m0 1h0m1-1h0m0 2h0m0 4h0m1-10h0m0 9h0m0-6h0m0 0h0m1 2h0m0 2h0m0-6h0m0 8h0m0 1h0m1-7h0m0-3h0m1 7h0m0 4h0m0 0h0m1-3h0m0-6h0m4 3h0m-4 7h0m-2 0h0m-1 6h0m-1 3h0m0-1h0m0 1h0m0-2h0m0-4h0m-1-2h0m0 0h0m0 5h0m0-3h0m0-3h0m0 2h0m-1 7h0m0-7h0m-1 7h0m0-4h0m0 5h0m0-6h0m0-2h0m-1 1h0m0 2h0m-1 5h0m0 0h0m-2 12h0m0-1h0m1 1h0m1 0h0m0-6h0m0 5h0m0-2h0m0 0h0m0 1h0m0-3h0m0 2h0m1-6h0m0 8h0m0-3h0m0 4h0m0-7h0m0 4h0m0-3h0m1-3h0m0 0h0m0 1h0m1 1h0m0-3h0m0 1h0m1 1h0m0-2h0m-5 16h0m0 1h0m-1 1h0m0 2h0m0-3h0m0-2h0m0 1h0m0-2h0m-1 4h0m0-5h0m0 4h0m0 0h0m0 1h0m-1 5h0m0-2h0m0 1h0m-2 13h0m0 0h0m0 0h0m0 0h0m0 0h0m0-2h0m1-4h0m0-2h0m0 4h0m0 3h0m0-2h0m0 3h0m0 0h0m0-6h0m0-2h0m1 1h0m0-1h0m0 0h0m0-3h0m0 5h0m0-1h0m0-1h0m0-3h0m1 0h0m-3 12h0m0 2h0m0-2h0m0 2h0m0 0h0m0-1h0m-1 0h0m0 6h0m0-4h0m0 1h0m0 2h0m0 2h0m0-5h0m0 5h0m0 1h0m-1-1h0m0 2h0m0-1h0m0 1h0m0-1h0m0 2h0m0 2h0m0 2h0m0-2h0m0 1h0m0 0h0m0-2h0m0 1h0m0 0h0m0 0h0m0 1h0" stroke="#138a42" stroke-width="10.4" stroke-linecap="round" stroke-opacity="0.3"/>
<path d="M1425 1506h0m-39 17h0m39-7h0m-19 10h0m-1-1h0m-13 1h0m-6 2h0m4 9h0m10 9h0m2-9h0m19 5h0m-15 9h0m-8 2h0m-6-5h0m-3 0h0m-1 11h0m-4-6h0m0 3h0m-2-1h0m0-7h0m-1 11h0m-1-4h0m-1 3h0m-1-7h0m0 5h0m-5 2h0m-3-2h0m-19 9h0m6 5h0m0-4h0m7 2h0m4-6h0m0 5h0m2-5h0m2 8h0m3 1h0m3-4h0m1 4h0m1-1h0m0-1h0m3-6h0m1 6h0m1-3h0m12-4h0m-3 11h0m-12 5h0m0-5h0m-1 4h0m0-2h0m-1-1h0m-1 7h0m-4-3h0m-1-3h0m-2-2h0m0 1h0m-2-2h0m0 8h0m-2 0h0m0-4h0m0 4h0m0-6h0m-1 8h0m-1-2h0m0-1h0m-1-1h0m0 4h0m-3 0h0m-1-5h0m-3 1h0m-1 1h0m-2 3h0m-3 12h0m1-9h0m0 4h0m2 4h0m1-8h0m3 7h0m1-7h0m0 1h0m3 9h0m0-8h0m1 3h0m0 2h0m0-2h0m1 4h0m0-7h0m2 6h0m2 2h0m2-1h0m2-1h0m1-1h0m4-5h0m3 6h0m-1 9h0m-4 1h0m0-2h0m-2 2h0m-1-6h0m-1 6h0m-1-1h0m0 5h0m-2-10h0m0 2h0m-3 7h0m-1-1h0m0-2h0m-1-7h0m-2 5h0m-2 1h0m-2 1h0m-1-5h0m-1 0h0m0 3h0m-3-5h0m-1 3h0m-2 0h0m0 0h0m0 7h0m-1-5h0m0 6h0m0 0h0m-4-3h0m0 10h0m3-2h0m1-1h0m1-3h0m1 0h0m0 7h0m0 4h0m0-7h0m2-2h0m2 0h0m0-2h0m1 5h0m1-3h0m1-2h0m0 2h0m0 0h0m1 9h0m0-9h0m0 8h0m2-1h0m0 0h0m5-4h0m2-5h0m0 7h0m1 2h0m5 10h0m-9-4h0m-1 3h0m-2 1h0m-5-5h0m-2 3h0m0-4h0m0 2h0m-1 8h0m-1-5h0m-2-1h0m-2-2h0m-1 0h0m0 3h0m-1 1h0m-1 1h0m-2 0h0m0-4h0m-2 5h0m-2 0h0m-1 0h0m-5 5h0m5 1h0m1 3h0m0 2h0m2 1h0m1-5h0m0-2h0m0 2h0m0-2h0m2 3h0m1-3h0m1 1h0m0 0h0m1 1h0m0-4h0m0 11h0m0-10h0m0 8h0m3 0h0m0-5h0m0 0h0m0-4h0m2 5h0m1 4h0m0-5h0m0-2h0m4 14h0m-4-1h0m-4 1h0m-1 1h0m-2 3h0m0 1h0m0-1h0m0 3h0m0-2h0m-1-1h0m-1 0h0m-1 1h0m0 2h0m0-11h0m-1 5h0m0 4h0m-1-2h0m0-2h0m-1-5h0m0 11h0m-1-6h0m0 4h0m-1-4h0m0-1h0m-2 7h0m0-8h0m0 2h0m-1 2h0m-1 2h0m-1-1h0m-4 7h0m1-3h0m0 4h0m0 7h0m0-9h0m1-1h0m2 2h0m0 3h0m1 0h0m0 2h0m2-4h0m0 4h0m1-6h0m0-1h0m1 9h0m0-2h0m0 2h0m1-10h0m1 6h0m1 0h0m1-2h0m0-4h0m3 2h0m2 5h0m-4 13h0m-4-5h0m-1-1h0m-1 2h0m-1-4h0m-1 10h0m0-3h0m-2-4h0m-1 0h0m-1-1h0m-1-2h0m-1 3h0m-1 8h0m-1-4h0m-2 3h0m-1-1h0m-1-5h0m0 1h0m-1 2h0m0 2h0m-4 1h0m1 6h0m1 7h0m3-11h0m0 9h0m1-1h0m1 0h0m0 1h0m1-9h0m1 3h0m0 7h0m2-4h0m0-6h0m1 3h0m2 7h0m0-6h0m1 7h0m1-11h0m1 7h0m-5 15h0m0-3h0m-2-6h0m-2 4h0m0 0h0m0 1h0m-1-6h0m0 6h0m0-3h0m0-1h0m-1 6h0m-1-2h0m0 2h0m0-2h0m0-5h0m0 8h0m-2-4h0m0 0h0m-1 4h0m-1 2h0m-1-1h0m0 1h0m0-5h0m-4 3h0m0 2h0m-1 0h0m1 7h0m1 2h0m0-1h0m1 2h0m0 1h0m0-8h0m1 1h0m0 6h0m1-4h0m0-4h0m0 3h0m1-1h0m0-3h0m0 2h0m1-1h0m0 4h0m1-2h0m0-2h0m0 2h0m2 3h0m-2 7h0m-3-1h0m-2 4h0m0-3h0m-1 5h0m0-2h0m-1 4h0m0-4h0m0 1h0m0-4h0m0 1h0m-1 2h0m0 2h0m0-4h0m0 6h0m0-5h0m-1 8h0m0-6h0m0 2h0m0-1h0m0-3h0m0 3h0m-1 2h0m-1 3h0m-2-1h0m-2 13h0m3-11h0m0 2h0m0 4h0m0 1h0m1-1h0m0-5h0m0 7h0m0-7h0m1 5h0m0-1h0m0-4h0m0 10h0m0-9h0m1-2h0m0 4h0m1-4h0m0 2h0m0-2h0m1 0h0m0 7h0m1-5h0m0-2h0m-4 12h0m-1 4h0m0-2h0m-1 4h0m0-2h0m-1 3h0m0 2h0m-1-6h0m0 1h0m0 0h0m0 1h0m0-2h0m0 7h0m0 0h0m-1-7h0m0 6h0m0 1h0m-1 1h0m-3 12h0m0-3h0m0-2h0m1 5h0m0 0h0m0-3h0m0 2h0m0-10h0m0 10h0m0 0h0m1-3h0m0-7h0m0 5h0m1 2h0m0-7h0m0 9h0m0 1h0m1-4h0m1-4h0m0 4h0m1-3h0m1-1h0m-6 16h0m0-4h0m0 1h0m-1 8h0m0-3h0m0-1h0m0 2h0m0-1h0m0 1h0m-1-8h0m0 6h0m0 4h0m0-6h0m0 4h0m0-1h0m-1 3h0m0-2h0m0-2h0m0 2h0m-2 14h0m0-1h0m0 0h0m0-2h0m0 0h0m1-7h0m0 3h0m0 7h0m0-4h0m0-1h0m0-3h0m0 6h0m0-4h0m0-4h0m0 5h0m1-2h0m0-1h0m0-1h0m1-2h0m0 0h0m0 3h0m-2 10h0m-1-1h0m0 2h0m0-1h0m0 0h0m-1 6h0m0 1h0m0-3h0m0 1h0m0-1h0m0-1h0m0 3h0m0 1h0m0-4h0m0-1h0m0 5h0m-1 2h0m0 1h0m0-2h0m0 0h0m0 2h0m0-3h0m0-1h0m0 2h0m0-1h0m0 2h0m0 5h0m0-2h0m0 0h0m0 0h0m0 2h0m0-1h0m0-2h0m0 1h0m0 1h0" stroke="#138a42" stroke-width="10.4" stroke-linecap="round" stroke-opacity="0.3"/>
<path d="M1452 1510h0m-4-3h0m-28-6h0m-24 17h0m16-6h0m10 8h0m7-7h0m10 6h0m-20 10h0m-25-3h0m-13 15h0m8-5h0m2 0h0m0 4h0m0 1h0m1-1h0m1 7h0m0-9h0m4 0h0m1 6h0m8 1h0m-19 8h0m-7-2h0m-3 1h0m-3 2h0m-6 1h0m-2 3h0m-1-8h0m-1 3h0m1 8h0m1 3h0m1-3h0m1 7h0m3 3h0m2-4h0m0-3h0m3 2h0m1-2h0m0 4h0m1 1h0m1-5h0m1-2h0m7-2h0m1 2h0m0 9h0m9-2h0m1-2h0m7-4h0m-18 10h0m-1 0h0m-1 10h0m-5-11h0m-2 0h0m0 9h0m0-5h0m-1-4h0m-4 2h0m-4 0h0m-3 7h0m0-2h0m-1 3h0m-1-4h0m-1-4h0m-1 8h0m-1-4h0m-1 4h0m0-6h0m0-4h0m-1 9h0m-1-1h0m-4 14h0m0 0h0m6-3h0m1 0h0m1 1h0m2 2h0m3-2h0m0-7h0m1 5h0m0-3h0m1-2h0m1 8h0m0-2h0m0 0h0m1 3h0m1 0h0m0-9h0m3 1h0m0 7h0m1-1h0m0 0h0m2-2h0m6 11h0m-5 2h0m-6-5h0m-3 3h0m0-5h0m-3 9h0m-1-8h0m-2 7h0m-1 0h0m-2-7h0m-1 7h0m0-6h0m0-1h0m-1 5h0m0-6h0m-1 10h0m-1-3h0m0 2h0m0 1h0m-3-10h0m-1 10h0m0 1h0m0-9h0m-2 3h0m0 3h0m0 0h0m-1-1h0m-9 9h0m1-4h0m4 10h0m0-3h0m1-4h0m1 3h0m0 5h0m3-3h0m0-3h0m0-1h0m1-1h0m0 3h0m3-2h0m2 2h0m3-3h0m1 0h0m1 0h0m1 1h0m2-2h0m2 3h0m2 3h0m-2 11h0m-1 0h0m-4-7h0m-3 5h0m0 0h0m-3 5h0m-1-9h0m-3 1h0m0 8h0m-2-3h0m0-4h0m-1 6h0m0-7h0m0 2h0m-1 3h0m-1 3h0m0 0h0m0-2h0m-1-3h0m-2 4h0m-9-3h0m-1 10h0m2 3h0m0 3h0m0-8h0m2 6h0m0-8h0m0 1h0m1 5h0m3-5h0m1 2h0m0 4h0m1 1h0m0-6h0m1 0h0m0 5h0m0-3h0m0 0h0m0 6h0m1-6h0m1 7h0m0-8h0m0 4h0m0 4h0m1-10h0m1 5h0m1-2h0m1 2h0m0-1h0m1 5h0m1-5h0m1-4h0m1 2h0m4 1h0m-7 15h0m-3-6h0m-1 2h0m0 0h0m-1 6h0m-1 0h0m-2-8h0m-1 1h0m-1 5h0m0 1h0m-4 1h0m0 2h0m-2-2h0m-1 1h0m-2-7h0m0 3h0m-4 4h0m-5 13h0m8-11h0m0 7h0m2-4h0m0 5h0m1-4h0m0 6h0m1-2h0m0-8h0m2 7h0m1-7h0m0 4h0m2 3h0m0-6h0m3 10h0m3-8h0m1 2h0m5 7h0m-12 3h0m-1-3h0m-3 8h0m-1-5h0m0 4h0m-1-5h0m-1 6h0m0 0h0m0 0h0m-1-8h0m0 4h0m-1-2h0m-2 2h0m0-2h0m0 1h0m0 8h0m-1 0h0m0-3h0m-1 3h0m-1-6h0m-1-3h0m0 5h0m-1-1h0m0 0h0m-6 17h0m1 0h0m2-8h0m1 3h0m0 2h0m2-6h0m0 9h0m0-1h0m0-2h0m0-1h0m0-4h0m1-1h0m0 5h0m0-4h0m0 2h0m0 6h0m1-2h0m0 2h0m0-4h0m1-6h0m0 10h0m0-1h0m0-7h0m1 6h0m0-5h0m0 1h0m0-4h0m0 0h0m1 2h0m0 5h0m0 1h0m0 1h0m0-9h0m1 10h0m0-10h0m2 3h0m1 4h0m2-2h0m1 11h0m-5-5h0m-3 1h0m-2 0h0m-1 3h0m-1 5h0m0-4h0m0 4h0m-1-2h0m-2-2h0m0 5h0m-1-4h0m0 5h0m0-3h0m-1-2h0m0 1h0m-1-7h0m0 3h0m-1 0h0m-1 7h0m-1-3h0m-1 4h0m0-2h0m-1 13h0m0 0h0m1 0h0m1-8h0m0 6h0m0-4h0m1 0h0m0 2h0m1-1h0m1-3h0m0 8h0m0-3h0m1-1h0m0-2h0m0 0h0m0-4h0m1 1h0m0 4h0m0-5h0m0 3h0m2 4h0m0-6h0m-6 19h0m0-4h0m0-4h0m-2 2h0m-1 8h0m0-2h0m0-7h0m-1 7h0m0 1h0m0-6h0m0 4h0m-1 1h0m0-2h0m0 3h0m0-3h0m0 2h0m-1 2h0m-1 1h0m-3 11h0m1-1h0m0 1h0m0-1h0m1 1h0m1-4h0m0 1h0m0 0h0m0-7h0m1 9h0m0 0h0m0-9h0m0 7h0m0-1h0m0 1h0m1-3h0m0 6h0m1-7h0m0 8h0m0-5h0m0-5h0m1-1h0m0 0h0m0 6h0m0-5h0m1 8h0m0-8h0m2-1h0m-4 14h0m-1 2h0m-1 0h0m-1-1h0m0 0h0m0 0h0m-1 0h0m0 3h0m0-2h0m-1 0h0m0 1h0m0 6h0m0-8h0m0 3h0m0-3h0m0 4h0m0 0h0m-1-3h0m0 5h0m0 2h0m0-6h0m0-2h0m0 2h0m0 3h0m0 3h0m0-6h0m-3 13h0m0 3h0m0 0h0m0 2h0m0 0h0m1-11h0m0 7h0m0-2h0m0 2h0m0-7h0m1 3h0m0 0h0m0-2h0m0 3h0m0-4h0m0 6h0m1-3h0m0 4h0m0-1h0m0 3h0m0-8h0m1 1h0m0 0h0m3 6h0m-6 5h0m-1 3h0m0-2h0m0 6h0m-1-5h0m0 4h0m0 1h0m0-3h0m0-4h0m0 7h0m-1 2h0m0-2h0m0-2h0m-1 4h0m0-3h0m-2 14h0m0-1h0m0 3h0m0-3h0m0 2h0m0 0h0m0-1h0m1-6h0m0 6h0m0-6h0m0-1h0m0 7h0m0-9h0m0 7h0m0-5h0m0 8h0m0-2h0m0-5h0m1-3h0m0 2h0m0 4h0m1-6h0m0 0h0m1 2h0m-4 10h0m0 0h0m0 1h0m0 0h0m-1 6h0m0-3h0m0 3h0m0-4h0m0 5h0m0-2h0m0-1h0m0 1h0m0 0h0m0 1h0m0-1h0m0 1h0m-1 4h0m0-2h0m0 2h0m0-1h0m0 5h0m0-1h0m0 0h0m0-1h0m0 2h0" stroke="#138a42" stroke-width="10.4" stroke-linecap="round" stroke-opacity="0.3"/>
<path d="M1447 1509h0m-24 2h0m-10 2h0m50 2h0m-58 12h0m-13 7h0m-2-3h0m-18 8h0m22-3h0m1 2h0m12 0h0m5 1h0m-1 10h0m-9-1h0m-1 5h0m-8 3h0m0-5h0m-16-3h0m0 7h0m-1 4h0m-1-1h0m-2-8h0m0 9h0m-3-11h0m0 7h0m-1-1h0m-3 3h0m-1-4h0m-5 8h0m5 7h0m3 2h0m2-6h0m1 0h0m0 1h0m1-5h0m0 4h0m1-4h0m1 1h0m0 5h0m5 2h0m0-6h0m6 1h0m0 1h0m5 2h0m2-6h0m7 1h0m3 5h0m-6 16h0m-6-8h0m-4-2h0m-1 6h0m-5-3h0m-1 4h0m0-2h0m-1 2h0m-2-2h0m-2 5h0m-1-3h0m0-1h0m-1 1h0m0-2h0m-1 4h0m0-4h0m-1-3h0m-1 1h0m0-2h0m-3 10h0m-2-7h0m-1-1h0m0 6h0m-12-4h0m1 14h0m5 0h0m0 3h0m2-8h0m2 6h0m0 0h0m1 2h0m0 0h0m1-3h0m0 3h0m1-1h0m0 2h0m0-4h0m2 3h0m1-1h0m0-7h0m0 6h0m1-1h0m1 0h0m4-4h0m2 4h0m0-3h0m3-2h0m2 7h0m3 12h0m-3-9h0m-1 0h0m-4 2h0m-1 9h0m-5 0h0m-3-5h0m0-6h0m-1 1h0m-2-1h0m0 10h0m-1-5h0m-1-2h0m0 3h0m0-4h0m-3 9h0m0-7h0m0-4h0m-2 5h0m0 3h0m0 2h0m-1-1h0m-2 0h0m0-8h0m0 3h0m-1 5h0m-1-4h0m-3 0h0m0 3h0m-6-4h0m1 15h0m2-7h0m1 5h0m0 3h0m2 0h0m2-7h0m1 3h0m1 3h0m0-4h0m1 6h0m0-2h0m3 3h0m2-5h0m1 0h0m5-5h0m0 9h0m0 10h0m-3-3h0m-1 1h0m0 0h0m-2-1h0m-1-2h0m-2 2h0m0 5h0m-4-4h0m0 1h0m-1-3h0m-1 1h0m0-4h0m-1 7h0m0-2h0m0-1h0m-2 5h0m0 2h0m0-4h0m-1 0h0m-1-2h0m-1-5h0m0 8h0m0 3h0m-5-1h0m-5 11h0m9-8h0m1 7h0m0-6h0m1 8h0m2-5h0m0 6h0m1-8h0m0 6h0m1-4h0m0-5h0m1 1h0m0-1h0m1 4h0m1-3h0m0 0h0m5 4h0m0-5h0m0 8h0m1-6h0m-7 12h0m-1-1h0m0 0h0m-1-1h0m0 3h0m-1 6h0m0 1h0m-3-6h0m-1 2h0m0 0h0m0-1h0m-2 6h0m0-2h0m0-9h0m-1 4h0m0-4h0m-1 4h0m0 6h0m0-2h0m0-2h0m-1-4h0m0 5h0m-1 3h0m0 0h0m-4-10h0m-1 10h0m-1-3h0m-1 3h0m-1 13h0m1-1h0m1-9h0m1 10h0m0-3h0m2 0h0m1-7h0m1 5h0m0-6h0m0 10h0m0-5h0m1-4h0m0 1h0m0 0h0m0 8h0m1-8h0m0-2h0m0 0h0m1 1h0m0 7h0m0-5h0m1-3h0m0 2h0m0 0h0m1 1h0m0-2h0m1 1h0m1 9h0m2-6h0m2-1h0m3 0h0m4-4h0m-11 13h0m-5 3h0m-1 7h0m0-5h0m-3-6h0m0 5h0m0-1h0m0 5h0m-1-4h0m-1 6h0m-1 0h0m0-4h0m0-2h0m0 5h0m-1-1h0m0-4h0m0-5h0m0 6h0m-3 0h0m-8 16h0m3 0h0m1 0h0m1-5h0m0 1h0m0-5h0m2 0h0m0 7h0m2 0h0m2-2h0m0-1h0m0 6h0m1-5h0m1-6h0m3 0h0m7 19h0m-13-5h0m-1 8h0m0-7h0m-1 2h0m0-5h0m-2 6h0m0 4h0m-1-5h0m0 1h0m-1-6h0m0 8h0m-1 2h0m0-3h0m0-2h0m0 5h0m-2-6h0m-1 4h0m-1 0h0m-6 12h0m1 3h0m3 0h0m1-6h0m0 3h0m1-5h0m1-2h0m1 10h0m0-7h0m0-4h0m1 11h0m1-11h0m0 0h0m2 5h0m-5 8h0m0-1h0m0 0h0m-2 6h0m0-4h0m-1 4h0m0-5h0m0 10h0m-1-8h0m0 1h0m0-3h0m0 1h0m0 1h0m0 4h0m-1-3h0m0 4h0m0-1h0m0 3h0m-1-6h0m0 3h0m-1 3h0m-1 1h0m-3 10h0m0 1h0m1-2h0m1 3h0m0-2h0m0-8h0m0-1h0m0 2h0m0 9h0m0 0h0m1-8h0m0 4h0m0-1h0m0-5h0m1 1h0m0 7h0m0-4h0m1 0h0m1 2h0m0-6h0m0 7h0m0-5h0m0 1h0m1-3h0m0-1h0m0 1h0m2 0h0m-5 15h0m-1-1h0m-1-2h0m0 2h0m-1 2h0m0 1h0m-1 1h0m0-1h0m0 0h0m0 3h0m0-2h0m-1 1h0m0-8h0m0 7h0m0-7h0m0 4h0m0 5h0m0-2h0m-1 2h0m0-2h0m0-2h0m0 6h0m-1-1h0m0-4h0m0 3h0m-2 12h0m0-1h0m0 2h0m1-8h0m0 5h0m0-1h0m0 3h0m0-4h0m0 5h0m1-1h0m0 0h0m0-3h0m0-2h0m0 5h0m1-1h0m0-2h0m0-5h0m0 0h0m0 8h0m0-9h0m1 3h0m0-2h0m0 3h0m0-4h0m0 0h0m1 2h0m-3 13h0m-1-2h0m0-1h0m-1 7h0m0-5h0m0 6h0m0-6h0m0 0h0m0 5h0m0-6h0m0 0h0m-1 7h0m0 2h0m0-1h0m0 0h0m0-5h0m0 7h0m0-7h0m-1 6h0m0 0h0m-3 11h0m1 1h0m0-4h0m0 5h0m0-3h0m0-2h0m0 4h0m0 0h0m0-3h0m0 2h0m1-2h0m0-2h0m0 3h0m0-1h0m0-1h0m0 1h0m0-5h0m0 4h0m0 3h0m0-4h0m0 2h0m0-4h0m0 5h0m0 1h0m0-2h0m1-3h0m0-4h0m0 4h0m0 0h0m0-1h0m0 4h0m0-6h0m0-1h0m-2 14h0m0-1h0m0 1h0m0-2h0m0 0h0m0 2h0m-1 2h0m0 3h0m0 1h0m0-6h0m0 0h0m0 3h0m0-5h0m0 4h0m0 2h0m0-2h0m0 2h0m0-1h0m0 2h0m0-4h0m-1 7h0m0 0h0m0 1h0m0-1h0m0 1h0m0-1h0m0 1h0m0 1h0m0 2h0m0-2h0" stroke="#138a42" stroke-width="10.4" stroke-linecap="round" stroke-opacity="0.3"/>
<path d="M1462 1509h0m-75 12h0m39 6h0m-8 2h0m-6-2h0m-19 0h0m-7 16h0m4 1h0m4-2h0m2-3h0m19 1h0m-10 17h0m-7 0h0m-1-2h0m-8-3h0m-2 2h0m-4-1h0m-4-2h0m0-3h0m-7 2h0m0 2h0m-3-1h0m-3 1h0m-6 4h0m6 13h0m1-6h0m1 8h0m1-2h0m2-9h0m3 7h0m0-4h0m1 4h0m0 2h0m1 1h0m2 0h0m1 1h0m4-4h0m7 4h0m3-4h0m2-3h0m-15 15h0m0-5h0m-1 5h0m0 2h0m-2-8h0m0 9h0m-1-10h0m-2 7h0m-1-3h0m0-4h0m-1 6h0m-2-1h0m-1 3h0m-2-1h0m-1-7h0m0 7h0m-1 4h0m-1-7h0m0 0h0m0 0h0m-1 3h0m0-1h0m-1 3h0m0-7h0m0 2h0m-2-1h0m0 2h0m-1-5h0m0 9h0m-1-3h0m-1 1h0m-9 16h0m3-3h0m1-1h0m2 4h0m5 0h0m0-3h0m1-4h0m2-2h0m0 8h0m2-3h0m1-2h0m0 3h0m1-8h0m1 0h0m2 8h0m2 0h0m0-4h0m1 6h0m2-1h0m0-6h0m1 5h0m4-8h0m0 4h0m7 2h0m8-6h0m-23 16h0m-1 5h0m-3 0h0m0 0h0m-2-5h0m-2-2h0m-1 0h0m-1 3h0m0 4h0m0-3h0m-1 5h0m0-5h0m-2 2h0m0-2h0m0-3h0m-2-3h0m0 10h0m0-5h0m-2 3h0m-3-5h0m-5 6h0m-1 0h0m-3 2h0m-1 7h0m2-3h0m2 8h0m4 0h0m0-5h0m0-5h0m3 10h0m1-9h0m0 6h0m0-8h0m1 6h0m0-5h0m0 6h0m1-2h0m1 4h0m1-3h0m3 4h0m0-1h0m0-3h0m3 0h0m0-2h0m0-3h0m0 4h0m2-1h0m4 2h0m1-6h0m0 3h0m5 3h0m-9 6h0m0 6h0m-3 3h0m-4-2h0m-1-2h0m-2-3h0m-2 0h0m0 1h0m0 4h0m-1-3h0m0-3h0m-1 9h0m0-3h0m-1-1h0m-1 1h0m0 0h0m0-7h0m0 9h0m0-3h0m-1 2h0m0-1h0m-1 0h0m-1 1h0m0-5h0m0 2h0m0 2h0m-1 4h0m-1-7h0m-3 5h0m-2-9h0m-4 7h0m-3 16h0m5 0h0m3-8h0m0 3h0m2-4h0m1 9h0m1-3h0m0-5h0m1 2h0m0-2h0m1 1h0m1 0h0m0-3h0m1 7h0m0-5h0m2 3h0m2-6h0m2 10h0m2-5h0m6-3h0m-15 11h0m0-1h0m-1 0h0m-1 5h0m0 0h0m0-2h0m-1 7h0m-2-5h0m0-4h0m0 0h0m0 2h0m0 3h0m0-5h0m-1 6h0m0 0h0m0 4h0m0-5h0m-1-5h0m-1 2h0m0 0h0m-1 6h0m-1-1h0m-2-1h0m-1-6h0m0-1h0m-2 9h0m0-4h0m0 1h0m0 4h0m0-8h0m-2 14h0m1 2h0m0-1h0m1-5h0m0 1h0m0 4h0m1-2h0m1 7h0m1-2h0m1 2h0m0-1h0m1-9h0m1 9h0m1-9h0m1 9h0m1-7h0m1-1h0m2 3h0m1-3h0m0-1h0m-4 20h0m-2-4h0m-1-1h0m-2 3h0m-1-5h0m0 0h0m0 2h0m-1-2h0m-1 6h0m-1-3h0m0-3h0m0-1h0m-1 8h0m0-4h0m-1 0h0m0-1h0m0 7h0m-1-10h0m0 1h0m-1 3h0m-1 3h0m-1-2h0m-1-4h0m-1 9h0m-1-3h0m-6 12h0m2-2h0m1 0h0m1 5h0m0 1h0m1-11h0m0 8h0m1-2h0m2 4h0m1-3h0m1-2h0m0 3h0m0-6h0m0 3h0m0 4h0m0 0h0m0-4h0m2 3h0m1-4h0m0-2h0m1 9h0m1-8h0m0 1h0m0-3h0m0 1h0m1 0h0m0-1h0m17 15h0m-20-1h0m-4 3h0m0 1h0m-1-1h0m0 4h0m-1-8h0m-1 0h0m0-2h0m0 4h0m-1 2h0m0-2h0m0 4h0m0 0h0m0-4h0m-1 1h0m0 5h0m-1-9h0m-1 8h0m0 0h0m-1-5h0m0 6h0m-2-1h0m-3 11h0m2-6h0m0 7h0m1-4h0m0 2h0m0-4h0m1 1h0m0-2h0m1-2h0m1 11h0m0-1h0m2-3h0m2-2h0m1-2h0m-5 16h0m-3 1h0m0-4h0m0 4h0m-1 3h0m0-5h0m-1-3h0m0 0h0m0 4h0m0 4h0m0-4h0m-1-2h0m-1 6h0m0 0h0m-1 0h0m0-5h0m0 5h0m0-9h0m-1 8h0m0-3h0m-3 15h0m1 1h0m1-7h0m1-3h0m0-1h0m0 2h0m0 6h0m1-5h0m0 5h0m0-4h0m0-1h0m0 3h0m0 5h0m0-10h0m0 6h0m2-5h0m1 2h0m2-3h0m-4 12h0m0 2h0m-1 0h0m-1 4h0m0-2h0m-1 0h0m0-3h0m0 6h0m0-1h0m-1-3h0m0-3h0m0-1h0m0 6h0m0-4h0m0 1h0m0-3h0m0 7h0m-1 3h0m0-5h0m-1 2h0m0 4h0m0-1h0m0 0h0m-1-2h0m0-3h0m-3 18h0m1-4h0m0-3h0m0 4h0m1 1h0m0-3h0m1 2h0m0-6h0m0 1h0m0-1h0m1 2h0m0-1h0m0-1h0m1-2h0m0 4h0m0 2h0m1-4h0m0-1h0m-5 12h0m0 3h0m0-2h0m0 2h0m0-2h0m-1 8h0m0-5h0m0-5h0m0 7h0m0-4h0m0 3h0m0-1h0m0-3h0m0 5h0m0-2h0m-1 3h0m0 0h0m0-3h0m0 1h0m-1 1h0m0 3h0m0 0h0m-2 13h0m0-3h0m0 2h0m0-2h0m0 2h0m0 0h0m1-6h0m0 4h0m0 2h0m0-6h0m0-2h0m0 8h0m0 0h0m0-7h0m0 6h0m0-4h0m0 2h0m0-4h0m1-3h0m0 1h0m0 0h0m0 2h0m0 0h0m0 1h0m0-4h0m1 1h0m-3 11h0m0 0h0m0 2h0m0 1h0m-1-1h0m0 2h0m0 2h0m0 1h0m-1 2h0m0 2h0m0 0h0m0-4h0m0 4h0m0-2h0m0 0h0m0 1h0m0 1h0m0 0h0m0 3h0m0 1h0m0-2h0m0-1h0m0 0h0m0 2h0m0-1h0m0 2h0m0-2h0m0-1h0m0 1h0m0 0h0" stroke="#138a42" stroke-width="10.4" stroke-linecap="round" stroke-opacity="0.3"/>
<path d="M1434 1509h0m-9 1h0m-4-5h0m-30 8h0m3 10h0m1 0h0m17-3h0m20-6h0m15-2h0m-17 12h0m-10 3h0m-6 1h0m0-4h0m-54 22h0m14-3h0m8-1h0m3-1h0m6-1h0m3 2h0m7-2h0m-8 15h0m-1 1h0m-1 1h0m-2-4h0m-2-5h0m-2 7h0m-1-1h0m-1-5h0m-3-1h0m-4 11h0m-5-3h0m-7 1h0m-3 2h0m0-8h0m-6 18h0m1-5h0m4 7h0m2-11h0m1 9h0m4-9h0m2 10h0m0 1h0m0-2h0m1 0h0m0-1h0m0-5h0m6 3h0m6 4h0m2-10h0m1 1h0m2 7h0m4-4h0m4-1h0m2-3h0m1 3h0m0 1h0m4 1h0m-17 12h0m-1-1h0m-5 3h0m-1-1h0m-3 3h0m-1 1h0m0-7h0m-3 6h0m-1-6h0m-1-3h0m-1 7h0m0 2h0m-4 0h0m0-7h0m0 3h0m-1-1h0m0-3h0m-2 2h0m-3 4h0m-2-3h0m-5 8h0m2 9h0m2-1h0m7 2h0m1 1h0m0-7h0m1-1h0m3-3h0m0 9h0m0-1h0m0-7h0m2 5h0m0-1h0m1 0h0m1-2h0m1-2h0m0 10h0m1 0h0m1-7h0m1 1h0m0-5h0m4 10h0m-6 8h0m-1-4h0m-2 6h0m-3 3h0m-3-6h0m0-3h0m-1 6h0m0 1h0m-1 0h0m-1-8h0m-1 4h0m0 2h0m-1 1h0m-2 3h0m0 0h0m-1-6h0m0 1h0m0-4h0m-1 6h0m-1 1h0m-1-8h0m-1 0h0m-1 0h0m-1 5h0m-6-2h0m-1 15h0m2-1h0m2 3h0m5-4h0m0 2h0m2-1h0m0-5h0m1 1h0m0-2h0m2 3h0m1 2h0m1 4h0m0-4h0m1 1h0m4-3h0m1-3h0m0 0h0m1 10h0m8-9h0m1-1h0m1 3h0m0 11h0m-13-2h0m-5 1h0m-1 8h0m0-8h0m-1 3h0m-1 0h0m0 5h0m-1 1h0m0-2h0m-2 1h0m0-5h0m-1-1h0m0 3h0m-2 5h0m0-2h0m-1-2h0m-3-1h0m0 5h0m-1-10h0m-10 21h0m3 1h0m0-10h0m2 7h0m0-4h0m1 6h0m2-1h0m0-7h0m0-2h0m0 3h0m1-1h0m1 9h0m0-1h0m0-7h0m0-2h0m2 0h0m1 6h0m2 4h0m0-4h0m0-1h0m0 2h0m1-7h0m1 10h0m0-8h0m4 2h0m2-2h0m2 0h0m1 5h0m-10 12h0m-3 3h0m-2-5h0m0 4h0m0-4h0m-1 1h0m0-3h0m-2 7h0m0-10h0m-1 3h0m0 3h0m0-1h0m-1-4h0m-1 4h0m-1 1h0m0-7h0m-1 11h0m-1-7h0m-1 0h0m-8 18h0m3-2h0m1-7h0m0 4h0m1-1h0m2 2h0m1 1h0m0-6h0m1 4h0m1 1h0m0 0h0m2-1h0m0-4h0m0 0h0m0 7h0m1-5h0m1-2h0m2 0h0m3 4h0m0 10h0m0 3h0m-4-4h0m-2 1h0m-1 3h0m-1-6h0m0 2h0m-1 5h0m-1-2h0m-1 4h0m-1-6h0m-1 5h0m-1 3h0m0-9h0m-1-1h0m0 8h0m-1-7h0m0 8h0m-1-10h0m0 6h0m0 0h0m0 5h0m-1-8h0m-1-1h0m0 9h0m0-3h0m-2-2h0m-3 3h0m0 10h0m1 4h0m2-11h0m1 9h0m1-9h0m0 6h0m0 2h0m0 2h0m1-7h0m0-1h0m0 1h0m1 7h0m1-8h0m0 3h0m1 4h0m1-8h0m0 1h0m0 7h0m0 1h0m1-9h0m2 1h0m1 1h0m0 8h0m-6 6h0m-1-3h0m-1 2h0m-1-2h0m0 6h0m-2-7h0m-1 5h0m0 1h0m0-3h0m-1-2h0m0 2h0m0-2h0m0-2h0m0 10h0m0 1h0m-1-1h0m0-7h0m-1 7h0m-1 0h0m0-2h0m-1 1h0m0 2h0m0-1h0m-1-6h0m0 4h0m0-5h0m-4 20h0m1-9h0m1 6h0m0-5h0m0 1h0m0 7h0m1-4h0m0-1h0m1 0h0m0-5h0m0 10h0m1-2h0m0-1h0m0-1h0m0 2h0m1-3h0m0 4h0m1-2h0m0-5h0m0 0h0m1 2h0m0-1h0m1 0h0m0-3h0m1-1h0m3 1h0m-9 14h0m-1 5h0m-1-2h0m-1-1h0m-1-4h0m0 1h0m0 0h0m0 2h0m-1 2h0m0-1h0m0-4h0m-1 9h0m0-10h0m-1 10h0m0-8h0m0 5h0m-1 2h0m-1 12h0m0 2h0m0-6h0m0 5h0m0-2h0m1 2h0m0-3h0m0-6h0m1 4h0m0-1h0m0 1h0m0 4h0m0-6h0m3 5h0m1-6h0m0 1h0m1-1h0m0 4h0m1-1h0m-4 13h0m-1-2h0m-2-1h0m0-2h0m0 4h0m0 0h0m-1 0h0m0 6h0m0-3h0m0-6h0m0 1h0m-1 0h0m0 5h0m0-4h0m0 7h0m0-3h0m-1-8h0m0 11h0m0 0h0m0-2h0m0 2h0m0-3h0m-1-2h0m0 5h0m0-3h0m0 2h0m-2 0h0m-1 12h0m1-5h0m0-1h0m0 3h0m0-2h0m1-1h0m0 3h0m0-2h0m1 2h0m0-4h0m0 0h0m1 0h0m0 1h0m0-4h0m0 7h0m0-6h0m1-1h0m1 1h0m0 4h0m0 10h0m-5-3h0m0 1h0m0 3h0m-1 3h0m0-1h0m0-5h0m0 9h0m0-9h0m0 2h0m0 0h0m-1 5h0m0-5h0m0 7h0m-1 0h0m0 0h0m0 1h0m0-7h0m-1 5h0m-1 14h0m0-2h0m0-3h0m0 4h0m0 0h0m0-3h0m0 4h0m1-2h0m0 0h0m0 2h0m0-8h0m0 0h0m0 4h0m0 1h0m0-5h0m0 5h0m1-3h0m0-4h0m0 0h0m1 2h0m-3 10h0m0 1h0m0 0h0m-1 2h0m0 0h0m0-3h0m0 3h0m0-1h0m0 2h0m0-2h0m0 3h0m0 3h0m0-2h0m0-3h0m0-1h0m0 1h0m-1 5h0m0 0h0m0 2h0m0-2h0m0-2h0m0 4h0m0-3h0m0 1h0m0-1h0m0 2h0m0-1h0m0 1h0m0-2h0m0 4h0m0 2h0m0-1h0m0 1h0m0 0h0m0 1h0m0-3h0m0 1h0m0 2h0m0-3h0m0 1h0" stroke="#138a42" stroke-width="10.4" stroke-linecap="round" stroke-opacity="0.3"/>
<path d="M1461 1504h0m-30 7h0m-13-10h0m-15 17h0m2-5h0m48 0h0m-37 20h0m-10-5h0m-2 4h0m0-7h0m-2 5h0m-4 4h0m-7-5h0m-9 13h0m12 0h0m3-1h0m11-4h0m0 6h0m-3 16h0m-2-6h0m-10-5h0m-1 9h0m-4-4h0m-1 0h0m-1 1h0m-2 1h0m-1 0h0m-5 3h0m-1-8h0m-2 4h0m-1 5h0m-2-2h0m0-6h0m-1 4h0m-9 1h0m-1 12h0m1-8h0m1 11h0m1-2h0m5-3h0m2-2h0m2 3h0m5-1h0m1 4h0m2-5h0m3-3h0m1 2h0m1-4h0m1 4h0m1 4h0m11 5h0m-13 7h0m-1-7h0m-3 1h0m-2 7h0m-7-7h0m0 4h0m-2-4h0m0 7h0m-1-7h0m-4 3h0m0-5h0m-1 7h0m-1 3h0m-2-4h0m0-5h0m-1 9h0m-1 0h0m-2-6h0m-1 3h0m-1 2h0m-9 8h0m4 3h0m1-2h0m2-3h0m5 6h0m0-9h0m3 9h0m0 2h0m1-3h0m0-5h0m1 5h0m0-1h0m2-4h0m1 4h0m0 1h0m2-1h0m0-5h0m1-2h0m2 2h0m2-2h0m1 5h0m1-2h0m1-2h0m1 8h0m-4 8h0m-4 2h0m-3-5h0m-3 1h0m-1 4h0m-1 1h0m-1 0h0m0-4h0m0 1h0m-1 3h0m-1-6h0m0 2h0m0 6h0m-1-8h0m-1 6h0m-1 0h0m0-1h0m-3-6h0m-3-1h0m-1 3h0m-3 6h0m-5 14h0m5-3h0m0-2h0m0 5h0m1-7h0m2 2h0m0 1h0m1-1h0m0-3h0m1 2h0m0-2h0m1 4h0m0-2h0m2 0h0m0 0h0m0-3h0m2 7h0m2-6h0m0 6h0m0 1h0m0 0h0m0-7h0m1 4h0m0-5h0m6 0h0m7-2h0m-3 18h0m-4 3h0m-2-5h0m-1-4h0m0 1h0m-1 10h0m-1-9h0m-2-1h0m0 6h0m-1-3h0m-3 3h0m0-7h0m-1 7h0m0-4h0m-1 6h0m-1-4h0m0 4h0m-4-3h0m0 5h0m-1-2h0m-3-1h0m-4 7h0m2-2h0m1 4h0m0-3h0m1 8h0m0-5h0m0 3h0m0 0h0m4-1h0m1-5h0m0-2h0m2 0h0m0 5h0m2-1h0m0-2h0m0 6h0m3-4h0m0 8h0m-2 1h0m-1 9h0m0-9h0m-1 2h0m-3-2h0m0 4h0m-1 5h0m-1-10h0m-1 10h0m-1 0h0m0 1h0m0-11h0m0 9h0m0 1h0m-1-1h0m0-3h0m0 2h0m-1-2h0m-1-5h0m-1-1h0m0 6h0m-1 2h0m0 3h0m-2-2h0m-2-7h0m0-1h0m-3 7h0m-3 12h0m1 2h0m1-5h0m0 2h0m1-1h0m0 3h0m0 0h0m1-9h0m0 0h0m0 5h0m1-4h0m0 7h0m0 3h0m0-3h0m1-1h0m0 1h0m1-7h0m0 0h0m0 10h0m2-3h0m0 2h0m1-1h0m0 2h0m1-3h0m1 0h0m0 1h0m0-6h0m1-1h0m0 1h0m3 3h0m6-2h0m4 7h0m-16 5h0m-1-4h0m0 2h0m-1 3h0m-1 0h0m-1 0h0m-1 0h0m0 0h0m0 0h0m-2-4h0m0-1h0m-1 10h0m-1-4h0m0 4h0m0-4h0m0 1h0m0 3h0m-1-9h0m0-1h0m-1 7h0m0-7h0m-1 10h0m0-7h0m-5 2h0m-4 16h0m4 2h0m0-1h0m1-6h0m1 6h0m0-3h0m0-7h0m1 0h0m1 5h0m1 6h0m0-11h0m1 4h0m0 3h0m0 1h0m0-8h0m0 2h0m1 1h0m0 0h0m2 6h0m1-1h0m2 2h0m2-10h0m-5 16h0m0-4h0m-1 9h0m-1-6h0m0-1h0m0 3h0m-3-5h0m0 8h0m0-8h0m-1 5h0m-3 1h0m-1-2h0m-1 4h0m0-1h0m0 1h0m0-8h0m0 9h0m-1 0h0m-1 0h0m-2-1h0m-2 3h0m0 12h0m0-7h0m1-3h0m0 8h0m0 1h0m1-7h0m0 2h0m0 6h0m2-2h0m0-3h0m0 1h0m0 2h0m0 0h0m1-2h0m0 0h0m0-4h0m0 7h0m0-9h0m1 1h0m0 2h0m0-2h0m1 0h0m0 7h0m2-9h0m0 0h0m0 0h0m0 11h0m8-11h0m-12 13h0m-1 0h0m0 7h0m-1-4h0m-2-4h0m0 4h0m0-2h0m-1 9h0m0-9h0m0 5h0m0-4h0m0 5h0m-1-8h0m0 8h0m-1 1h0m0-6h0m0-3h0m0 6h0m0 3h0m-3 0h0m-3 13h0m1-3h0m0 2h0m1-8h0m0 5h0m0 5h0m1 0h0m0-2h0m0 2h0m1 0h0m0-3h0m0-3h0m1 4h0m0-4h0m0-5h0m0 2h0m0 9h0m0-3h0m0 0h0m1-3h0m0-1h0m1-2h0m0 3h0m0-2h0m0 3h0m0-3h0m0 1h0m2-1h0m-4 11h0m-1-2h0m0 8h0m0-1h0m-1-1h0m0-3h0m0-1h0m0-2h0m0 8h0m0-2h0m-1 0h0m0 0h0m0-1h0m0 1h0m-1-1h0m0 4h0m0 1h0m0-3h0m0-1h0m0 1h0m0-1h0m-1 1h0m0 3h0m0 1h0m0-5h0m-1 2h0m0 3h0m-1 11h0m0 0h0m0-9h0m0 8h0m1-5h0m0 5h0m0-5h0m1 2h0m0 3h0m0-3h0m0-4h0m0 3h0m1 2h0m0-7h0m1 5h0m1-4h0m2 7h0m-5 5h0m-1 3h0m-1-2h0m0 1h0m0-1h0m0 4h0m0-5h0m-1 0h0m0 8h0m0-5h0m0 1h0m0 1h0m0-5h0m0 5h0m0-1h0m0-1h0m0 5h0m-1-5h0m0 5h0m0-2h0m0 4h0m0-8h0m-1 7h0m0-1h0m0 1h0m-2 13h0m1-1h0m0 1h0m0-4h0m0-4h0m0 5h0m0-1h0m0 1h0m0-8h0m0 11h0m0-2h0m0-2h0m0 3h0m1-8h0m0 4h0m0-3h0m1-3h0m-3 15h0m0-2h0m0-1h0m0 1h0m-1 4h0m0 0h0m0-3h0m0 5h0m0-1h0m0 2h0m0-7h0m0 2h0m0 1h0m0 5h0m0-2h0m0-6h0m-1 8h0m0 1h0m0-1h0m0 2h0m0 1h0m0 2h0m0 0h0m0 0h0m0 1h0m0-3h0" stroke="#138a42" stroke-width="10.4" stroke-linecap="round" stroke-opacity="0.3"/>
<path d="M1452 1509h0m-10 2h0m-10-5h0m1 7h0m-35 21h0m-3 1h0m-7-7h0m-16 11h0m4 3h0m9-4h0m3 8h0m4-10h0m7 7h0m1 3h0m0-3h0m3 4h0m0-7h0m1 1h0m1 6h0m13-1h0m6-8h0m0 1h0m-26 18h0m-1-8h0m-1 5h0m-7 2h0m-4-4h0m-11 4h0m-8-3h0m-5 13h0m1-4h0m3 3h0m0 4h0m6-7h0m1 1h0m4-3h0m1 8h0m2-1h0m4-2h0m0 3h0m2 0h0m1-6h0m0 6h0m0-7h0m0 9h0m3-9h0m2 1h0m6 9h0m4-8h0m-11 9h0m-8 11h0m-1-8h0m0 7h0m-2 0h0m-3-3h0m0-6h0m-1 9h0m0 1h0m-2-10h0m-1 5h0m0 2h0m-1-4h0m-2-2h0m-2 0h0m0 5h0m-1 0h0m-3 3h0m-2-5h0m-1 5h0m-2-1h0m-1 0h0m-13-6h0m2 20h0m5-4h0m3-3h0m2-1h0m0 1h0m7-4h0m0 11h0m2-2h0m3-4h0m0-2h0m6-1h0m1 8h0m0-7h0m3 1h0m0 7h0m7 9h0m-6-7h0m-2 5h0m-1-1h0m-3-3h0m-1 3h0m-3-5h0m0 2h0m0 5h0m-2-1h0m-1 1h0m0-4h0m-2-3h0m-1 3h0m0 8h0m0-10h0m-1 2h0m0 2h0m-1 1h0m0-1h0m0-2h0m-1-3h0m-1 4h0m0-1h0m0 1h0m0 2h0m-1-2h0m-3 2h0m-1 1h0m-2 1h0m-1-4h0m-6 2h0m1 10h0m1 5h0m0-8h0m4 1h0m2-1h0m1-1h0m1 1h0m0 3h0m0-4h0m1 11h0m1-4h0m1-3h0m0-2h0m3 3h0m5-4h0m1 4h0m1 0h0m0-1h0m6-4h0m4 12h0m-14 1h0m-4 2h0m-1 3h0m-1-4h0m0 6h0m-1-1h0m0 0h0m-1-2h0m0 5h0m-1-7h0m-2 8h0m0-8h0m0 8h0m0-11h0m-1 9h0m0-1h0m-2 2h0m-1-5h0m0 1h0m0 1h0m-1 3h0m-1-7h0m-1 5h0m0-8h0m-2 2h0m0 7h0m-3 2h0m-2 0h0m-1-4h0m-1 16h0m1-3h0m0-5h0m2-3h0m0 0h0m0 0h0m1 5h0m0 6h0m1-3h0m1-7h0m1 4h0m0-5h0m0 2h0m1 3h0m0 1h0m0-2h0m0 3h0m0 4h0m0-11h0m2 11h0m1-6h0m0 0h0m1 0h0m1 4h0m0-3h0m0-6h0m1 7h0m1 4h0m2-8h0m2-2h0m1 4h0m1 0h0m3-5h0m-10 15h0m-1 0h0m0-3h0m-1 8h0m-1-2h0m0-1h0m-2-2h0m-1-3h0m0 9h0m0-3h0m-1 3h0m-1-1h0m-2-3h0m-1 6h0m-1-1h0m0-8h0m-2 4h0m-1 2h0m0 3h0m-4-3h0m-3-2h0m0 17h0m0-1h0m1-3h0m1 2h0m0-4h0m0-5h0m1 11h0m1-7h0m0 4h0m0 0h0m2-6h0m1 1h0m1 0h0m1 4h0m0 4h0m2-2h0m2-4h0m2-3h0m1 9h0m1-10h0m-2 13h0m-2 0h0m-2-2h0m-2 2h0m-1 1h0m0-2h0m0 3h0m-2 3h0m0 2h0m-1-6h0m0 7h0m0 1h0m-1-4h0m-1 1h0m-1-8h0m0 8h0m-1 1h0m0-3h0m-1-6h0m0 11h0m0-5h0m-1-5h0m0 2h0m0-3h0m0 7h0m-1-3h0m0 6h0m0 1h0m-1-1h0m0-6h0m-1 4h0m-2-6h0m-3 20h0m1 1h0m1-8h0m1 8h0m0-2h0m0 1h0m0 0h0m1-6h0m1 3h0m0-5h0m0 6h0m0 3h0m1 0h0m0-9h0m0 7h0m0-8h0m2 5h0m0-4h0m1 2h0m0 0h0m0 4h0m1-4h0m1-3h0m2 7h0m3-5h0m0 3h0m-10 7h0m-1 9h0m-2-3h0m0-4h0m0-2h0m0 2h0m0 5h0m0 1h0m0 2h0m-1-6h0m0-4h0m0 4h0m0-3h0m-1-1h0m0-1h0m0 11h0m-2-3h0m0 0h0m-3-3h0m-3 1h0m0 11h0m0 6h0m2-8h0m0 1h0m0 6h0m1-1h0m0 0h0m0 0h0m1-3h0m0 2h0m0-7h0m0 2h0m1 6h0m0-3h0m1-3h0m1 4h0m0-1h0m0-2h0m2 4h0m0 1h0m0-4h0m1-1h0m5-3h0m-11 13h0m0 8h0m0-2h0m-1 2h0m0-1h0m0-9h0m0 4h0m0 4h0m-1 2h0m-1-6h0m0 4h0m0-8h0m-1 6h0m-1 0h0m0-6h0m0 10h0m-2-4h0m-3 15h0m2-5h0m0 3h0m0-5h0m0 8h0m1-1h0m0-1h0m0 1h0m1 1h0m0 0h0m0-1h0m1-3h0m0 0h0m0 2h0m1-7h0m0 4h0m0-2h0m0 0h0m0 0h0m1 2h0m0 2h0m0-3h0m1-2h0m1-1h0m0-1h0m1 2h0m3 5h0m-9 8h0m0 3h0m-2 0h0m0-2h0m0-4h0m-1 9h0m0-6h0m0-2h0m0 8h0m0-9h0m0 5h0m0 2h0m0 2h0m-1-5h0m0 0h0m0 6h0m-1-2h0m0 1h0m-2 9h0m0 5h0m0-5h0m0 2h0m1-3h0m0 4h0m0-3h0m2-2h0m0 2h0m0 0h0m0-1h0m0-4h0m0-1h0m1 3h0m2-2h0m-5 11h0m-1 0h0m0 1h0m0 2h0m-1 6h0m0-9h0m0 3h0m0 1h0m0 2h0m0 5h0m0-4h0m0-3h0m0-3h0m0 5h0m-1-3h0m0 7h0m0 0h0m0-9h0m0 10h0m0-6h0m-1 6h0m0-2h0m0 2h0m-3 12h0m1-1h0m0-1h0m0-5h0m0 7h0m0 0h0m0 0h0m0-2h0m1 1h0m0-4h0m0-2h0m0 3h0m0-3h0m0-2h0m0 6h0m0-3h0m1-1h0m0 0h0m0-2h0m0-1h0m0 3h0m0-4h0m0 1h0m0 2h0m1-2h0m-3 15h0m0-2h0m0-1h0m0 1h0m-1 2h0m0 4h0m0 0h0m0-3h0m0 1h0m0 3h0m0 0h0m0-3h0m0 0h0m-1 2h0m0 3h0m0-3h0m0 3h0m0 0h0m0-3h0m0 2h0m0 5h0m0-2h0m0 0h0m0 1h0m0-1h0m0 2h0m0 0h0" stroke="#138a42" stroke-width="10.4" stroke-linecap="round" stroke-opacity="0.3"/>
<path d="M1453 1504h0m-31 7h0m-11 0h0m-6 7h0m31 1h0m0 3h0m4-2h0m13-6h0m-41 17h0m-37 15h0m0-3h0m15 1h0m0-4h0m3-2h0m4 8h0m0-1h0m2-5h0m7 2h0m-4 16h0m-4 1h0m-5-6h0m-2 0h0m-1-1h0m-3-4h0m-4 10h0m0-8h0m-3 8h0m-2-5h0m-1-3h0m-3 6h0m0 2h0m-3-3h0m-2-2h0m-3 5h0m-4 7h0m1 6h0m3 0h0m1-10h0m0 5h0m5-2h0m0 5h0m3 1h0m1-9h0m0 7h0m1 2h0m1-8h0m0 7h0m2-2h0m2 1h0m1-3h0m2 5h0m1-10h0m0 8h0m2-3h0m0 0h0m1-4h0m1 4h0m0-1h0m5 14h0m-5 1h0m-1-7h0m-3 0h0m-3 9h0m-6-8h0m0 1h0m-1-2h0m-1 5h0m-1 0h0m0-4h0m-1 4h0m-2 0h0m-2 6h0m0-5h0m-1 5h0m0-1h0m-2-9h0m0 9h0m0-3h0m-1 3h0m0-5h0m-1 2h0m0-5h0m-2 6h0m-3 2h0m-2 0h0m-1 12h0m2-6h0m0-1h0m0 6h0m0-9h0m1 2h0m1 5h0m0-6h0m0 2h0m1 4h0m1-7h0m2 6h0m0-5h0m1 9h0m7-7h0m0-2h0m1 9h0m0-8h0m0 9h0m3-7h0m2-1h0m2 1h0m2 0h0m5 0h0m3 2h0m-14 6h0m-2 1h0m-3 9h0m-1-6h0m0-2h0m-2 3h0m-2 1h0m-3 0h0m-1 5h0m0-2h0m0 2h0m-2-2h0m-1 1h0m-1-4h0m-2-5h0m-2 6h0m0 3h0m-3 0h0m-2-1h0m-9 9h0m6 4h0m2-5h0m0 3h0m1-4h0m0-4h0m1 1h0m2 5h0m2 5h0m1-9h0m0 0h0m0-1h0m1 7h0m0 0h0m0-1h0m1-6h0m1 10h0m0-3h0m2-3h0m1 1h0m2 2h0m0-7h0m1 1h0m20 3h0m-15 16h0m-3-3h0m-2-2h0m-2-4h0m-2 5h0m-1-3h0m-1 0h0m0 4h0m-1-4h0m-3 3h0m-1-5h0m0 0h0m0 11h0m0-3h0m-2 1h0m0-5h0m0-2h0m-2 8h0m-2 1h0m0 0h0m-1-7h0m-1 2h0m0 3h0m0-2h0m-1 2h0m-1-3h0m-12 17h0m6-5h0m2-6h0m1 0h0m0 9h0m1-2h0m1-5h0m0 2h0m0 3h0m3 3h0m0-10h0m1 6h0m1-3h0m0 5h0m6-4h0m0 3h0m2 3h0m1-4h0m1-6h0m1 8h0m0-5h0m5 0h0m2-3h0m-6 20h0m-8 2h0m0-10h0m-6 8h0m0 0h0m-1-3h0m0 1h0m-2-5h0m-1-1h0m0 11h0m-1 0h0m-1-2h0m0 1h0m0-8h0m-1 3h0m0 1h0m0 2h0m-1 0h0m-2-7h0m-1-1h0m-1 10h0m0-4h0m0 4h0m0-4h0m-2 4h0m-1 1h0m-6 12h0m4 0h0m3-1h0m1-3h0m1 4h0m0-10h0m1 6h0m0-7h0m2 7h0m1-7h0m1 1h0m0 3h0m1 2h0m0-6h0m0 0h0m3 5h0m1-3h0m3 3h0m2-2h0m-2 10h0m-4 7h0m-2-1h0m-1 0h0m-3-7h0m0 0h0m-2 8h0m-2 0h0m0-5h0m-1 7h0m0-5h0m-2 3h0m0-4h0m0 7h0m-1-3h0m0-2h0m-3-2h0m-6 18h0m1-9h0m4 9h0m0-9h0m1 4h0m0-3h0m1 4h0m0 2h0m1-2h0m1 5h0m0-10h0m1 5h0m1-3h0m0 3h0m1 1h0m0-1h0m3-1h0m1 2h0m-5 15h0m-2-10h0m-1 4h0m0-4h0m0 7h0m0-3h0m-1 4h0m-1-7h0m0 1h0m0 0h0m0 7h0m-1-5h0m0-3h0m0 0h0m0 4h0m0 2h0m-1 0h0m0-2h0m0 4h0m0-6h0m-1 0h0m0-2h0m-1 6h0m0 4h0m-1-1h0m0-8h0m0 7h0m-1-7h0m0 2h0m-2 4h0m-1-1h0m-1-3h0m-1 19h0m1 0h0m1-4h0m0-3h0m0 5h0m0 0h0m1 0h0m0 2h0m1-4h0m0 3h0m0-9h0m0 5h0m2 5h0m1-3h0m0 2h0m0-9h0m0 6h0m1-4h0m0-1h0m1 9h0m0-9h0m0-2h0m2 3h0m4 5h0m-10 14h0m-1-6h0m-1-3h0m0 4h0m0 3h0m0-6h0m-1-2h0m-1 1h0m0 8h0m-1-3h0m0-3h0m0-1h0m0 5h0m-1 0h0m0 1h0m-1-3h0m0 1h0m0 0h0m0-2h0m0 2h0m0-3h0m-1 2h0m0-4h0m0 10h0m-2 8h0m0 4h0m1-6h0m0 3h0m0 0h0m0 1h0m1-5h0m0 4h0m1-2h0m0-5h0m0 2h0m1 1h0m0 2h0m0 0h0m0-6h0m1 4h0m2-3h0m0 3h0m-4 10h0m-2 8h0m0-4h0m-1-1h0m0-4h0m0 5h0m0-3h0m0 1h0m0-1h0m0-2h0m-1 4h0m0-5h0m0 9h0m-1 0h0m0-1h0m0-2h0m0 5h0m0 0h0m-3-3h0m-1 11h0m1 3h0m0-3h0m0 4h0m0-1h0m0 1h0m0-1h0m0 1h0m1-4h0m0 4h0m0-3h0m0-6h0m1 3h0m0 6h0m0-7h0m0-3h0m0 10h0m0-7h0m0-4h0m0 3h0m0 4h0m1-6h0m0 1h0m0 3h0m0-5h0m0 7h0m9-7h0m-10 12h0m0 0h0m-1 4h0m0-2h0m-1 1h0m0-1h0m0 0h0m0 0h0m0 4h0m0-2h0m0 1h0m0-2h0m0 4h0m-1 0h0m0-4h0m0 4h0m0-6h0m0 4h0m0-1h0m-1 0h0m0 3h0m0 2h0m0-4h0m0 4h0m0 2h0m-1 0h0m0-2h0m0 0h0m0 2h0m-2 11h0m0 1h0m0 0h0m0 0h0m1-3h0m0-2h0m0 2h0m0-2h0m0-4h0m0 4h0m0-1h0m0-1h0m0 2h0m0 3h0m1-1h0m0-4h0m0-1h0m0-1h0m-2 10h0m0 0h0m0 4h0m-1 2h0m0-2h0m0 1h0m0-3h0m0 2h0m0 2h0m0-2h0m0 0h0m0 3h0m0-2h0m-1 5h0m0-2h0m0 1h0m0 2h0m0 0h0m0-2h0m0 5h0m0-2h0m0 3h0" stroke="#138a42" stroke-width="10.4" stroke-linecap="round" stroke-opacity="0.3"/>
<path d="M1953 1487h0m-20 0h0m-32-6h0m-48 21h0m31 13h0m1-2h0m-142 20h0m-15 9h0m75 24h0m-39 86h0m-10 12h0m-22 31h0m-16 9h0" stroke="#c6cbd8" stroke-width="10.4" stroke-linecap="round" stroke-opacity="0.75"/>
<path d="M1890 1484h0m-89 9h0m50 1h0m101 8h0m-54 1h0m-59 16h0m0 7h0m-44 45h0m-36 72h0m15-3h0m-40 40h0m-23 33h0m5 4h0" stroke="#c6cbd8" stroke-width="10.4" stroke-linecap="round" stroke-opacity="0.75"/>
<path d="M1867 1505h0m-3 0h0m-3 3h0m-40-5h0m-3 2h0m-4 8h0m1 8h0m1 6h0m0-2h0m-9 6h0m-3 10h0m-15 16h0m0-1h0m-43 93h0m-38 81h0" stroke="#9aabc8" stroke-width="10.4" stroke-linecap="round" stroke-opacity="0.55"/>
<path d="M1866 1496h0m-24 7h0m-3 5h0m-20-2h0m-12-6h0m-21 5h0m-17 12h0m46-3h0m-22 32h0m6-5h0m-6 9h0m-73 27h0m27 54h0m-46 103h0m-2 11h0" stroke="#9aabc8" stroke-width="10.4" stroke-linecap="round" stroke-opacity="0.55"/>
<path d="M1834 1502h0m-27 1h0m-2 6h0m-3 0h0m-18 2h0m12 12h0m-33 1h0m-9 21h0m2-3h0m1-1h0m3-3h0m5 5h0m7-5h0m7 7h0m2 0h0m-19 3h0m-3 8h0m-1-4h0m-1-2h0m0 5h0m-3 2h0m-3-3h0m-2-1h0m-1 6h0m-9-1h0m-1-1h0m0 12h0m1 0h0m1-1h0m6-2h0m1-5h0m0 4h0m1 6h0m1-6h0m1 4h0m1-6h0m0 8h0m0-2h0m2-8h0m1 5h0m1-1h0m0-1h0m0 6h0m1-10h0m1 7h0m16 7h0m-14 5h0m-5-5h0m-3 8h0m-2-7h0m-1-1h0m0 4h0m-1 1h0m-1 4h0m-2-8h0m0 8h0m0-11h0m-2 3h0m-1 6h0m0 2h0m-2-4h0m0 4h0m-2-1h0m-3-5h0m-6 8h0m0 10h0m1-3h0m2 2h0m1 1h0m1-4h0m0 2h0m1-8h0m2 8h0m2-1h0m0-5h0m1-3h0m2 0h0m1 4h0m0 5h0m1-7h0m0 3h0m2-3h0m0 2h0m1-2h0m0 7h0m0-5h0m1 1h0m1 3h0m1-3h0m1 0h0m9-2h0m-11 16h0m-3-1h0m0-1h0m-3-2h0m0 0h0m-1-2h0m-1-1h0m0 8h0m0 3h0m-3-9h0m-2 9h0m0-9h0m-1 4h0m0-4h0m-1 3h0m-2 4h0m0 2h0m-1-7h0m0 6h0m0 1h0m-2-3h0m-3-8h0m-9 11h0m5 11h0m1-3h0m2 3h0m1-5h0m1-4h0m0 5h0m1-4h0m1 8h0m1-5h0m0 5h0m1-8h0m0 8h0m0-2h0m1-1h0m1-3h0m0 0h0m0 2h0m2-2h0m1 4h0m5-4h0m1 6h0m0-6h0m1 0h0m-6 15h0m0-4h0m-5 3h0m0 0h0m-2-6h0m0 11h0m-1-8h0m-1 3h0m-1-4h0m-1 3h0m-1 3h0m0-8h0m-2 4h0m0 2h0m-1 4h0m0-4h0m0 0h0m0-2h0m-1 7h0m0-5h0m-1 2h0m0-2h0m-3-4h0m0 1h0m-3 20h0m2-1h0m1-2h0m1 2h0m0-3h0m4 1h0m0-2h0m1 0h0m1-2h0m1 2h0m0-2h0m0 2h0m0-4h0m0 2h0m3 7h0m0-7h0m1 0h0m1 4h0m-5 8h0m-2-2h0m-2-1h0m-1 1h0m0 5h0m-1-1h0m0-6h0m0 4h0m0-4h0m0 0h0m-1 8h0m0-6h0m0 5h0m-2-4h0m-1-2h0m0 7h0m0-8h0m0 0h0m0 8h0m-1-1h0m0 2h0m-1 0h0m-1-2h0m0-1h0m0-5h0m0 8h0m-3-4h0m-5 18h0m3-4h0m0-2h0m1 0h0m0 5h0m1-6h0m0-1h0m1 2h0m0-5h0m1 5h0m0-1h0m0 3h0m1-4h0m1-2h0m0-1h0m0 3h0m0 8h0m0-10h0m0 5h0m1-1h0m0 5h0m1-5h0m0 1h0m0-2h0m0 5h0m1-7h0m1 5h0m4-4h0m2 3h0m-11 9h0m-1 0h0m0 6h0m-1-4h0m-1-4h0m0 0h0m0 4h0m-2-2h0m0-1h0m-1 3h0m-1-2h0m0 7h0m0-2h0m-2 0h0m0-5h0m-2 6h0m-5 12h0m2 1h0m0-1h0m0-3h0m0 2h0m1-3h0m0-2h0m0 5h0m1 0h0m0 1h0m0-2h0m0-3h0m0 4h0m0 0h0m0 2h0m1-1h0m0-2h0m0-6h0m1 8h0m0-3h0m1 3h0m0-5h0m0 6h0m1-9h0m0 2h0m0 3h0m0-2h0m0-4h0m1 1h0m0-1h0m0 1h0m0 6h0m0 4h0m1-6h0m0-2h0m0 1h0m1-1h0m1-1h0m1-2h0m-6 13h0m0 0h0m-1 3h0m-2 0h0m0-2h0m0 0h0m0 2h0m-1 3h0m0-3h0m0 1h0m-1-4h0m0 7h0m-1-3h0m0-5h0m0 7h0m-1-6h0m-1 5h0m0 3h0m-1-2h0m-1 4h0m-1 8h0m0 0h0m0-2h0m0 6h0m0-9h0m0 9h0m1 0h0m0-5h0m1-4h0m0 0h0m1 3h0m0 1h0m0-5h0m2 5h0m1-3h0m-4 11h0m-1 0h0m0 0h0m-1 2h0m0 1h0m-1-4h0m0-1h0m0 3h0m0 0h0m-1 4h0m0 2h0m0-5h0m0-3h0m0 5h0m0-3h0m-1 1h0m0 2h0m0-3h0m0-2h0m0-1h0m-1 11h0m0 0h0m0-6h0m-1 5h0m-1 1h0m-1-7h0m-1 10h0m0 9h0m1-8h0m0 1h0m0 6h0m0-5h0m0 2h0m0-1h0m0-3h0m1 1h0m0 4h0m1 2h0m0 0h0m0-2h0m1-3h0m0-2h0m0-3h0m0 4h0m0-3h0m1 3h0m0-1h0m1 1h0m-2 14h0m-1-2h0m-2-3h0m0 6h0m0-4h0m0 0h0m0-1h0m0-2h0m-1 5h0m-1 1h0m0 0h0m0-2h0m0 1h0m-1 5h0m0-4h0m0 5h0m0-9h0m-1 8h0m0 0h0m0-7h0m0 7h0m-3 12h0m1-3h0m1-1h0m0 5h0m0-5h0m0-2h0m0 6h0m1 0h0m0-7h0m0 5h0m0-7h0m0 5h0m1-6h0m0 8h0m0-6h0m0 0h0m0 5h0m1 0h0m-2 5h0m-2 2h0m0 0h0m-1 5h0m0 0h0m0-2h0m0 2h0m0-5h0m0 0h0m0 0h0m-1 9h0m0-1h0m0-3h0m0 0h0m0 1h0m0 2h0m0-3h0m0-5h0m-1 9h0m0-2h0m0-2h0m-2 14h0m0 0h0m0 2h0m0-5h0m0 3h0m0 1h0m0-2h0m0 3h0m0-3h0m0 3h0m0-4h0m0-1h0m1-1h0m0 4h0m0-2h0m0-1h0m0 0h0m0-2h0m0-4h0m0 7h0m0-4h0m0-3h0m0 4h0m1 0h0m0-3h0m0 3h0m0 1h0m-2 8h0m0-1h0m0 3h0m0-3h0m0 0h0m0 0h0m-1 6h0m0-2h0m0 1h0m0-2h0m0-1h0m0 2h0m0-2h0m0 2h0m0 3h0m0-6h0m0 3h0m0 3h0m0-2h0m-1 2h0m0 3h0m0 0h0m0 0h0m0 0h0m0-2h0m0 1h0m0 1h0m0-1h0m-1 4h0m0 1h0m0 0h0m0 0h0m0 0h0m1-2h0m0 0h0" stroke="#1a5f9e" stroke-width="10.4" stroke-linecap="round" stroke-opacity="0.3"/>
<path d="M1801 1508h0m-8 14h0m9-7h0m-28 10h0m-15 10h0m-1-1h0m-6 11h0m2-8h0m1 2h0m13-1h0m3 9h0m4-7h0m3 8h0m-8 5h0m-1 0h0m-2-3h0m-5 7h0m-1-4h0m-2 6h0m-2-7h0m-1 5h0m-1 2h0m0-11h0m-1 8h0m-1-1h0m-1 3h0m-1-4h0m0 3h0m-1 0h0m-1 2h0m-1 0h0m-8 4h0m7 4h0m0-1h0m1 5h0m1-11h0m1 3h0m1 8h0m0-3h0m0 3h0m5-2h0m7-7h0m4 9h0m1-3h0m2 1h0m-8 13h0m-2-9h0m-2 2h0m-2-3h0m0 10h0m-2-1h0m0 1h0m0 0h0m-1-4h0m0-3h0m0 6h0m-2-4h0m0-4h0m-1 4h0m0 3h0m-2-3h0m0-3h0m-1 7h0m-1-1h0m-1-1h0m0 4h0m0-4h0m0-4h0m-2 3h0m0 4h0m0-7h0m0 0h0m0 1h0m0 5h0m-1-2h0m-1-2h0m-1 3h0m-2-2h0m-1-6h0m-1 11h0m-4-3h0m-1-1h0m1 14h0m0 0h0m1-5h0m0 2h0m0 4h0m1-4h0m1 1h0m1 1h0m1-1h0m1 3h0m2-5h0m0 2h0m1 1h0m0 2h0m0-4h0m0-6h0m1 0h0m0 4h0m1 2h0m0-3h0m0 3h0m0 3h0m1-3h0m1 5h0m1-8h0m11 4h0m-5 8h0m-5-1h0m0 3h0m-1-5h0m-4 2h0m0 3h0m-1-5h0m-1 7h0m-1-4h0m-1 8h0m-1-3h0m0-5h0m-4-3h0m-1 10h0m-2-7h0m0 0h0m-1 5h0m-1-8h0m-2 2h0m0 4h0m-8 10h0m4 4h0m2 1h0m0-6h0m1-3h0m0 9h0m0-5h0m0 6h0m1-3h0m0-5h0m1 7h0m1-6h0m0-2h0m1 10h0m1-5h0m0 5h0m0-10h0m1-1h0m1 10h0m1-9h0m1 0h0m3 4h0m0-1h0m1 6h0m2-7h0m0 0h0m2 0h0m1 7h0m5-10h0m-10 19h0m-3 2h0m-6-7h0m0 0h0m0 5h0m-1 0h0m0-6h0m-1 0h0m-1 9h0m0-3h0m-2-1h0m0 4h0m0-4h0m0-6h0m0 2h0m0 5h0m-1 3h0m-1-7h0m-1 0h0m0 7h0m-1 0h0m0-7h0m-2-2h0m-4 21h0m3-7h0m0 6h0m0-4h0m1-3h0m0 4h0m0 3h0m0-7h0m3-1h0m0 8h0m1-7h0m0-1h0m1 4h0m0-2h0m1 2h0m0 4h0m0-5h0m1-3h0m2-1h0m0 5h0m5 5h0m-5 2h0m-4 4h0m-1-2h0m-3 2h0m0-1h0m0 8h0m0-6h0m-1 0h0m-1-3h0m0 4h0m0-1h0m-1 4h0m-1-3h0m0 1h0m0-3h0m-1 4h0m0 1h0m-1-2h0m0 2h0m0-2h0m-1 4h0m0-9h0m-1 8h0m0 0h0m-1 0h0m-3 0h0m0-7h0m-4 19h0m8-4h0m0 5h0m2-11h0m0 5h0m1-2h0m0 0h0m0 3h0m0-1h0m0 6h0m0-2h0m2-8h0m1 5h0m1-6h0m-4 12h0m-3 11h0m-2-5h0m-1-1h0m-1-3h0m0 6h0m0-2h0m0-5h0m-1 2h0m-1 8h0m0 0h0m-2-8h0m0 8h0m-2-5h0m-3-2h0m-1 8h0m2 7h0m0 4h0m0-7h0m1-4h0m0 2h0m1 0h0m0-1h0m1-1h0m0 9h0m0-7h0m0 4h0m0-2h0m1 1h0m0 4h0m0-3h0m1-5h0m0 0h0m0 8h0m0-5h0m0 1h0m1-4h0m0 10h0m0-7h0m0-1h0m0-3h0m0 7h0m1-4h0m0 2h0m4-4h0m1 0h0m1-1h0m-9 12h0m-1 3h0m-2 0h0m0 5h0m0 2h0m-1-5h0m0-4h0m-1-1h0m0 4h0m0 4h0m0-2h0m-1-5h0m0 10h0m-1 0h0m0 0h0m0-4h0m0 3h0m-1 0h0m0-9h0m0 7h0m-1 2h0m-1-1h0m-1 1h0m0-2h0m-1-3h0m-2 18h0m1-10h0m0 7h0m0 1h0m0 0h0m0 0h0m1 2h0m0-2h0m0 2h0m0-4h0m1 0h0m0-6h0m0 10h0m1-6h0m2-5h0m0 0h0m1 7h0m1-5h0m0 3h0m1 0h0m-8 18h0m0-1h0m0-8h0m-1 1h0m0 5h0m-1-4h0m0 3h0m-1 1h0m0 2h0m0 0h0m0-5h0m-1 6h0m0-4h0m-1 1h0m-2 9h0m0 6h0m0-2h0m0-1h0m1 3h0m0 0h0m0-7h0m0 1h0m1 4h0m0-6h0m0 6h0m0 0h0m0-2h0m0 0h0m0-4h0m1 6h0m0-1h0m0-2h0m0-5h0m1 2h0m0-3h0m0 4h0m0-2h0m0-1h0m4 0h0m-6 11h0m-1 0h0m0 7h0m0 0h0m0-2h0m0-3h0m0-2h0m-1 1h0m0-1h0m0 0h0m0 8h0m0-4h0m-1 1h0m0 3h0m0-2h0m0 2h0m0-6h0m0 8h0m0-4h0m0 2h0m-1-7h0m0 5h0m0-2h0m-1 7h0m0 0h0m0-1h0m-2 13h0m0-3h0m0-1h0m1 4h0m0-1h0m0-1h0m0 1h0m0 0h0m0 1h0m1-8h0m0-2h0m0 6h0m0-5h0m1-2h0m0 1h0m1 2h0m0-3h0m-3 13h0m-1 0h0m0-1h0m0 0h0m0 1h0m-1 9h0m0-5h0m0 4h0m0-6h0m0 2h0m0-1h0m0 0h0m0-2h0m-1 7h0m0-3h0m0-2h0m0 1h0m0-1h0m0 6h0m0-1h0m0-4h0m-1 6h0m0-4h0m0 1h0m-2 10h0m0 2h0m0 3h0m0-1h0m0-2h0m1-3h0m0-2h0m0 4h0m0 1h0m0 0h0m0-6h0m0 3h0m0 0h0m0 4h0m0-2h0m0-1h0m1-4h0m0 0h0m0-1h0m2 0h0m-4 13h0m0 1h0m0-2h0m0-1h0m0 1h0m-1 4h0m0 0h0m0-3h0m0 5h0m0-1h0m0 0h0m0 2h0m0-4h0m0 4h0m-1 2h0m0 0h0m0-3h0m0 1h0m0 3h0m0-2h0m0 2h0m0 0h0m0-3h0m0 3h0m-1 3h0m0 1h0m0-1h0m0 0h0m0-1h0m0 1h0m0-1h0m0 0h0m0 2h0m1-3h0m0 1h0" stroke="#1a5f9e" stroke-width="10.4" stroke-linecap="round" stroke-opacity="0.3"/>
<path d="M1804 1507h0m-4 4h0m-14 5h0m4 5h0m6-4h0m2 1h0m-5 8h0m-7-2h0m-4 6h0m-19 3h0m0-5h0m-20 14h0m13-3h0m12 1h0m2 4h0m3 0h0m4-8h0m5 21h0m-10-3h0m-6 0h0m-2-1h0m-5 0h0m-1 6h0m-5-2h0m-13 13h0m2-1h0m4-9h0m1 11h0m1-10h0m0 1h0m0 2h0m5-2h0m0 0h0m2 8h0m2-9h0m0 10h0m6-5h0m3 4h0m2 0h0m1-8h0m-4 14h0m-5-3h0m0 7h0m-4-6h0m0 1h0m-3-3h0m0 5h0m-1 5h0m-2-10h0m0 5h0m0-5h0m0 7h0m-1-4h0m0 8h0m-1-10h0m0 3h0m-1 3h0m-6 1h0m0 3h0m-3 0h0m-3-2h0m0 0h0m-5 2h0m-2-5h0m1 9h0m3 7h0m1-9h0m0 8h0m0-7h0m2 8h0m2-4h0m1-1h0m0-2h0m1-3h0m1 2h0m0 6h0m1 1h0m0-2h0m3 4h0m0-7h0m0 4h0m1-6h0m0 8h0m1-9h0m1 0h0m1 9h0m0-10h0m1 8h0m0-6h0m7-2h0m6 12h0m-5 3h0m-8 4h0m0-3h0m0 2h0m-4-5h0m0 2h0m-3 1h0m-2 2h0m-1-1h0m0-2h0m-1 5h0m0-4h0m0 3h0m-1-1h0m0-6h0m-1 10h0m0-4h0m-3 2h0m0 2h0m-3-5h0m-1 3h0m-1-3h0m-1 3h0m0-2h0m-3-4h0m0 8h0m-3 13h0m1-6h0m1 4h0m2-3h0m0 4h0m0-6h0m0 7h0m1-3h0m0 3h0m2-3h0m0-3h0m2 4h0m0 1h0m1-10h0m5 3h0m-3 20h0m-1-11h0m-1 11h0m0-4h0m-1-3h0m-1 4h0m-2-6h0m0 2h0m0-1h0m0 6h0m-1-6h0m0-3h0m-1 10h0m-1-5h0m-1 1h0m0-2h0m0 2h0m0 5h0m-5-10h0m-2 10h0m-1 11h0m1-4h0m1-2h0m0 6h0m0-2h0m0 1h0m1 2h0m0-4h0m0-1h0m1-3h0m2 3h0m0 3h0m1-6h0m1 6h0m0-1h0m0-6h0m1 3h0m0 5h0m1-6h0m0 0h0m1-2h0m1-1h0m2 5h0m0-5h0m0 2h0m0-1h0m3 3h0m0 2h0m3-4h0m-12 19h0m-1-1h0m-3-7h0m0 1h0m0 6h0m0-5h0m-1 0h0m-2 0h0m-2 5h0m0-3h0m0 5h0m0-1h0m-1-10h0m-1 3h0m0 1h0m0 4h0m-1 0h0m-2 1h0m-4 9h0m0-4h0m1 5h0m1-5h0m0 7h0m1-6h0m0 2h0m0-1h0m1 1h0m0-3h0m1-2h0m0 7h0m1 2h0m0 1h0m0 0h0m0-6h0m0 7h0m1-4h0m0-1h0m1-1h0m1-1h0m0-4h0m1 4h0m0-3h0m1-1h0m0 1h0m0 6h0m1 4h0m1-2h0m0-4h0m3-2h0m2-2h0m-8 11h0m-4 2h0m-1-1h0m0 6h0m-1-1h0m0 1h0m0-7h0m-1 2h0m0-2h0m-1 11h0m0-11h0m-1 0h0m0 4h0m0 6h0m0-5h0m-1-1h0m-1-1h0m0 4h0m-1-2h0m-2 2h0m0 0h0m-1 3h0m-3-8h0m-2 18h0m1 2h0m0-5h0m1 5h0m1-1h0m0 2h0m1-3h0m1-5h0m1-1h0m0 3h0m0 2h0m0-5h0m0 5h0m0 2h0m1-9h0m0 10h0m0 0h0m1-3h0m0 0h0m0-1h0m0-4h0m0 4h0m0 1h0m0-6h0m0 0h0m0 4h0m0 1h0m0-5h0m3 1h0m0-1h0m1 0h0m0 10h0m1-11h0m-4 12h0m-2 3h0m-1-2h0m0 10h0m0-9h0m-1 4h0m0 2h0m0-7h0m0 2h0m-1-1h0m-1 1h0m0 2h0m0 2h0m0-1h0m0-2h0m-1-4h0m0 4h0m0 2h0m-1 1h0m0 3h0m0-7h0m0 4h0m0-2h0m-1 0h0m-1 6h0m0-5h0m0 1h0m-1 2h0m0-2h0m0 4h0m-1-2h0m-6 14h0m3-1h0m0-2h0m0 2h0m1-4h0m0 1h0m0 1h0m2-3h0m1-2h0m0 6h0m0-1h0m0-4h0m1-2h0m0 5h0m0-3h0m0 2h0m0-3h0m1 2h0m0 0h0m0 0h0m1-1h0m0-4h0m0 5h0m1-2h0m0-1h0m0 9h0m-3 4h0m-1 0h0m-2-3h0m-1 0h0m0 3h0m0 0h0m0-3h0m-1 2h0m0 5h0m0-1h0m0-4h0m0 1h0m-1 0h0m0 4h0m0 3h0m0 0h0m0-6h0m-1 7h0m0 0h0m0-11h0m0 2h0m-6 15h0m1 5h0m1-4h0m0 5h0m0-2h0m1-6h0m0 8h0m1-6h0m0 4h0m1-8h0m0 0h0m0 3h0m1 0h0m1 2h0m0-4h0m-3 12h0m-1-1h0m-1 4h0m0-1h0m0-1h0m0-2h0m0 6h0m0-3h0m0-3h0m-1 9h0m0 0h0m0-5h0m-1 2h0m0 4h0m0-8h0m-1 5h0m0 0h0m-3 15h0m1-3h0m0 3h0m0-7h0m1 1h0m0-3h0m0 4h0m0 5h0m0-6h0m0-1h0m0 5h0m0-2h0m1-7h0m0 4h0m0 1h0m0-2h0m0 4h0m0-6h0m1 1h0m-3 13h0m0-1h0m0-2h0m-1 7h0m0-5h0m0 2h0m0 0h0m0 2h0m0 3h0m0-2h0m0-7h0m0 1h0m0 5h0m0-1h0m-1 2h0m0 3h0m0 0h0m0-2h0m0-4h0m0 7h0m0-3h0m0-1h0m0-2h0m0 5h0m-1-3h0m0 3h0m0 1h0m-2 10h0m0-2h0m0 1h0m0 1h0m1-5h0m0 2h0m0-4h0m0 4h0m0-2h0m0-1h0m0 0h0m0 3h0m0-4h0m0 6h0m0-1h0m0 0h0m0-7h0m0 6h0m0-3h0m0 0h0m0 3h0m1-6h0m0 4h0m0-2h0m0 2h0m0 0h0m-2 8h0m0 1h0m-1 1h0m0 2h0m0-1h0m0 5h0m0-7h0m0 4h0m0-3h0m0 2h0m0 0h0m0 1h0m0-1h0m0-2h0m-1 5h0m0 1h0m0 2h0m0-4h0m0 5h0m0 0h0m0-3h0m0-1h0m-1 6h0m0 2h0m0-2h0m0 2h0" stroke="#1a5f9e" stroke-width="10.4" stroke-linecap="round" stroke-opacity="0.3"/>
<path d="M1799 1508h0m-5 15h0m2-3h0m-8 8h0m-9-2h0m-4 9h0m-4-10h0m-8 10h0m-12 8h0m3 4h0m7-2h0m2-3h0m9-5h0m8-1h0m-11 16h0m-1 1h0m-3-4h0m-3 8h0m-1-1h0m-7 3h0m-3-2h0m-4 0h0m-1 1h0m-1-1h0m-1 1h0m-5 11h0m2-3h0m2-2h0m2 4h0m1-6h0m2 7h0m0 2h0m2-8h0m3-1h0m0-1h0m1 3h0m0 2h0m1-3h0m0 3h0m1-3h0m2 7h0m1-2h0m5 0h0m0-2h0m4 13h0m-7-7h0m0 10h0m-6-8h0m-2 4h0m-1-2h0m0 5h0m-1 2h0m0-11h0m0 6h0m-1 5h0m0-10h0m-1 5h0m0 0h0m-1 5h0m-2-8h0m0 4h0m-1-2h0m-1 0h0m0-2h0m-2 5h0m-1-8h0m0 9h0m-1-2h0m-1 4h0m-1-4h0m-9-1h0m0 15h0m1-1h0m0-1h0m2 0h0m1-6h0m0 1h0m5 4h0m0-6h0m1 8h0m1 3h0m0-11h0m0 8h0m0-8h0m1 8h0m1-7h0m0 3h0m0 2h0m1-1h0m3 6h0m3-9h0m3 2h0m0-3h0m0 9h0m1-4h0m2 4h0m12-10h0m-18 22h0m-4-8h0m-3 6h0m-1 1h0m0 0h0m-3-6h0m-1-1h0m0 3h0m0 0h0m-2 3h0m0 2h0m-1 1h0m0 0h0m-1-5h0m-1-3h0m0 5h0m-3-1h0m-7 15h0m2-10h0m3 10h0m0-9h0m0 5h0m1 3h0m0-1h0m1-7h0m0 0h0m0 6h0m2-4h0m1 7h0m1-4h0m3 2h0m0-7h0m3 0h0m-6 16h0m0-2h0m-1 7h0m0-9h0m-1 5h0m0-2h0m-1-3h0m0 6h0m-3 2h0m-2-2h0m0 3h0m-1-2h0m-1-3h0m0 0h0m-4-4h0m-8 3h0m-2 19h0m3-2h0m1 1h0m0-7h0m0 5h0m2-8h0m0 1h0m1 4h0m0 2h0m0 1h0m1-3h0m0 5h0m0-5h0m1 1h0m1-2h0m1 0h0m0-3h0m1 6h0m0 0h0m0 0h0m1 1h0m0-7h0m2 4h0m0 2h0m2 4h0m1-3h0m3-8h0m2 6h0m3-3h0m-5 12h0m-2-1h0m-1 1h0m-2 1h0m-1 1h0m-1 1h0m-1-2h0m-2 4h0m-1-4h0m0-2h0m0 4h0m-1-4h0m-1 8h0m0 1h0m0-6h0m-1 6h0m0 0h0m-1-7h0m0 4h0m0-7h0m0 10h0m-2-3h0m0-1h0m-1 4h0m-2-9h0m-7 19h0m4-8h0m2 8h0m0-4h0m1 6h0m0-2h0m1 1h0m1-8h0m0-2h0m1 11h0m0-9h0m0 0h0m1 9h0m2-5h0m3-5h0m3 3h0m8 0h0m1-3h0m-18 19h0m-2-6h0m0 3h0m-1-2h0m0 3h0m0-3h0m-1 7h0m0-2h0m0-7h0m0 8h0m-1-1h0m0 1h0m0 1h0m0-8h0m0 2h0m0 1h0m-1 1h0m0 4h0m-1-1h0m0-6h0m0 4h0m0-5h0m0 5h0m-1 3h0m0-3h0m0 1h0m-1-2h0m0 3h0m0-2h0m-1 4h0m0-9h0m-1 7h0m0-5h0m-1-1h0m-4 13h0m1 6h0m3-1h0m0-3h0m0 0h0m1-5h0m0 8h0m0-2h0m1-6h0m1 10h0m1-2h0m0-3h0m1-2h0m0 4h0m0-5h0m2 1h0m0-1h0m6 1h0m8 2h0m-16 6h0m-1 0h0m0 3h0m-1-1h0m-2 4h0m-1-6h0m0 7h0m-1-7h0m0 3h0m0 5h0m-1-8h0m0 8h0m0-5h0m-1-1h0m0 8h0m0-7h0m0-2h0m-1 2h0m0 4h0m-2-3h0m0 4h0m0-5h0m0-1h0m0-2h0m0 9h0m-1-2h0m0-5h0m0 9h0m0-1h0m0-4h0m-2 5h0m-3 9h0m3 1h0m0-3h0m0-4h0m0 8h0m0-3h0m0-4h0m1 3h0m0-3h0m0 3h0m0 2h0m1-3h0m2-4h0m0 4h0m0 0h0m3-4h0m-7 12h0m0-1h0m-2 3h0m0-1h0m0 3h0m-2-2h0m0 5h0m0 3h0m-1-3h0m0 0h0m0 0h0m0-4h0m-1 3h0m0-3h0m0-1h0m-1 5h0m-4 14h0m2-1h0m0 0h0m1-3h0m0 5h0m0-2h0m0-1h0m0 2h0m1-8h0m0 9h0m0-7h0m0 6h0m0-1h0m1-2h0m0 0h0m0-3h0m0-2h0m1 3h0m0 2h0m0-4h0m0 3h0m2-1h0m9 4h0m-8 11h0m-5-8h0m0 0h0m0 1h0m0 1h0m-1 0h0m0 4h0m0-1h0m-1 2h0m0-7h0m0 0h0m0 2h0m-1 2h0m0 7h0m0 0h0m0-3h0m0-2h0m0 0h0m0-4h0m0 6h0m0 2h0m0-4h0m-1-5h0m0 1h0m0 6h0m0-1h0m0-3h0m-4 19h0m1-4h0m0 3h0m0 1h0m0 0h0m0 0h0m0 0h0m1-2h0m0 2h0m0-5h0m0-1h0m1-4h0m0 5h0m0 0h0m0 4h0m1-8h0m0-1h0m0 4h0m0 0h0m0-3h0m1-2h0m0 0h0m2 17h0m-5-5h0m-1 3h0m0-2h0m0 4h0m0-5h0m0 2h0m-1 0h0m0 3h0m0 0h0m0 0h0m0-3h0m0 1h0m-1 4h0m0 1h0m0 1h0m0 2h0m0-4h0m0 2h0m0 2h0m0-3h0m0-5h0m-1 7h0m0 0h0m0 0h0m-3 13h0m1-5h0m0 3h0m0 0h0m0 0h0m0 2h0m0-5h0m0 4h0m0-4h0m1 2h0m0-6h0m0 6h0m0 2h0m0-6h0m0 2h0m0-1h0m0 0h0m0 1h0m0-6h0m0 5h0m0 2h0m1-6h0m0 2h0m0-1h0m0-1h0m0 3h0m0-4h0m0 0h0m1 1h0m0 0h0m0 0h0m-3 11h0m0 1h0m0 0h0m0-1h0m0 0h0m-1 6h0m0-6h0m0 6h0m0-3h0m0 2h0m0-3h0m0-1h0m0 0h0m0 2h0m-1 5h0m0 1h0m0 1h0m0-1h0m0-1h0m0 1h0m0 1h0m0 0h0m0 0h0m0 0h0m0-2h0m-1 5h0m0 1h0m0-1h0m0 2h0m0-1h0m1-2h0m0 0h0m0 0h0" stroke="#1a5f9e" stroke-width="10.4" stroke-linecap="round" stroke-opacity="0.3"/>
<path d="M1830 1506h0m-21-2h0m-10 6h0m-15 2h0m3 11h0m4-1h0m11-1h0m-51 20h0m7 4h0m0-7h0m1 7h0m0-5h0m1 1h0m11 6h0m3-2h0m8-9h0m-7 22h0m-8-10h0m-2 4h0m-19 6h0m-2 1h0m0-11h0m-8 4h0m-5 11h0m4-2h0m4 6h0m1-6h0m2 4h0m0-3h0m1 6h0m1-1h0m2 2h0m6 2h0m1-3h0m3-6h0m0 4h0m0 5h0m2-4h0m15 11h0m-12-1h0m0-1h0m-4-2h0m-3 4h0m-1 3h0m0-7h0m-1 9h0m0-1h0m0 0h0m-1-3h0m-1-3h0m-1 5h0m0-5h0m-1-2h0m0 9h0m0-3h0m-2-2h0m-1 5h0m-2-7h0m0 7h0m-2-4h0m0-6h0m-1 5h0m-1 3h0m-1 1h0m-2-3h0m-3 4h0m0-2h0m-8 12h0m6-5h0m1 6h0m2-8h0m3 9h0m2 0h0m1-8h0m2 2h0m0 0h0m1 1h0m1 2h0m0-6h0m1-2h0m1 4h0m1 0h0m1-3h0m1 7h0m0-5h0m1 7h0m0-3h0m0-4h0m2-3h0m0 9h0m2-4h0m0 2h0m1-4h0m-7 10h0m-2 4h0m-1-3h0m-2-1h0m-1 8h0m0-6h0m-1 0h0m-2 7h0m-2-3h0m0-4h0m0 5h0m0-3h0m-2-3h0m-3 8h0m-2-2h0m0 3h0m-3-8h0m0 2h0m-1 3h0m-3-3h0m0 9h0m0 4h0m3 1h0m1 0h0m0 1h0m2 3h0m1-4h0m0 3h0m0-7h0m0 5h0m0 3h0m1-7h0m3 2h0m1-5h0m0 10h0m0-6h0m3-1h0m0 0h0m-2 15h0m-5-7h0m-2 6h0m0 5h0m0-8h0m-1 4h0m0-1h0m-1 4h0m-1 0h0m0 1h0m-2-7h0m0 1h0m0-2h0m0 0h0m-1-1h0m0 4h0m-1 0h0m0 2h0m-1 3h0m-2-8h0m-3 0h0m-4 5h0m-1-7h0m-1 22h0m3-9h0m0-2h0m1 10h0m0-1h0m1-4h0m1 0h0m1 2h0m2 1h0m1-4h0m0-1h0m0-3h0m1 3h0m0 4h0m1 1h0m0-6h0m0 0h0m0 2h0m1 7h0m1-9h0m0 0h0m2 0h0m1 7h0m0-8h0m0 10h0m1 0h0m1-7h0m1-1h0m0 5h0m4-8h0m-8 12h0m-3 1h0m0 3h0m-6-1h0m-1 0h0m0 3h0m0 3h0m-1-5h0m0 4h0m-1-8h0m0 8h0m-1 3h0m0-7h0m-1 5h0m-1-1h0m0 1h0m-1-4h0m-1 4h0m-4 14h0m1-5h0m3-2h0m1-4h0m0 6h0m0-5h0m0-1h0m1 2h0m0 4h0m1-6h0m0 1h0m0 4h0m0 0h0m0 5h0m3-8h0m0-2h0m1 11h0m0-9h0m2-1h0m2 0h0m-5 12h0m-1-1h0m0 0h0m0 7h0m-1-2h0m0-4h0m0 0h0m-1 4h0m-1 4h0m0-8h0m-1-1h0m-1 3h0m-1-1h0m-2 4h0m0-2h0m-1 7h0m-2-9h0m0 8h0m-1-1h0m-2-6h0m-3 18h0m1 0h0m0-7h0m1 7h0m0-4h0m0-5h0m1 0h0m1 6h0m0 1h0m0 3h0m1-9h0m0 4h0m0 5h0m0-4h0m0 5h0m1-2h0m0-8h0m1 3h0m2 1h0m0-5h0m0 7h0m-1 6h0m-1 1h0m-2 5h0m-1-4h0m0-3h0m0 1h0m0 1h0m-1-1h0m0 5h0m-1-5h0m0 2h0m-1 3h0m0-6h0m0 2h0m-1-2h0m0 10h0m0-9h0m0 4h0m-1 0h0m0-3h0m-3 6h0m-6 14h0m1-2h0m1-3h0m1 3h0m0 2h0m0 0h0m1 0h0m0 1h0m0-3h0m0-4h0m1 0h0m0 6h0m0 0h0m0-7h0m0-2h0m1 6h0m1 0h0m0-2h0m0 6h0m1-5h0m1-4h0m2-1h0m1 3h0m-7 9h0m-1 0h0m0 1h0m-1 2h0m0-4h0m0 11h0m0-11h0m0 0h0m-1 9h0m0-6h0m0 1h0m-1 6h0m0-3h0m0-6h0m0 5h0m0-1h0m0-3h0m-1 6h0m0-6h0m0 9h0m0-4h0m-1 4h0m0-1h0m0 0h0m0-6h0m-1 4h0m0 1h0m-2 2h0m1 8h0m0-2h0m0 0h0m0-2h0m0-2h0m1 5h0m0 2h0m0 0h0m0-6h0m0 1h0m0-3h0m0 2h0m0 6h0m0-5h0m1 3h0m0 1h0m0 3h0m0-8h0m0 3h0m0 5h0m1-6h0m1 1h0m-3 9h0m0 1h0m0 1h0m-1 6h0m0-6h0m0 3h0m0-3h0m0 2h0m-1-3h0m0-3h0m0 0h0m0 6h0m0 1h0m0-4h0m0 2h0m-1-4h0m0 6h0m0-2h0m0 5h0m-1-1h0m0 0h0m-1-7h0m-3 21h0m0-2h0m1-2h0m0 4h0m1-5h0m0 0h0m0 5h0m0-9h0m0 6h0m0-6h0m0-2h0m0 5h0m0 3h0m0-6h0m0 4h0m1-4h0m0-2h0m1 1h0m0 4h0m3-5h0m-5 13h0m0 2h0m-1-2h0m0 0h0m0 1h0m0-2h0m0 0h0m-1 8h0m0-1h0m0-3h0m0-4h0m0 5h0m0-2h0m0-2h0m0 1h0m0 3h0m0 0h0m-1 4h0m0-4h0m0 4h0m0-1h0m0 3h0m0-5h0m0 2h0m0-1h0m0 1h0m0-5h0m0 0h0m-1 8h0m0-2h0m0-1h0m0 1h0m-2 11h0m0 1h0m0 2h0m0-3h0m0 3h0m0-1h0m0-5h0m0 1h0m0 2h0m1 0h0m0-1h0m0 2h0m0-6h0m0 4h0m0-3h0m0 4h0m0-2h0m0-4h0m0 7h0m0-4h0m1-4h0m0 1h0m0-2h0m0 0h0m0 1h0m0 0h0m0 0h0m1 0h0m-3 11h0m0 0h0m-1 1h0m0 2h0m0 2h0m0-1h0m0-2h0m0 3h0m0-2h0m0 0h0m0 1h0m0-2h0m0 6h0m0-4h0m0-1h0m0 4h0m-1 2h0m0 1h0m0-1h0m0 2h0m0-3h0m0 0h0m0 1h0m0-1h0m0 0h0m0 3h0m0-2h0m0 2h0m0 0h0m-1 3h0m0 1h0m0-2h0m0 2h0m1-3h0m0 0h0m0 0h0" stroke="#1a5f9e" stroke-width="10.4" stroke-linecap="round" stroke-opacity="0.3"/>
<path d="M1775 1521h0m9-4h0m13 1h0m-1 14h0m-14-5h0m-8-1h0m-10 3h0m-3 4h0m-1-2h0m-7 2h0m6 14h0m1 0h0m3-2h0m4-8h0m8 1h0m0 2h0m7 19h0m-9-7h0m-8 5h0m-3-9h0m-6 6h0m-1-1h0m-1 4h0m0-6h0m-3 2h0m-1 6h0m-1-2h0m-2 2h0m-6-5h0m0-1h0m-5 12h0m5 0h0m1 4h0m0-1h0m3 2h0m1-9h0m3 3h0m0 5h0m2 0h0m3-1h0m1-2h0m4 2h0m0-5h0m0-3h0m0 2h0m21 2h0m-8 10h0m-11 8h0m-9-1h0m0-7h0m-1 2h0m-1 4h0m-3-1h0m-1-7h0m0 3h0m-3-2h0m-1 9h0m-1-1h0m0-4h0m0-1h0m-1 5h0m-4-7h0m0 6h0m0 1h0m-5 0h0m-5 2h0m5 7h0m1-6h0m3 5h0m2-3h0m0 2h0m1-2h0m0 9h0m1-6h0m0-1h0m1 7h0m1-5h0m2-6h0m1 7h0m2-3h0m2-3h0m2 8h0m1-9h0m2 0h0m2 1h0m1-1h0m2 2h0m10-2h0m-20 21h0m-1 0h0m-3-4h0m-3 4h0m-2 0h0m0-9h0m-2 10h0m0-9h0m0 5h0m-3 3h0m0-5h0m0 3h0m-1-3h0m-2 5h0m0 1h0m-1 1h0m0-2h0m-1-5h0m-1 6h0m0-1h0m-2-8h0m-1-1h0m-1 9h0m-7 14h0m4-10h0m1 4h0m2-5h0m1 11h0m2 0h0m0 0h0m0-1h0m0-6h0m5 1h0m1 4h0m0 2h0m0-4h0m2-7h0m1 2h0m1-2h0m-1 17h0m-3 2h0m0-5h0m0-2h0m0 0h0m-2 5h0m-1 2h0m-1-1h0m0-1h0m0 6h0m-1-9h0m0 2h0m0-1h0m-1 3h0m0 1h0m-1-3h0m0-4h0m-1 5h0m0-2h0m0-1h0m-1 5h0m0 1h0m0-2h0m0 0h0m0-6h0m-1 1h0m-3 5h0m0-1h0m0 4h0m0 1h0m-8 10h0m1 2h0m0 1h0m1-7h0m1 0h0m1-2h0m0 8h0m1 1h0m1-9h0m0 6h0m0-8h0m1 4h0m1 0h0m0 0h0m1 7h0m0-7h0m0-4h0m0 5h0m0-5h0m2 2h0m1 7h0m0-9h0m1 11h0m1 0h0m0-11h0m1 4h0m0-4h0m1 0h0m0 7h0m1 3h0m1-4h0m7 2h0m-13 5h0m-2 1h0m-1 2h0m0 5h0m-1-1h0m-1-6h0m0 3h0m0-5h0m0 2h0m0 1h0m0 7h0m-1-4h0m0-5h0m0-1h0m-1 4h0m0-3h0m-4 4h0m0 1h0m-1 1h0m0-2h0m0 3h0m0-3h0m-1 2h0m0 1h0m0-6h0m-3 7h0m0-5h0m-2 7h0m0 9h0m0 1h0m0 2h0m1 0h0m1 0h0m0-4h0m1 4h0m0-3h0m1-2h0m0-4h0m1 6h0m0 2h0m1-1h0m0-8h0m1 1h0m1 2h0m0 0h0m0 6h0m0-2h0m1-5h0m0-1h0m1 4h0m2 1h0m-6 5h0m-1 0h0m0 1h0m-1 1h0m0 5h0m0-3h0m0 7h0m0-8h0m0 4h0m0-5h0m0-1h0m0 3h0m-1-2h0m0 2h0m-1 1h0m-2-3h0m0 1h0m0 6h0m-1 0h0m0-4h0m-1-2h0m0 0h0m-1 4h0m-1-1h0m0 3h0m0-8h0m0 9h0m-1-1h0m-5 11h0m0-2h0m1 5h0m0-5h0m1 1h0m0 0h0m1 0h0m0 3h0m0-5h0m0 2h0m1-7h0m0 2h0m1 6h0m1-1h0m0-4h0m1 3h0m0 5h0m0-4h0m1-7h0m0 6h0m0-4h0m1 2h0m0-2h0m0 0h0m1 6h0m0-8h0m1 2h0m3 5h0m-2 14h0m0-5h0m0-4h0m-4 6h0m-2 2h0m-1-4h0m0-1h0m-1 4h0m0-4h0m-1 1h0m-1 0h0m0 0h0m-1 3h0m0-7h0m0 3h0m0 1h0m-2 1h0m0 5h0m-1 0h0m-1-3h0m0 4h0m0-5h0m-6 16h0m2 1h0m1-4h0m0-1h0m0 1h0m0 4h0m0 0h0m0-6h0m1 4h0m1 2h0m0-3h0m0 1h0m0-5h0m0-1h0m1-1h0m0 7h0m1-1h0m0-1h0m0-7h0m0 9h0m2-7h0m0 0h0m-3 12h0m-2-2h0m0 7h0m0-4h0m0 8h0m-1-10h0m0 0h0m0 3h0m0-1h0m0 1h0m-1-2h0m0 7h0m0-3h0m0-1h0m-1 5h0m0-4h0m0-1h0m0-5h0m0 11h0m0-2h0m0-8h0m0 6h0m0-4h0m0 7h0m0-7h0m0-2h0m-1 1h0m-1 0h0m0 3h0m-2 5h0m-2 5h0m1 4h0m1 1h0m0-2h0m1-4h0m0 7h0m0 1h0m0 0h0m0-7h0m0 1h0m0 4h0m0-3h0m0 0h0m0 3h0m1 0h0m0-4h0m0-4h0m0 0h0m1 1h0m0 6h0m0-6h0m3-1h0m10 6h0m-17 7h0m0 5h0m0-1h0m0 6h0m-1-8h0m0 4h0m0 4h0m0-5h0m-1-2h0m0 5h0m0 0h0m0-2h0m0-1h0m-2 4h0m-2 11h0m0 1h0m1 0h0m0-1h0m0 0h0m1-2h0m0-4h0m0 7h0m0-3h0m0-5h0m0 7h0m0-2h0m0 0h0m0 0h0m1-7h0m0 2h0m0 1h0m0 6h0m0-7h0m0-1h0m0 3h0m0 3h0m0 1h0m1 0h0m0-4h0m1-2h0m-3 12h0m-1-2h0m0 2h0m-1-1h0m0 3h0m0 0h0m0 4h0m0-5h0m0 1h0m0-3h0m-1 5h0m0 1h0m0-5h0m0 8h0m0-3h0m-1 3h0m0 1h0m0 0h0m-2 12h0m0-2h0m1-1h0m0-7h0m0 2h0m0 2h0m0-5h0m0 5h0m0 0h0m0 1h0m0-1h0m0 2h0m1-3h0m0-3h0m0 2h0m0 0h0m0 0h0m1-3h0m1 2h0m-4 11h0m-1 4h0m0 1h0m0-6h0m0 5h0m0 2h0m0-2h0m0 0h0m0-1h0m0 1h0m0 1h0m0 1h0m0 0h0m0-5h0m0 1h0m-1 5h0m0 1h0m0 0h0m0-1h0m0 1h0m0-2h0m0 2h0m-1 6h0m0-1h0m0-1h0" stroke="#1a5f9e" stroke-width="10.4" stroke-linecap="round" stroke-opacity="0.3"/>
<path d="M1828 1511h0m-57 12h0m24-5h0m-35 21h0m5 0h0m3 2h0m16-1h0m12-4h0m-12 23h0m-11-1h0m-5-1h0m-8 1h0m0-10h0m0 1h0m-3 8h0m0-7h0m0 9h0m-5-8h0m-5 5h0m0-4h0m0 6h0m-3-3h0m-11 16h0m4-2h0m3-2h0m3 4h0m0-7h0m2 4h0m2-1h0m4 3h0m2-4h0m0 3h0m1-6h0m1 4h0m2-7h0m4 7h0m12 4h0m-11 10h0m-4-9h0m-2 4h0m-3-3h0m-2 6h0m-1-6h0m-1 7h0m0 0h0m-1 2h0m0-8h0m0 6h0m-1 0h0m0 3h0m0-4h0m-1 0h0m-1 2h0m-1-4h0m-1-5h0m0 0h0m-1 4h0m-1 0h0m0 0h0m0 1h0m-3-5h0m-1 9h0m-1 0h0m-2 2h0m-3-1h0m-5 12h0m5-2h0m0 2h0m1 1h0m0-3h0m1 1h0m1-6h0m0 6h0m3-1h0m0-3h0m0 2h0m1-1h0m2-6h0m3 10h0m0-2h0m1-2h0m3-5h0m4 5h0m0 0h0m0 3h0m3-8h0m2 3h0m2 2h0m-10 8h0m-2 6h0m-3-2h0m0-3h0m-1 0h0m-1 6h0m0-5h0m0 7h0m-1-1h0m0-1h0m-1 1h0m0-3h0m-3-1h0m0 2h0m-2 0h0m0-5h0m0 0h0m0 2h0m-1-5h0m0 3h0m-1 5h0m0 2h0m-2 0h0m-2-6h0m0 2h0m-1 5h0m0-1h0m-1 0h0m-1 0h0m-5 6h0m2-1h0m1 5h0m4 1h0m1-7h0m1 1h0m1-1h0m0 8h0m0-9h0m0 2h0m1 6h0m0 0h0m1-9h0m1 6h0m2 1h0m0 1h0m0-1h0m1-3h0m0 1h0m3-1h0m0-4h0m0 4h0m5 3h0m-4 9h0m-1 4h0m-6-4h0m0 4h0m-1-4h0m-1 1h0m0-5h0m0 7h0m0 0h0m-2 4h0m0-9h0m-2 4h0m0-1h0m-1-5h0m0 2h0m-1 0h0m0 7h0m-1-6h0m0 8h0m0-1h0m0 1h0m-1-7h0m0 6h0m-1-2h0m0 3h0m0 0h0m-1 0h0m-1-11h0m0 1h0m0 7h0m-1-1h0m-2-7h0m-1 10h0m-2 9h0m0 2h0m2 2h0m2 0h0m0-5h0m0-1h0m0 3h0m1 2h0m0-1h0m0-9h0m0 8h0m0-7h0m0 6h0m1-4h0m1 0h0m1 1h0m0 5h0m0-5h0m2-1h0m2-3h0m1 8h0m3-3h0m1-4h0m0-1h0m7 2h0m2-2h0m-18 12h0m-2 2h0m0 3h0m-2 5h0m0-8h0m-1 4h0m-1 2h0m-1-2h0m-2 3h0m0-6h0m-1 6h0m0-2h0m-2-4h0m-2 1h0m-7 19h0m1-3h0m2 3h0m1-4h0m1-4h0m0 1h0m0 5h0m1-3h0m1 4h0m0-2h0m0-6h0m1 1h0m0 7h0m0-3h0m1-1h0m2 2h0m1-5h0m0 5h0m0-3h0m0 4h0m0 1h0m1 0h0m2-9h0m4-1h0m-6 12h0m0 1h0m-2-1h0m0 1h0m-1-1h0m0 0h0m-1 8h0m-1-3h0m0-4h0m0 0h0m0 7h0m0-3h0m0-5h0m-1 5h0m0 2h0m-1 3h0m0 0h0m-1-5h0m0 2h0m-2-4h0m0-1h0m0 7h0m-1 0h0m0 0h0m-1 0h0m0-1h0m-1 3h0m-2-3h0m0-4h0m-2 19h0m1 0h0m2-1h0m0-6h0m1 5h0m0-7h0m0 4h0m0 2h0m0-1h0m1-5h0m0-1h0m1 8h0m1-3h0m6-1h0m-9 14h0m0-2h0m-1 3h0m-1-5h0m0 6h0m-1-3h0m-1-2h0m-1 7h0m0 0h0m0-8h0m0 3h0m-1 1h0m0-4h0m0 8h0m0 0h0m-1-1h0m-1-1h0m-1 1h0m-2 1h0m-2 11h0m1-1h0m1-2h0m1 0h0m0-4h0m0 2h0m0 5h0m1-6h0m0-4h0m0 9h0m0-8h0m1 10h0m0-3h0m0-2h0m0 3h0m0-1h0m0-2h0m1-2h0m0 6h0m0-7h0m0 8h0m1-6h0m0 0h0m1-4h0m1-1h0m0 8h0m5-5h0m-8 9h0m-3 4h0m0-4h0m0 10h0m0 0h0m0-9h0m-1 0h0m0 9h0m-1-4h0m0-1h0m0-4h0m-1-1h0m0 3h0m0 8h0m-1-2h0m-1-3h0m0 5h0m0-9h0m0 4h0m-1 3h0m-3 14h0m2-6h0m0 1h0m0-3h0m0 2h0m0-2h0m1 5h0m0-6h0m0 4h0m0 1h0m1-6h0m0 5h0m0-2h0m0-2h0m1 0h0m0 8h0m0-4h0m0-6h0m0 1h0m1 1h0m0 3h0m1-2h0m-3 9h0m-2 4h0m0 3h0m-1 0h0m0-3h0m0 4h0m0-2h0m0-6h0m0 3h0m-1 5h0m0-3h0m0-1h0m-1 6h0m-1 1h0m-1 0h0m-2 6h0m0 3h0m1 1h0m0 1h0m1 1h0m0-4h0m0 4h0m0-8h0m0 5h0m0-2h0m0 3h0m0-4h0m1 3h0m0-2h0m0-1h0m0-2h0m0-1h0m0-2h0m0 1h0m1 7h0m0-8h0m0 2h0m1-2h0m-3 13h0m-1 0h0m0 3h0m0-4h0m0 8h0m-1-4h0m0 2h0m0 2h0m0-7h0m0 3h0m0 3h0m0-5h0m-1 6h0m0 3h0m0-6h0m0 6h0m0-5h0m0 1h0m-1 2h0m0 2h0m0 0h0m-2 9h0m0 2h0m0 0h0m0-2h0m0-2h0m0 5h0m1-7h0m0 5h0m0 0h0m0-3h0m0 0h0m0-1h0m0 3h0m0 0h0m0-8h0m1 2h0m0 0h0m0 0h0m0-1h0m0 2h0m0 0h0m0-2h0m0 1h0m1-2h0m-3 12h0m0 1h0m0-1h0m0 1h0m-1 5h0m0-4h0m0-2h0m0 2h0m0-1h0m0 2h0m0 0h0m0 0h0m0 2h0m0 1h0m0-4h0m0 3h0m0 1h0m0-3h0m0 1h0m0 2h0m0-2h0m0-1h0m-1 8h0m0-1h0m0 0h0m0 1h0m0-2h0m0 1h0m0 1h0m0-1h0m0 0h0m0 1h0m0-1h0m0 1h0m0 0h0m0-6h0m-1 9h0m0 0h0m0 1h0m1-2h0m0-1h0m0 0h0m0 0h0m0 0h0" stroke="#1a5f9e" stroke-width="10.4" stroke-linecap="round" stroke-opacity="0.3"/>
<path d="M1827 1503h0m-54 13h0m7-2h0m26-1h0m5 4h0m-22 9h0m-36 19h0m2-6h0m2 7h0m10-10h0m2 6h0m1 5h0m-4 11h0m-5 0h0m0-3h0m-4 4h0m-3 0h0m-3-3h0m-1-4h0m-12 6h0m-1 1h0m4 7h0m4-2h0m3-4h0m0 4h0m1 0h0m0 6h0m5-4h0m0 0h0m0-1h0m3-5h0m0 11h0m1-9h0m15 6h0m-16 9h0m-2-4h0m0 0h0m-1 10h0m-1-7h0m0 7h0m-2-9h0m0 5h0m0 3h0m-1-2h0m0-8h0m-2 3h0m-1 7h0m0-2h0m-1-7h0m-1 5h0m0-3h0m-1-2h0m-1 5h0m-2 5h0m-1-1h0m0-3h0m-1 2h0m-2 0h0m-1-3h0m-1 1h0m-2 3h0m-3 13h0m3-1h0m2-2h0m1 2h0m0-4h0m2 1h0m2-1h0m1-4h0m0 4h0m1-5h0m1 0h0m0 10h0m1-4h0m0 3h0m1-1h0m0-4h0m1 1h0m1 2h0m1-8h0m3 0h0m9 2h0m-11 12h0m-1 1h0m-3 1h0m-1-1h0m-3-3h0m-1 5h0m-1-2h0m-1-2h0m0-1h0m-1 4h0m-2-4h0m0 8h0m0-2h0m0-4h0m-1 0h0m0 8h0m0-10h0m0 10h0m-1 1h0m-1-3h0m0-8h0m0 10h0m-2-7h0m0 5h0m0-5h0m-1-1h0m0 2h0m-1 3h0m0 3h0m-1 1h0m0 0h0m-1-5h0m-1 3h0m-5 13h0m4-7h0m0 4h0m1-2h0m1-2h0m2 8h0m0-5h0m0 3h0m0 1h0m1-2h0m1-2h0m1-6h0m1 11h0m1 0h0m0-9h0m0 1h0m1 0h0m5 1h0m2 5h0m1-9h0m3 5h0m-4 11h0m-8 2h0m-2-6h0m0 1h0m-1 2h0m0-2h0m-1 5h0m-1 0h0m0-2h0m-1-1h0m-3-1h0m0-1h0m-1 0h0m-1 8h0m-2-1h0m-1 3h0m-2-11h0m-4 6h0m-4 14h0m5 2h0m3-1h0m1-3h0m0 3h0m0 2h0m0-4h0m0 4h0m0-7h0m1 4h0m0 1h0m0-4h0m0 5h0m2-4h0m0-1h0m1-4h0m0 4h0m0 1h0m2-4h0m2 6h0m1 3h0m1-9h0m3-1h0m2 2h0m-9 19h0m-1-5h0m0-2h0m-2 4h0m0-2h0m-2-3h0m0 0h0m0 7h0m0-5h0m0 1h0m-1 5h0m0-9h0m0-1h0m-1 2h0m-1 5h0m-1-4h0m0 8h0m-1-3h0m-1 0h0m0-7h0m0 2h0m-1-2h0m0 3h0m0 6h0m0-9h0m-1 8h0m-4 2h0m0 6h0m0 2h0m1 2h0m0-2h0m2 1h0m0-4h0m0 0h0m0 0h0m1-3h0m0 1h0m0 5h0m1-6h0m0-1h0m1 7h0m0-4h0m1 3h0m0-6h0m0 11h0m2-7h0m0-4h0m1 5h0m-4 14h0m-1 4h0m-1-6h0m-1 4h0m-1-4h0m0 2h0m-1-4h0m0-1h0m0 7h0m0-7h0m-1 8h0m-1-9h0m0 6h0m0-2h0m-1 4h0m0-8h0m-1 10h0m-1 0h0m0-3h0m-1 0h0m0 0h0m0 2h0m-1-6h0m0 1h0m-3 1h0m-2 17h0m0-6h0m3 3h0m1 0h0m0-4h0m0 3h0m0-4h0m1 6h0m0-7h0m0 9h0m1-1h0m0-5h0m0 5h0m0-8h0m0 0h0m0 4h0m1-2h0m0-2h0m0 0h0m1-2h0m0 2h0m0 0h0m1 0h0m0-2h0m1 7h0m1-5h0m2 3h0m-6 7h0m-1 7h0m0-4h0m0-2h0m-2 1h0m-1 5h0m0-5h0m0 3h0m-1-2h0m0 6h0m0-5h0m0-4h0m0 7h0m0-4h0m-1 6h0m0-3h0m-1 4h0m0-1h0m-1-1h0m0 3h0m-2 0h0m0-1h0m-1-4h0m0 0h0m-2 3h0m-2 10h0m0 3h0m1 1h0m1-6h0m0 5h0m1 1h0m0-3h0m0 2h0m0-10h0m0 1h0m0-1h0m0 6h0m2-1h0m0 0h0m0-5h0m0 5h0m0-2h0m0 7h0m0-6h0m2-2h0m0 0h0m1 3h0m1 1h0m0-2h0m0-2h0m2-1h0m-6 12h0m-1 1h0m-1-1h0m0 5h0m-1-1h0m0 6h0m0 0h0m0-6h0m-1-2h0m0 2h0m0-5h0m0 6h0m0-1h0m-1 0h0m0 1h0m0 2h0m0-6h0m-1 5h0m0-2h0m-1 5h0m-1 1h0m-4 12h0m3-1h0m0 0h0m0-3h0m0 2h0m0-2h0m1 3h0m0-6h0m0 6h0m0-10h0m1 1h0m0 3h0m0 5h0m0-2h0m0 1h0m1-8h0m1 7h0m1-7h0m4 8h0m-7 4h0m0 0h0m-1 5h0m0-3h0m0 3h0m-1 1h0m0-2h0m0 1h0m-1-2h0m0 3h0m0-6h0m0 6h0m0-2h0m-1 3h0m0 1h0m0-1h0m-1 4h0m0-5h0m0 5h0m0-4h0m0 0h0m-1 3h0m0-7h0m-3 18h0m0 2h0m1-1h0m0-3h0m0 0h0m0 1h0m0 3h0m1-11h0m0 5h0m0-2h0m0 3h0m0 3h0m0-4h0m0 0h0m0 6h0m0-6h0m0 3h0m0-2h0m1-6h0m0 3h0m0 2h0m0-1h0m0 1h0m0 6h0m0-4h0m1 2h0m0-6h0m0-3h0m0 0h0m0 2h0m1-1h0m-4 11h0m0 1h0m0 2h0m0-3h0m0 0h0m-1 5h0m0-2h0m0 2h0m0-5h0m0 4h0m0 4h0m0-5h0m-1 7h0m0-8h0m0 9h0m0-2h0m0 2h0m0-2h0m0-5h0m-1 7h0m-2 12h0m0-2h0m0 1h0m0 1h0m0-1h0m0 1h0m0-7h0m0 6h0m0-1h0m1-4h0m0-1h0m0 0h0m0 3h0m0-3h0m0 3h0m0-3h0m1-3h0m0 3h0m0-1h0m0-1h0m0 1h0m0-1h0m0 1h0m0-2h0m1-1h0m-3 12h0m0 0h0m0 0h0m0 0h0m-1 7h0m0-2h0m0 1h0m0 0h0m0-4h0m0 1h0m0 0h0m0 2h0m0-1h0m0-1h0m0 0h0m0 2h0m-1 4h0m0 2h0m0-4h0m0 4h0m0 0h0m0 0h0m-1 4h0m0 0h0m0-2h0m1-1h0m0 0h0" stroke="#1a5f9e" stroke-width="10.4" stroke-linecap="round" stroke-opacity="0.3"/>
<path d="M1834 1505h0m-25-4h0m-28 8h0m-6 14h0m6-5h0m9-2h0m12 3h0m-10 11h0m-12 5h0m-7-3h0m-20 3h0m9 10h0m5-3h0m0-4h0m3 8h0m3-3h0m3 10h0m-8-3h0m-4 0h0m-2 4h0m0 5h0m-4-9h0m-2 7h0m-6-5h0m-1 0h0m-2 7h0m-3-5h0m-1 1h0m-3 0h0m-3 14h0m2-9h0m6 4h0m2 7h0m0-6h0m1 3h0m2-4h0m2 2h0m2 5h0m6-3h0m2-2h0m-6 8h0m0-1h0m-1-1h0m-2 3h0m0 3h0m0 3h0m-1-2h0m-2-6h0m-1 7h0m0-8h0m0 8h0m0-6h0m0 8h0m0-3h0m-2-3h0m0 3h0m-1 0h0m-1-5h0m-1 6h0m-2-6h0m-2 8h0m-2-6h0m-2 1h0m-1 5h0m-4-9h0m2 20h0m0-7h0m0 9h0m3-4h0m0 1h0m1-8h0m1 9h0m1-6h0m1-2h0m1 7h0m1-8h0m3 3h0m1 1h0m0-3h0m1 1h0m0 7h0m2-4h0m4-4h0m-1 22h0m-4-10h0m-1 4h0m0-4h0m0 9h0m-1-8h0m0 2h0m-2 1h0m-2-5h0m0 2h0m-1 2h0m-1 0h0m-1-1h0m-1 5h0m0 3h0m-1-4h0m-2-7h0m0 6h0m-2-3h0m0 5h0m-2-1h0m-9 10h0m3 5h0m3-1h0m1-3h0m0-2h0m0 5h0m0-8h0m1 0h0m2 10h0m1-2h0m0-5h0m0 1h0m2-2h0m0 7h0m1-9h0m0 9h0m5-3h0m-1 13h0m-1-2h0m-5 4h0m0-10h0m-2 3h0m0 4h0m-2-1h0m-1-1h0m-1 4h0m0-4h0m0 6h0m-2-3h0m-1-5h0m-1 0h0m0 0h0m0 6h0m-1-3h0m0-6h0m-1 2h0m-1 5h0m-1-6h0m0 3h0m0 6h0m0 0h0m0-8h0m-1 4h0m-2-4h0m-1 8h0m-5 3h0m2 7h0m2-1h0m1-3h0m0 5h0m2-3h0m1-1h0m1-5h0m1 9h0m2-5h0m0-1h0m1-3h0m0 3h0m2 2h0m1-3h0m1 5h0m0 1h0m2-6h0m0 11h0m-1 8h0m-2-8h0m-4 10h0m-2-10h0m0-1h0m-1 2h0m0 4h0m-3-2h0m0 2h0m0 1h0m0-3h0m-1-3h0m0 7h0m0-1h0m0-1h0m0 5h0m-1 0h0m-1-6h0m0 2h0m-1-3h0m0 6h0m-1-5h0m-1 5h0m-1 1h0m0 0h0m0-1h0m-2 1h0m0-2h0m-3 14h0m1-5h0m0-4h0m0 8h0m2-3h0m0-7h0m0 3h0m1 7h0m0-4h0m1 5h0m0-7h0m2 4h0m1-4h0m0 0h0m1 2h0m0 1h0m0 4h0m1-9h0m0 0h0m0-2h0m9 6h0m-10 7h0m-3-1h0m0 7h0m0 0h0m-1 1h0m-1-2h0m-1-6h0m0 1h0m0 7h0m-1 1h0m-1-8h0m-1 9h0m0-8h0m-1 9h0m0-7h0m-1 0h0m0 5h0m-1-1h0m0-5h0m-1 1h0m0 5h0m-1 1h0m-3 8h0m1 4h0m1-9h0m0 3h0m1 5h0m0 2h0m1-4h0m0-2h0m0 2h0m0 3h0m1-2h0m0 0h0m1-1h0m0-3h0m0 4h0m0-7h0m0 3h0m0-4h0m1 0h0m4 3h0m0 14h0m-5 0h0m-1-3h0m0 0h0m-1-2h0m-1 1h0m-1 0h0m0 4h0m-1-3h0m0 9h0m0-5h0m-1-4h0m0 4h0m0-4h0m0 9h0m0-10h0m-1 1h0m0 7h0m0-8h0m-1 8h0m0-1h0m0 1h0m-1-3h0m0 1h0m-1-2h0m0 4h0m-4 1h0m-1 13h0m1-6h0m0 4h0m2 2h0m0 0h0m0-4h0m0 1h0m1 0h0m0 3h0m0-10h0m0 0h0m0 10h0m1-10h0m1 0h0m0 4h0m0 0h0m2 4h0m2-8h0m3-1h0m1 0h0m-10 12h0m-2 9h0m0-7h0m0 0h0m0 0h0m0 7h0m-1-8h0m0 7h0m0-5h0m0 3h0m0 2h0m0-8h0m-1 5h0m0-5h0m0 2h0m-1 6h0m0-7h0m0 7h0m-1-3h0m-1 3h0m-1 2h0m-2 11h0m1 2h0m1 0h0m0-8h0m0 2h0m1 2h0m0 0h0m0-4h0m0 5h0m0-8h0m0 2h0m0 1h0m0-2h0m1 0h0m0 6h0m0-2h0m0-5h0m0 4h0m0-2h0m2 0h0m1 1h0m-4 9h0m-1 3h0m0 0h0m0 2h0m0-3h0m0-2h0m-1 5h0m0 1h0m0-6h0m0 3h0m0-2h0m0 0h0m-1 10h0m0-9h0m0-2h0m0 11h0m0-4h0m0 3h0m-1-3h0m0 4h0m0-2h0m0-3h0m-1-2h0m-3 19h0m0 0h0m0 0h0m1-2h0m0 0h0m0 2h0m0-2h0m0 0h0m0 1h0m1-3h0m0-2h0m0 1h0m0 3h0m0-8h0m1 4h0m0 3h0m0-5h0m1-2h0m0 2h0m0 4h0m0-7h0m0 2h0m1-2h0m0 2h0m-3 10h0m-1 5h0m0-1h0m0-1h0m0-2h0m0 3h0m0-1h0m0 1h0m-1 1h0m0-4h0m0 3h0m-1 6h0m0-6h0m0-1h0m0 4h0m0-1h0m0 3h0m0 1h0m-1-1h0m-3 14h0m1 0h0m0-2h0m0 2h0m0-3h0m0 1h0m0 0h0m0 2h0m0-1h0m0-3h0m0 2h0m0 1h0m0-1h0m0 1h0m1-4h0m0 3h0m0-7h0m0 4h0m0 1h0m0-5h0m0-1h0m0 6h0m0-2h0m0-2h0m0 4h0m0-1h0m0-4h0m0 0h0m0 1h0m0 4h0m0-2h0m0-2h0m0 2h0m1-1h0m0-1h0m0-2h0m0 0h0m0 2h0m4-2h0m-6 11h0m0 0h0m0 1h0m0 0h0m-1 3h0m0 0h0m0 2h0m0-3h0m0 1h0m0 1h0m0-1h0m0 0h0m0-1h0m0 1h0m0-1h0m0 1h0m0 1h0m-1 6h0m0-3h0m0 0h0m0 3h0m0 0h0m0-3h0m0 1h0m0-3h0m0 5h0m0-3h0m0-1h0m0 3h0m0-3h0m0 1h0m-1 6h0m0-2h0m0 3h0m0-1h0m0 1h0m0 0h0m0-2h0m1-1h0m0 0h0m0 0h0" stroke="#1a5f9e" stroke-width="10.4" stroke-linecap="round" stroke-opacity="0.3"/>
<path d="M1786 1514h0m19 14h0m-18-3h0m-16-1h0m-10 15h0m6 5h0m1-3h0m4 6h0m1-4h0m2-3h0m5 2h0m-10 14h0m-7 0h0m-11 3h0m-1-3h0m-10 1h0m-7 0h0m0 10h0m5-7h0m4 10h0m1 0h0m2 1h0m5-7h0m1 7h0m1-7h0m0 6h0m1-1h0m3 1h0m0-9h0m1 0h0m2 2h0m1 5h0m2-4h0m8 2h0m0 1h0m8-6h0m-7 21h0m-1-5h0m-9 1h0m-3 1h0m-3-5h0m0 9h0m-1-2h0m0-9h0m-1 1h0m0 3h0m-3-3h0m0 3h0m-1-4h0m-1 0h0m-1 3h0m-1-3h0m0 4h0m-1 7h0m0-5h0m0 4h0m0-5h0m0 1h0m-2-6h0m-3 0h0m-1 3h0m0 8h0m0-1h0m-1-1h0m-4 14h0m0 0h0m2-5h0m2 1h0m0 3h0m2-4h0m3 4h0m1-8h0m3-2h0m3 9h0m0-4h0m1 0h0m1 7h0m-1 8h0m-1-7h0m-2 3h0m-2 5h0m-1 2h0m-2-3h0m-1-7h0m-1-1h0m-2 4h0m0 3h0m-1 2h0m-1-7h0m0 4h0m-1-4h0m0-1h0m-1 3h0m0 4h0m0-1h0m-1-4h0m0-1h0m-1 0h0m0 2h0m0 5h0m-1-8h0m-1 0h0m0 8h0m-1-2h0m-1 3h0m-1-3h0m-5 2h0m-3-6h0m-1 9h0m1 9h0m3-2h0m1 1h0m1-4h0m0 7h0m1-3h0m3 1h0m0 1h0m1-8h0m0 7h0m0 1h0m3-5h0m3 4h0m0-5h0m0 4h0m2-6h0m0 11h0m-2-1h0m-3 3h0m-1 5h0m-3 2h0m0-7h0m-2-3h0m-4 4h0m0 0h0m0 5h0m-2-9h0m0 2h0m-1-1h0m0 8h0m-1 2h0m0-6h0m-2 1h0m0 4h0m-4 11h0m1-6h0m0 5h0m0-7h0m1 5h0m1 2h0m0 1h0m0-3h0m1 3h0m1 2h0m0-5h0m1-4h0m0-1h0m1 9h0m0-10h0m1 7h0m0-2h0m1 3h0m0 1h0m1 1h0m1-1h0m0-9h0m1 5h0m2-5h0m1 2h0m1 5h0m4-1h0m-7 11h0m-4 1h0m0 5h0m0-2h0m0-6h0m-1 7h0m-1-1h0m-2-6h0m-1 2h0m-1-5h0m0 9h0m0-1h0m-1-4h0m0 7h0m0-10h0m-1 7h0m0-4h0m0 2h0m0-4h0m-1 4h0m0-2h0m-1-4h0m0 7h0m0 1h0m-1 2h0m0 0h0m-3-7h0m-1 2h0m-5 18h0m3-3h0m0-7h0m1 7h0m1 0h0m0-2h0m1-2h0m1 0h0m0 4h0m1-6h0m0 4h0m0-3h0m0 4h0m1 3h0m1-7h0m0 1h0m0-1h0m0 4h0m0-4h0m1-1h0m0-1h0m0 9h0m6-8h0m-3 10h0m-1 0h0m-3 2h0m-1 1h0m-1-3h0m-1 2h0m-1 0h0m0 6h0m0-7h0m-1 9h0m-1-9h0m0-1h0m-1 0h0m-1 6h0m0 3h0m0-3h0m-1 0h0m-1 1h0m-1-3h0m0 1h0m0 1h0m-1 4h0m0-2h0m-1 1h0m-5 14h0m0 0h0m1-7h0m0 3h0m1 0h0m2 2h0m0-2h0m0-4h0m1 4h0m0-4h0m0 8h0m2-5h0m0-2h0m0 6h0m0-4h0m0-5h0m1 8h0m0-2h0m1-7h0m0 9h0m1-3h0m1 4h0m2-10h0m-7 20h0m0-6h0m-1-2h0m0 11h0m-1-3h0m0-5h0m-1-2h0m0 9h0m-1-2h0m0-6h0m0 8h0m0 0h0m-1-8h0m0 2h0m0 5h0m0-4h0m0 4h0m0-6h0m-1-3h0m0 9h0m-1 2h0m-2-2h0m-6 13h0m4-2h0m0 2h0m0 0h0m1-4h0m1-5h0m0 6h0m0-2h0m0 0h0m1 4h0m0-2h0m0 0h0m0 2h0m1-4h0m0 1h0m2-4h0m0 3h0m1-5h0m-5 16h0m-1 7h0m0-11h0m0 4h0m-1 3h0m0 1h0m0-6h0m0 1h0m0 0h0m0 2h0m0-3h0m-1 2h0m0 1h0m0 1h0m0 0h0m0 2h0m-1-8h0m0 4h0m0 6h0m0-5h0m0-3h0m0 2h0m-1 1h0m0 4h0m0-3h0m0 4h0m0 1h0m0-1h0m0-3h0m0 4h0m-1-1h0m0-6h0m-1 3h0m0-2h0m-2 17h0m0-6h0m0 7h0m0-2h0m0 0h0m1 0h0m0-8h0m0 7h0m0-4h0m0 5h0m1-6h0m0 3h0m0-1h0m0-1h0m0-3h0m0 4h0m1 2h0m0 1h0m0-1h0m0-6h0m0 2h0m1 0h0m0-3h0m0 8h0m0-2h0m0-5h0m1 0h0m0-1h0m0 3h0m1-3h0m1 4h0m6-2h0m-12 13h0m0-2h0m-1 3h0m0 1h0m0-5h0m0 3h0m0 0h0m-1 3h0m0-1h0m0-1h0m0-2h0m0 6h0m0 2h0m0-6h0m-1 5h0m0-2h0m0-2h0m0-2h0m0 3h0m0-4h0m0 9h0m-1 0h0m0 0h0m-1 0h0m-1 10h0m0 1h0m0-4h0m0-2h0m0 4h0m0 3h0m0-2h0m0 0h0m1-7h0m0 4h0m0 1h0m0-5h0m0 6h0m0 3h0m0-5h0m0 5h0m0-8h0m1 2h0m0 2h0m0-6h0m0 3h0m0 5h0m0-6h0m0 2h0m0 0h0m-2 11h0m-1-1h0m-1 7h0m0 0h0m0-6h0m0 7h0m0-4h0m0-2h0m0 5h0m0-1h0m0-1h0m0 1h0m0-4h0m0 1h0m-1 3h0m0 0h0m0 2h0m-1-1h0m-2 13h0m1-3h0m0-2h0m0 2h0m0 3h0m0-3h0m1-4h0m0 3h0m0-5h0m0 3h0m0-4h0m0 5h0m0-2h0m0-2h0m1-1h0m0-1h0m0 4h0m2-3h0m-4 12h0m0 0h0m0 3h0m-1 2h0m0 0h0m0-4h0m0 4h0m0-1h0m0-3h0m0 0h0m0 3h0m-1 2h0m0 3h0m0-3h0m0 2h0m0 0h0m0 2h0m0-3h0m0-3h0m0 5h0m0 0h0m0-1h0m0-3h0m0 5h0m-1 3h0m0-1h0m0 2h0m0-1h0m0-1h0m0 1h0m0-1h0m0 1h0m1-2h0m0 0h0m0 0h0" stroke="#1a5f9e" stroke-width="10.4" stroke-linecap="round" stroke-opacity="0.3"/>
<line x1="1281.9" y1="1456.3" x2="1281.9" y2="1821.8" stroke="#000" stroke-width="3.5"/>
<line x1="1280.2" y1="1820.2" x2="1593" y2="1820.2" stroke="#000" stroke-width="3.5"/>
<line x1="1269.9" y1="1803.4" x2="1280.9" y2="1803.4" stroke="#000" stroke-width="3.5"/>
<text x="1269.6" y="1817.8" font-size="21.5" letter-spacing="-0.6" fill="#111" text-anchor="end">0</text>
<line x1="1269.9" y1="1718.5" x2="1280.9" y2="1718.5" stroke="#000" stroke-width="3.5"/>
<text x="1262.6" y="1729.1" font-size="21.5" letter-spacing="-0.6" fill="#111" text-anchor="end">1000</text>
<line x1="1269.9" y1="1633.6" x2="1280.9" y2="1633.6" stroke="#000" stroke-width="3.5"/>
<text x="1262.6" y="1644.2" font-size="21.5" letter-spacing="-0.6" fill="#111" text-anchor="end">2000</text>
<line x1="1269.9" y1="1548.7" x2="1280.9" y2="1548.7" stroke="#000" stroke-width="3.5"/>
<text x="1262.6" y="1559.3" font-size="21.5" letter-spacing="-0.6" fill="#111" text-anchor="end">3000</text>
<line x1="1269.9" y1="1463.8" x2="1280.9" y2="1463.8" stroke="#000" stroke-width="3.5"/>
<text x="1262.6" y="1474.4" font-size="21.5" letter-spacing="-0.6" fill="#111" text-anchor="end">4000</text>
<line x1="1296.2" y1="1821" x2="1296.2" y2="1830" stroke="#000" stroke-width="3.5"/>
<text x="1307.5" y="1851.3" font-size="21.5" letter-spacing="-0.6" fill="#111" text-anchor="middle">0</text>
<line x1="1390.1" y1="1821" x2="1390.1" y2="1830" stroke="#000" stroke-width="3.5"/>
<text x="1380.4" y="1851.3" font-size="21.5" letter-spacing="-0.6" fill="#111" text-anchor="middle">10000</text>
<line x1="1484" y1="1821" x2="1484" y2="1830" stroke="#000" stroke-width="3.5"/>
<text x="1473.9" y="1851.3" font-size="21.5" letter-spacing="-0.6" fill="#111" text-anchor="middle">20000</text>
<line x1="1577.9" y1="1821" x2="1577.9" y2="1830" stroke="#000" stroke-width="3.5"/>
<text x="1567.4" y="1851.3" font-size="21.5" letter-spacing="-0.6" fill="#111" text-anchor="middle">30000</text>
<line x1="1656.3" y1="1456.3" x2="1656.3" y2="1821.8" stroke="#000" stroke-width="3.5"/>
<line x1="1654.6" y1="1820.2" x2="1967.7" y2="1820.2" stroke="#000" stroke-width="3.5"/>
<line x1="1644.3" y1="1803.3" x2="1655.3" y2="1803.3" stroke="#000" stroke-width="3.5"/>
<text x="1644.4" y="1817.7" font-size="21.5" letter-spacing="-0.6" fill="#111" text-anchor="end">0</text>
<line x1="1644.3" y1="1719.3" x2="1655.3" y2="1719.3" stroke="#000" stroke-width="3.5"/>
<text x="1637.4" y="1729.9" font-size="21.5" letter-spacing="-0.6" fill="#111" text-anchor="end">1000</text>
<line x1="1644.3" y1="1635.4" x2="1655.3" y2="1635.4" stroke="#000" stroke-width="3.5"/>
<text x="1637.4" y="1646" font-size="21.5" letter-spacing="-0.6" fill="#111" text-anchor="end">2000</text>
<line x1="1644.3" y1="1551.4" x2="1655.3" y2="1551.4" stroke="#000" stroke-width="3.5"/>
<text x="1637.4" y="1562" font-size="21.5" letter-spacing="-0.6" fill="#111" text-anchor="end">3000</text>
<line x1="1644.3" y1="1467.5" x2="1655.3" y2="1467.5" stroke="#000" stroke-width="3.5"/>
<text x="1637.4" y="1478.1" font-size="21.5" letter-spacing="-0.6" fill="#111" text-anchor="end">4000</text>
<line x1="1670" y1="1821" x2="1670" y2="1830" stroke="#000" stroke-width="3.5"/>
<text x="1681.5" y="1851.3" font-size="21.5" letter-spacing="-0.6" fill="#111" text-anchor="middle">0</text>
<line x1="1764.1" y1="1821" x2="1764.1" y2="1830" stroke="#000" stroke-width="3.5"/>
<text x="1754.9" y="1851.3" font-size="21.5" letter-spacing="-0.6" fill="#111" text-anchor="middle">10000</text>
<line x1="1858.2" y1="1821" x2="1858.2" y2="1830" stroke="#000" stroke-width="3.5"/>
<text x="1848.5" y="1851.3" font-size="21.5" letter-spacing="-0.6" fill="#111" text-anchor="middle">20000</text>
<line x1="1952.3" y1="1821" x2="1952.3" y2="1830" stroke="#000" stroke-width="3.5"/>
<text x="1941.5" y="1851.3" font-size="21.5" letter-spacing="-0.6" fill="#111" text-anchor="middle">30000</text>
<text x="1448" y="1424.2" font-size="36" text-anchor="middle">WT</text>
<text x="1816.3" y="1424.2" font-size="36" text-anchor="middle">KO</text>
<text x="1437.3" y="1903" font-size="30" textLength="132" lengthAdjust="spacingAndGlyphs" text-anchor="middle">UMI count</text>
<text x="1817.8" y="1903" font-size="30" textLength="132" lengthAdjust="spacingAndGlyphs" text-anchor="middle">UMI count</text>
<text x="1197.8" y="1668.3" font-size="29" text-anchor="middle" transform="rotate(-90 1197.8 1668.3)">Genes per cell</text>
</svg>
</body></html>
